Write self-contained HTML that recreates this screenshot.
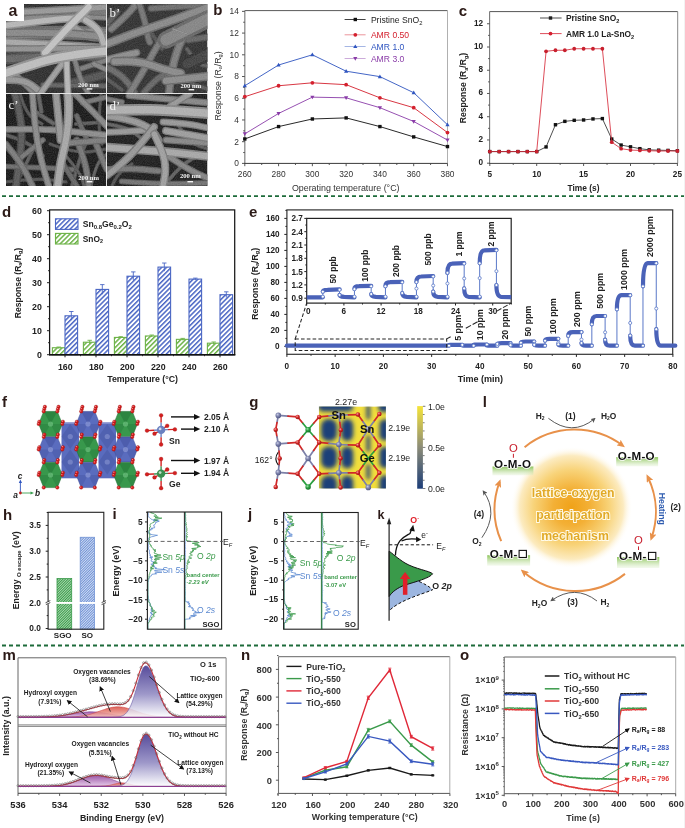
<!DOCTYPE html>
<html><head><meta charset="utf-8"><title>figure</title>
<style>html,body{margin:0;padding:0;background:#fff;width:685px;height:828px;overflow:hidden}svg{display:block;will-change:transform}text{font-family:"Liberation Sans", sans-serif}</style>
</head><body>
<svg width="685" height="828" viewBox="0 0 685 828" font-family='"Liberation Sans", sans-serif'>
<rect x="0.00" y="0.00" width="685.00" height="828.00" fill="#ffffff" stroke="none" stroke-width="1" />
<line x1="2.00" y1="196.20" x2="685.00" y2="196.20" stroke="#1d6b3a" stroke-width="1.8" stroke-dasharray="4 3"/>
<line x1="2.00" y1="645.50" x2="685.00" y2="645.50" stroke="#1d6b3a" stroke-width="1.8" stroke-dasharray="4 3"/>
<rect x="684.00" y="0.00" width="1.00" height="828.00" fill="#f2f2f2" stroke="none" stroke-width="1" />
<defs><filter id="semblur" x="-5%" y="-5%" width="110%" height="110%"><feGaussianBlur stdDeviation="0.65"/></filter><filter id="noise" x="0" y="0" width="100%" height="100%"><feTurbulence type="fractalNoise" baseFrequency="0.9" numOctaves="2" seed="3"/><feColorMatrix type="matrix" values="0 0 0 0 1  0 0 0 0 1  0 0 0 0 1  0 0 0 -1.2 1.1"/></filter></defs>
<clipPath id="clip_a"><rect x="6" y="4" width="100.5" height="89.4"/></clipPath>
<g clip-path="url(#clip_a)">
<rect x="6.00" y="4.00" width="100.50" height="89.40" fill="#262626" stroke="none" stroke-width="1" />
<g filter="url(#semblur)" stroke-linecap="round" stroke-linejoin="round" fill="none">
<path d="M6.0,59.0 Q46.0,56.0 76.5,56.0 L107.0,56.0" stroke="#484848" stroke-width="10.35" fill="none" />
<path d="M6.0,59.0 Q46.0,56.0 76.5,56.0 L107.0,56.0" stroke="#5f5f5f" stroke-width="6.75" fill="none" />
<path d="M6.0,34.0 Q56.0,32.0 81.5,33.0 L107.0,34.0" stroke="#616161" stroke-width="13.799999999999999" fill="none" />
<path d="M6.0,34.0 Q56.0,32.0 81.5,33.0 L107.0,34.0" stroke="#818181" stroke-width="9.0" fill="none" />
<path d="M6.0,12.0 L107.0,12.0" stroke="#545454" stroke-width="9.2" fill="none" />
<path d="M6.0,12.0 L107.0,12.0" stroke="#707070" stroke-width="6.0" fill="none" />
<path d="M68.0,84.0 L107.0,74.0" stroke="#3b3b3b" stroke-width="9.2" fill="none" />
<path d="M68.0,84.0 L107.0,74.0" stroke="#4e4e4e" stroke-width="6.0" fill="none" />
<path d="M76.0,29.0 Q91.0,39.0 99.0,36.5 L107.0,34.0" stroke="#6e6e6e" stroke-width="9.2" fill="none" />
<path d="M76.0,29.0 Q91.0,39.0 99.0,36.5 L107.0,34.0" stroke="#929292" stroke-width="6.0" fill="none" />
<path d="M25.0,12.0 Q65.0,10.0 86.0,8.5 L107.0,7.0" stroke="#6e6e6e" stroke-width="8.049999999999999" fill="none" />
<path d="M25.0,12.0 Q65.0,10.0 86.0,8.5 L107.0,7.0" stroke="#929292" stroke-width="5.25" fill="none" />
<path d="M26.0,18.0 Q66.0,16.0 86.5,17.0 L107.0,18.0" stroke="#616161" stroke-width="5.75" fill="none" />
<path d="M26.0,18.0 Q66.0,16.0 86.5,17.0 L107.0,18.0" stroke="#818181" stroke-width="3.75" fill="none" />
<path d="M6.0,33.0 Q50.0,32.0 78.5,34.5 L107.0,37.0" stroke="#636363" stroke-width="9.2" fill="none" />
<path d="M6.0,33.0 Q50.0,32.0 78.5,34.5 L107.0,37.0" stroke="#838383" stroke-width="6.0" fill="none" />
<path d="M6.0,25.4 Q35.5,21.7 51.8,19.9 Q68.0,18.0 77.5,18.2 L87.0,18.5" stroke="#868686" stroke-width="8.049999999999999" fill="none" />
<path d="M6.0,25.4 Q35.5,21.7 51.8,19.9 Q68.0,18.0 77.5,18.2 L87.0,18.5" stroke="#b2b2b2" stroke-width="5.25" fill="none" />
<path d="M6.0,42.0 Q50.0,44.0 78.5,46.0 L107.0,48.0" stroke="#7a7a7a" stroke-width="8.049999999999999" fill="none" />
<path d="M6.0,42.0 Q50.0,44.0 78.5,46.0 L107.0,48.0" stroke="#a2a2a2" stroke-width="5.25" fill="none" />
<path d="M6.0,49.0 L107.0,48.0" stroke="#6a6a6a" stroke-width="6.8999999999999995" fill="none" />
<path d="M6.0,49.0 L107.0,48.0" stroke="#8c8c8c" stroke-width="4.5" fill="none" />
<path d="M85.6,20.0 Q99.0,28.0 101.5,36.5 L104.0,45.0" stroke="#838383" stroke-width="8.049999999999999" fill="none" />
<path d="M85.6,20.0 Q99.0,28.0 101.5,36.5 L104.0,45.0" stroke="#adadad" stroke-width="5.25" fill="none" />
<path d="M77.0,70.0 L107.0,60.0" stroke="#595959" stroke-width="5.75" fill="none" />
<path d="M77.0,70.0 L107.0,60.0" stroke="#767676" stroke-width="3.75" fill="none" />
<path d="M75.0,61.0 Q80.0,79.0 84.3,86.5 L88.6,94.0" stroke="#5b5b5b" stroke-width="5.75" fill="none" />
<path d="M75.0,61.0 Q80.0,79.0 84.3,86.5 L88.6,94.0" stroke="#787878" stroke-width="3.75" fill="none" />
<path d="M94.0,64.0 L107.0,70.0" stroke="#616161" stroke-width="5.75" fill="none" />
<path d="M94.0,64.0 L107.0,70.0" stroke="#818181" stroke-width="3.75" fill="none" />
<path d="M43.0,85.0 L107.0,86.0" stroke="#444444" stroke-width="5.75" fill="none" />
<path d="M43.0,85.0 L107.0,86.0" stroke="#5a5a5a" stroke-width="3.75" fill="none" />
<path d="M15.0,74.5 L35.5,94.0" stroke="#616161" stroke-width="6.8999999999999995" fill="none" />
<path d="M15.0,74.5 L35.5,94.0" stroke="#818181" stroke-width="4.5" fill="none" />
<path d="M6.0,80.0 Q23.7,79.0 31.9,85.5 L40.0,92.0" stroke="#6e6e6e" stroke-width="8.049999999999999" fill="none" />
<path d="M6.0,80.0 Q23.7,79.0 31.9,85.5 L40.0,92.0" stroke="#929292" stroke-width="5.25" fill="none" />
<path d="M40.0,94.0 L62.0,64.0" stroke="#747474" stroke-width="6.8999999999999995" fill="none" />
<path d="M40.0,94.0 L62.0,64.0" stroke="#9a9a9a" stroke-width="4.5" fill="none" />
<path d="M66.5,61.0 L68.0,94.0" stroke="#868686" stroke-width="6.8999999999999995" fill="none" />
<path d="M66.5,61.0 L68.0,94.0" stroke="#b2b2b2" stroke-width="4.5" fill="none" />
<path d="M45.0,52.7 Q65.0,30.5 76.8,18.8 L88.6,7.0" stroke="#909090" stroke-width="9.2" fill="none" />
<path d="M45.0,52.7 Q65.0,30.5 76.8,18.8 L88.6,7.0" stroke="#bebebe" stroke-width="6.0" fill="none" />
<path d="M6.0,73.0 Q28.0,65.6 39.0,62.3 Q50.0,59.0 65.0,56.4 Q80.0,53.8 93.5,52.3 L107.0,50.9" stroke="#8c8c8c" stroke-width="11.5" fill="none" />
<path d="M6.0,73.0 Q28.0,65.6 39.0,62.3 Q50.0,59.0 65.0,56.4 Q80.0,53.8 93.5,52.3 L107.0,50.9" stroke="#bababa" stroke-width="7.5" fill="none" />
</g>
<rect x="6" y="4" width="100.5" height="89.4" filter="url(#noise)" opacity="0.16"/>
</g>
<clipPath id="clip_b"><rect x="107" y="4" width="100.5" height="89.4"/></clipPath>
<g clip-path="url(#clip_b)">
<rect x="107.00" y="4.00" width="100.50" height="89.40" fill="#2a2a2a" stroke="none" stroke-width="1" />
<g filter="url(#semblur)" stroke-linecap="round" stroke-linejoin="round" fill="none">
<path d="M187.0,49.0 Q197.0,64.0 202.5,65.0 L208.0,66.0" stroke="#404040" stroke-width="4.6" fill="none" />
<path d="M187.0,49.0 Q197.0,64.0 202.5,65.0 L208.0,66.0" stroke="#545454" stroke-width="3.0" fill="none" />
<path d="M107.0,79.0 L122.0,90.0" stroke="#3b3b3b" stroke-width="4.6" fill="none" />
<path d="M107.0,79.0 L122.0,90.0" stroke="#4e4e4e" stroke-width="3.0" fill="none" />
<path d="M152.0,34.0 L162.0,49.0" stroke="#3b3b3b" stroke-width="4.6" fill="none" />
<path d="M152.0,34.0 L162.0,49.0" stroke="#4e4e4e" stroke-width="3.0" fill="none" />
<path d="M192.0,84.0 L208.0,89.0" stroke="#404040" stroke-width="4.6" fill="none" />
<path d="M192.0,84.0 L208.0,89.0" stroke="#545454" stroke-width="3.0" fill="none" />
<path d="M107.0,24.0 L117.0,12.0" stroke="#404040" stroke-width="6.8999999999999995" fill="none" />
<path d="M107.0,24.0 L117.0,12.0" stroke="#545454" stroke-width="4.5" fill="none" />
<path d="M187.0,64.0 L208.0,54.0" stroke="#2c2c2c" stroke-width="13.799999999999999" fill="none" />
<path d="M187.0,64.0 L208.0,54.0" stroke="#3b3b3b" stroke-width="9.0" fill="none" />
<path d="M188.0,40.0 L208.0,37.0" stroke="#484848" stroke-width="6.8999999999999995" fill="none" />
<path d="M188.0,40.0 L208.0,37.0" stroke="#5f5f5f" stroke-width="4.5" fill="none" />
<path d="M151.0,8.4 L208.0,4.7" stroke="#4e4e4e" stroke-width="6.8999999999999995" fill="none" />
<path d="M151.0,8.4 L208.0,4.7" stroke="#676767" stroke-width="4.5" fill="none" />
<path d="M111.4,29.0 Q126.2,15.8 131.3,9.9 L136.5,4.0" stroke="#585858" stroke-width="7.589999999999999" fill="none" />
<path d="M111.4,29.0 Q126.2,15.8 131.3,9.9 L136.5,4.0" stroke="#747474" stroke-width="4.949999999999999" fill="none" />
<path d="M139.4,4.0 Q145.3,21.7 146.4,29.0 Q147.6,36.4 148.7,39.3 L149.8,42.3" stroke="#535353" stroke-width="6.8999999999999995" fill="none" />
<path d="M139.4,4.0 Q145.3,21.7 146.4,29.0 Q147.6,36.4 148.7,39.3 L149.8,42.3" stroke="#6e6e6e" stroke-width="4.5" fill="none" />
<path d="M107.0,67.4 Q118.8,73.3 123.9,78.4 Q129.0,83.6 132.0,88.8 L135.0,94.0" stroke="#4b4b4b" stroke-width="7.589999999999999" fill="none" />
<path d="M107.0,67.4 Q118.8,73.3 123.9,78.4 Q129.0,83.6 132.0,88.8 L135.0,94.0" stroke="#636363" stroke-width="4.949999999999999" fill="none" />
<path d="M143.9,92.5 Q154.2,80.7 160.1,77.0 L166.0,73.3" stroke="#484848" stroke-width="6.8999999999999995" fill="none" />
<path d="M143.9,92.5 Q154.2,80.7 160.1,77.0 L166.0,73.3" stroke="#5f5f5f" stroke-width="4.5" fill="none" />
<path d="M129.0,94.0 Q143.9,70.4 149.8,59.3 Q155.7,48.2 159.3,43.1 L163.0,38.0" stroke="#585858" stroke-width="7.589999999999999" fill="none" />
<path d="M129.0,94.0 Q143.9,70.4 149.8,59.3 Q155.7,48.2 159.3,43.1 L163.0,38.0" stroke="#747474" stroke-width="4.949999999999999" fill="none" />
<path d="M169.0,94.0 Q170.4,74.8 174.1,61.5 Q177.8,48.2 180.8,42.3 L183.7,36.4" stroke="#5b5b5b" stroke-width="8.51" fill="none" />
<path d="M169.0,94.0 Q170.4,74.8 174.1,61.5 Q177.8,48.2 180.8,42.3 L183.7,36.4" stroke="#787878" stroke-width="5.550000000000001" fill="none" />
<path d="M107.0,43.8 Q129.0,35.0 140.0,31.3 Q151.0,27.6 162.0,23.9 Q173.0,20.2 190.5,13.6 L208.0,7.0" stroke="#636363" stroke-width="9.2" fill="none" />
<path d="M107.0,43.8 Q129.0,35.0 140.0,31.3 Q151.0,27.6 162.0,23.9 Q173.0,20.2 190.5,13.6 L208.0,7.0" stroke="#838383" stroke-width="6.0" fill="none" />
<path d="M107.0,60.0 Q121.7,55.6 129.1,54.2 L136.5,52.7" stroke="#666666" stroke-width="7.589999999999999" fill="none" />
<path d="M107.0,60.0 Q121.7,55.6 129.1,54.2 L136.5,52.7" stroke="#878787" stroke-width="4.949999999999999" fill="none" />
<path d="M114.4,61.5 Q136.5,60.0 151.2,65.2 Q166.0,70.4 173.3,71.8 L180.7,73.3" stroke="#646464" stroke-width="9.2" fill="none" />
<path d="M114.4,61.5 Q136.5,60.0 151.2,65.2 Q166.0,70.4 173.3,71.8 L180.7,73.3" stroke="#858585" stroke-width="6.0" fill="none" />
<path d="M166.0,80.7 L208.0,76.3" stroke="#646464" stroke-width="9.2" fill="none" />
<path d="M166.0,80.7 L208.0,76.3" stroke="#858585" stroke-width="6.0" fill="none" />
<path d="M166.0,40.0 L208.0,19.0" stroke="#606060" stroke-width="17.25" fill="none" />
<path d="M166.0,40.0 L208.0,19.0" stroke="#7f7f7f" stroke-width="11.25" fill="none" />
<path d="M173.0,29.0 L187.0,34.0" stroke="#6e6e6e" stroke-width="1.8399999999999999" fill="none" />
<path d="M173.0,29.0 L187.0,34.0" stroke="#929292" stroke-width="1.2000000000000002" fill="none" />
</g>
<rect x="107" y="4" width="100.5" height="89.4" filter="url(#noise)" opacity="0.16"/>
</g>
<clipPath id="clip_c"><rect x="6" y="94" width="100.5" height="92"/></clipPath>
<g clip-path="url(#clip_c)">
<rect x="6.00" y="94.00" width="100.50" height="92.00" fill="#111111" stroke="none" stroke-width="1" />
<g filter="url(#semblur)" stroke-linecap="round" stroke-linejoin="round" fill="none">
<path d="M6.0,135.0 Q26.0,141.0 34.5,148.5 L43.0,156.0" stroke="#3e3e3e" stroke-width="4.0249999999999995" fill="none" />
<path d="M6.0,135.0 Q26.0,141.0 34.5,148.5 L43.0,156.0" stroke="#525252" stroke-width="2.625" fill="none" />
<path d="M16.0,184.0 Q31.0,154.0 34.5,146.5 L38.0,139.0" stroke="#414141" stroke-width="4.0249999999999995" fill="none" />
<path d="M16.0,184.0 Q31.0,154.0 34.5,146.5 L38.0,139.0" stroke="#565656" stroke-width="2.625" fill="none" />
<path d="M50.0,144.0 Q76.0,154.0 91.5,151.5 L107.0,149.0" stroke="#3b3b3b" stroke-width="3.4499999999999997" fill="none" />
<path d="M50.0,144.0 Q76.0,154.0 91.5,151.5 L107.0,149.0" stroke="#4e4e4e" stroke-width="2.25" fill="none" />
<path d="M72.0,186.0 Q78.0,164.0 82.0,153.0 L86.0,142.0" stroke="#414141" stroke-width="4.0249999999999995" fill="none" />
<path d="M72.0,186.0 Q78.0,164.0 82.0,153.0 L86.0,142.0" stroke="#565656" stroke-width="2.625" fill="none" />
<path d="M91.0,186.0 Q96.0,164.0 101.5,159.0 L107.0,154.0" stroke="#444444" stroke-width="3.4499999999999997" fill="none" />
<path d="M91.0,186.0 Q96.0,164.0 101.5,159.0 L107.0,154.0" stroke="#5a5a5a" stroke-width="2.25" fill="none" />
<path d="M6.0,182.0 Q36.0,178.0 51.0,180.0 L66.0,182.0" stroke="#393939" stroke-width="3.4499999999999997" fill="none" />
<path d="M6.0,182.0 Q36.0,178.0 51.0,180.0 L66.0,182.0" stroke="#4c4c4c" stroke-width="2.25" fill="none" />
<path d="M36.0,114.0 L51.0,121.0" stroke="#3b3b3b" stroke-width="3.4499999999999997" fill="none" />
<path d="M36.0,114.0 L51.0,121.0" stroke="#4e4e4e" stroke-width="2.25" fill="none" />
<path d="M76.0,124.0 L107.0,122.0" stroke="#404040" stroke-width="4.0249999999999995" fill="none" />
<path d="M76.0,124.0 L107.0,122.0" stroke="#545454" stroke-width="2.625" fill="none" />
<path d="M101.0,94.0 Q98.0,124.0 100.0,134.0 L102.0,144.0" stroke="#3b3b3b" stroke-width="3.4499999999999997" fill="none" />
<path d="M101.0,94.0 Q98.0,124.0 100.0,134.0 L102.0,144.0" stroke="#4e4e4e" stroke-width="2.25" fill="none" />
<path d="M20.0,94.0 Q26.0,114.0 34.0,119.0 L42.0,124.0" stroke="#3b3b3b" stroke-width="3.4499999999999997" fill="none" />
<path d="M20.0,94.0 Q26.0,114.0 34.0,119.0 L42.0,124.0" stroke="#4e4e4e" stroke-width="2.25" fill="none" />
<path d="M66.0,156.0 Q81.0,174.0 82.5,180.0 L84.0,186.0" stroke="#3e3e3e" stroke-width="3.4499999999999997" fill="none" />
<path d="M66.0,156.0 Q81.0,174.0 82.5,180.0 L84.0,186.0" stroke="#525252" stroke-width="2.25" fill="none" />
<path d="M15.0,94.0 Q20.7,116.0 21.4,128.0 Q22.2,140.0 19.1,163.0 L16.0,186.0" stroke="#3e3e3e" stroke-width="8.049999999999999" fill="none" />
<path d="M15.0,94.0 Q20.7,116.0 21.4,128.0 Q22.2,140.0 19.1,163.0 L16.0,186.0" stroke="#525252" stroke-width="5.25" fill="none" />
<path d="M35.5,111.7 L53.2,123.5" stroke="#444444" stroke-width="4.6" fill="none" />
<path d="M35.5,111.7 L53.2,123.5" stroke="#5a5a5a" stroke-width="3.0" fill="none" />
<path d="M38.4,94.0 L41.4,111.7" stroke="#444444" stroke-width="4.6" fill="none" />
<path d="M38.4,94.0 L41.4,111.7" stroke="#5a5a5a" stroke-width="3.0" fill="none" />
<path d="M76.8,116.0 L87.0,140.0" stroke="#484848" stroke-width="5.75" fill="none" />
<path d="M76.8,116.0 L87.0,140.0" stroke="#5f5f5f" stroke-width="3.75" fill="none" />
<path d="M82.7,102.8 L107.0,97.0" stroke="#545454" stroke-width="5.75" fill="none" />
<path d="M82.7,102.8 L107.0,97.0" stroke="#707070" stroke-width="3.75" fill="none" />
<path d="M75.3,94.0 Q94.5,113.2 100.8,119.8 L107.0,126.4" stroke="#616161" stroke-width="6.8999999999999995" fill="none" />
<path d="M75.3,94.0 Q94.5,113.2 100.8,119.8 L107.0,126.4" stroke="#818181" stroke-width="4.5" fill="none" />
<path d="M6.0,166.5 Q50.0,168.0 61.2,168.8 L72.4,169.5" stroke="#4c4c4c" stroke-width="5.75" fill="none" />
<path d="M6.0,166.5 Q50.0,168.0 61.2,168.8 L72.4,169.5" stroke="#656565" stroke-width="3.75" fill="none" />
<path d="M20.7,157.7 L42.9,140.0" stroke="#545454" stroke-width="5.75" fill="none" />
<path d="M20.7,157.7 L42.9,140.0" stroke="#707070" stroke-width="3.75" fill="none" />
<path d="M6.0,144.4 Q20.7,162.0 26.6,174.0 L32.5,186.0" stroke="#585858" stroke-width="6.8999999999999995" fill="none" />
<path d="M6.0,144.4 Q20.7,162.0 26.6,174.0 L32.5,186.0" stroke="#757575" stroke-width="4.5" fill="none" />
<path d="M76.8,140.0 Q85.6,162.0 87.1,174.0 L88.6,186.0" stroke="#545454" stroke-width="6.8999999999999995" fill="none" />
<path d="M76.8,140.0 Q85.6,162.0 87.1,174.0 L88.6,186.0" stroke="#707070" stroke-width="4.5" fill="none" />
<path d="M94.5,140.0 Q103.3,162.0 105.2,165.8 L107.0,169.5" stroke="#545454" stroke-width="6.8999999999999995" fill="none" />
<path d="M94.5,140.0 Q103.3,162.0 105.2,165.8 L107.0,169.5" stroke="#707070" stroke-width="4.5" fill="none" />
<path d="M69.4,143.0 L107.0,140.0" stroke="#595959" stroke-width="6.8999999999999995" fill="none" />
<path d="M69.4,143.0 L107.0,140.0" stroke="#767676" stroke-width="4.5" fill="none" />
<path d="M62.0,162.0 L76.8,186.0" stroke="#484848" stroke-width="5.75" fill="none" />
<path d="M62.0,162.0 L76.8,186.0" stroke="#5f5f5f" stroke-width="3.75" fill="none" />
<path d="M6.0,129.4 Q35.5,128.7 50.2,129.8 Q65.0,130.9 86.0,133.1 L107.0,135.3" stroke="#666666" stroke-width="6.8999999999999995" fill="none" />
<path d="M6.0,129.4 Q35.5,128.7 50.2,129.8 Q65.0,130.9 86.0,133.1 L107.0,135.3" stroke="#878787" stroke-width="4.5" fill="none" />
<path d="M32.5,94.0 Q34.0,116.0 35.5,128.0 Q37.0,140.0 39.2,151.0 Q41.4,162.0 45.1,174.0 L48.8,186.0" stroke="#646464" stroke-width="6.8999999999999995" fill="none" />
<path d="M32.5,94.0 Q34.0,116.0 35.5,128.0 Q37.0,140.0 39.2,151.0 Q41.4,162.0 45.1,174.0 L48.8,186.0" stroke="#858585" stroke-width="4.5" fill="none" />
<path d="M56.0,94.0 Q59.0,123.5 59.8,131.8 L60.6,140.0" stroke="#6e6e6e" stroke-width="8.049999999999999" fill="none" />
<path d="M56.0,94.0 Q59.0,123.5 59.8,131.8 L60.6,140.0" stroke="#929292" stroke-width="5.25" fill="none" />
<path d="M68.0,94.0 Q69.4,108.7 68.0,124.3 Q66.5,140.0 63.5,151.0 Q60.6,162.0 59.1,174.0 L57.6,186.0" stroke="#7a7a7a" stroke-width="9.2" fill="none" />
<path d="M68.0,94.0 Q69.4,108.7 68.0,124.3 Q66.5,140.0 63.5,151.0 Q60.6,162.0 59.1,174.0 L57.6,186.0" stroke="#a2a2a2" stroke-width="6.0" fill="none" />
</g>
<rect x="6" y="94" width="100.5" height="92" filter="url(#noise)" opacity="0.16"/>
</g>
<clipPath id="clip_d"><rect x="107" y="94" width="100.5" height="92"/></clipPath>
<g clip-path="url(#clip_d)">
<rect x="107.00" y="94.00" width="100.50" height="92.00" fill="#161616" stroke="none" stroke-width="1" />
<g filter="url(#semblur)" stroke-linecap="round" stroke-linejoin="round" fill="none">
<path d="M107.0,124.0 Q127.0,127.0 134.5,133.0 L142.0,139.0" stroke="#444444" stroke-width="4.0249999999999995" fill="none" />
<path d="M107.0,124.0 Q127.0,127.0 134.5,133.0 L142.0,139.0" stroke="#5a5a5a" stroke-width="2.625" fill="none" />
<path d="M167.0,182.0 Q182.0,164.0 192.0,159.0 L202.0,154.0" stroke="#444444" stroke-width="4.0249999999999995" fill="none" />
<path d="M167.0,182.0 Q182.0,164.0 192.0,159.0 L202.0,154.0" stroke="#5a5a5a" stroke-width="2.625" fill="none" />
<path d="M177.0,124.0 Q192.0,144.0 200.0,146.5 L208.0,149.0" stroke="#404040" stroke-width="3.4499999999999997" fill="none" />
<path d="M177.0,124.0 Q192.0,144.0 200.0,146.5 L208.0,149.0" stroke="#545454" stroke-width="2.25" fill="none" />
<path d="M112.0,186.0 Q117.0,174.0 124.5,169.0 L132.0,164.0" stroke="#3b3b3b" stroke-width="3.4499999999999997" fill="none" />
<path d="M112.0,186.0 Q117.0,174.0 124.5,169.0 L132.0,164.0" stroke="#4e4e4e" stroke-width="2.25" fill="none" />
<path d="M129.0,95.5 L208.0,102.8" stroke="#616161" stroke-width="6.8999999999999995" fill="none" />
<path d="M129.0,95.5 L208.0,102.8" stroke="#818181" stroke-width="4.5" fill="none" />
<path d="M107.0,99.0 L122.0,102.0" stroke="#545454" stroke-width="5.75" fill="none" />
<path d="M107.0,99.0 L122.0,102.0" stroke="#707070" stroke-width="3.75" fill="none" />
<path d="M170.4,105.8 L189.6,94.0" stroke="#6e6e6e" stroke-width="6.8999999999999995" fill="none" />
<path d="M170.4,105.8 L189.6,94.0" stroke="#929292" stroke-width="4.5" fill="none" />
<path d="M107.0,169.5 Q129.0,168.0 143.8,169.5 L158.6,171.0" stroke="#545454" stroke-width="6.8999999999999995" fill="none" />
<path d="M107.0,169.5 Q129.0,168.0 143.8,169.5 L158.6,171.0" stroke="#707070" stroke-width="4.5" fill="none" />
<path d="M166.0,154.7 Q188.0,169.5 198.0,173.9 L208.0,178.3" stroke="#5f5f5f" stroke-width="6.8999999999999995" fill="none" />
<path d="M166.0,154.7 Q188.0,169.5 198.0,173.9 L208.0,178.3" stroke="#7e7e7e" stroke-width="4.5" fill="none" />
<path d="M121.7,181.3 Q158.6,184.2 183.3,183.5 L208.0,182.8" stroke="#515151" stroke-width="5.75" fill="none" />
<path d="M121.7,181.3 Q158.6,184.2 183.3,183.5 L208.0,182.8" stroke="#6c6c6c" stroke-width="3.75" fill="none" />
<path d="M166.0,140.0 L208.0,143.0" stroke="#616161" stroke-width="6.8999999999999995" fill="none" />
<path d="M166.0,140.0 L208.0,143.0" stroke="#818181" stroke-width="4.5" fill="none" />
<path d="M107.0,132.3 Q136.5,130.9 143.8,130.2 L151.0,129.4" stroke="#6e6e6e" stroke-width="6.8999999999999995" fill="none" />
<path d="M107.0,132.3 Q136.5,130.9 143.8,130.2 L151.0,129.4" stroke="#929292" stroke-width="4.5" fill="none" />
<path d="M163.0,122.0 Q188.0,123.5 198.0,125.8 L208.0,128.0" stroke="#6e6e6e" stroke-width="6.8999999999999995" fill="none" />
<path d="M163.0,122.0 Q188.0,123.5 198.0,125.8 L208.0,128.0" stroke="#929292" stroke-width="4.5" fill="none" />
<path d="M166.0,130.9 L208.0,138.2" stroke="#737373" stroke-width="8.049999999999999" fill="none" />
<path d="M166.0,130.9 L208.0,138.2" stroke="#989898" stroke-width="5.25" fill="none" />
<path d="M107.0,116.0 Q129.0,119.0 140.0,123.5 Q151.0,128.0 154.8,134.0 L158.6,140.0" stroke="#6e6e6e" stroke-width="8.049999999999999" fill="none" />
<path d="M107.0,116.0 Q129.0,119.0 140.0,123.5 Q151.0,128.0 154.8,134.0 L158.6,140.0" stroke="#929292" stroke-width="5.25" fill="none" />
<path d="M107.0,147.4 Q151.0,150.3 179.5,153.2 L208.0,156.2" stroke="#7a7a7a" stroke-width="9.2" fill="none" />
<path d="M107.0,147.4 Q151.0,150.3 179.5,153.2 L208.0,156.2" stroke="#a2a2a2" stroke-width="6.0" fill="none" />
<path d="M107.0,175.4 Q124.7,162.0 134.3,151.0 Q143.9,140.0 148.9,133.5 L154.0,127.0" stroke="#6e6e6e" stroke-width="8.049999999999999" fill="none" />
<path d="M107.0,175.4 Q124.7,162.0 134.3,151.0 Q143.9,140.0 148.9,133.5 L154.0,127.0" stroke="#929292" stroke-width="5.25" fill="none" />
<path d="M154.2,134.0 Q163.0,151.8 164.5,160.7 Q166.0,169.5 164.5,177.8 L163.0,186.0" stroke="#747474" stroke-width="8.049999999999999" fill="none" />
<path d="M154.2,134.0 Q163.0,151.8 164.5,160.7 Q166.0,169.5 164.5,177.8 L163.0,186.0" stroke="#9a9a9a" stroke-width="5.25" fill="none" />
<path d="M107.0,110.2 Q136.5,109.5 151.2,109.8 Q166.0,110.2 187.0,111.7 L208.0,113.2" stroke="#818181" stroke-width="11.5" fill="none" />
<path d="M107.0,110.2 Q136.5,109.5 151.2,109.8 Q166.0,110.2 187.0,111.7 L208.0,113.2" stroke="#ababab" stroke-width="7.5" fill="none" />
</g>
<rect x="107" y="94" width="100.5" height="92" filter="url(#noise)" opacity="0.16"/>
</g>
<rect x="106.00" y="4.00" width="1.00" height="182.00" fill="#e4e4e4" stroke="none" stroke-width="1" />
<rect x="6.00" y="93.00" width="201.00" height="1.00" fill="#e4e4e4" stroke="none" stroke-width="1" />
<rect x="5.00" y="3.00" width="19.00" height="18.00" fill="#fff" stroke="none" stroke-width="1" />
<text x="8.60" y="16.00" font-size="16" font-weight="bold" fill="#2b1a17" >a</text>
<text x="109.50" y="16.50" font-size="13" fill="#f2f2f2" style="font-family:Liberation Serif">b’</text>
<text x="8.50" y="108.80" font-size="13" fill="#f2f2f2" style="font-family:Liberation Serif">c’</text>
<text x="109.50" y="109.50" font-size="13" fill="#f2f2f2" style="font-family:Liberation Serif">d’</text>
<text x="78.00" y="87.00" font-size="6.6" font-weight="bold" fill="#f4f4f4" style="font-family:Liberation Serif">200 nm</text>
<rect x="86.80" y="88.20" width="5.60" height="1.40" fill="#f4f4f4" stroke="none" stroke-width="1" />
<text x="180.50" y="88.00" font-size="6.6" font-weight="bold" fill="#f4f4f4" style="font-family:Liberation Serif">200 nm</text>
<rect x="188.60" y="89.00" width="5.60" height="1.40" fill="#f4f4f4" stroke="none" stroke-width="1" />
<text x="78.30" y="180.00" font-size="6.6" font-weight="bold" fill="#f4f4f4" style="font-family:Liberation Serif">200 nm</text>
<rect x="86.80" y="181.00" width="5.60" height="1.40" fill="#f4f4f4" stroke="none" stroke-width="1" />
<text x="180.00" y="178.00" font-size="6.6" font-weight="bold" fill="#f4f4f4" style="font-family:Liberation Serif">200 nm</text>
<rect x="187.40" y="181.00" width="5.60" height="1.40" fill="#f4f4f4" stroke="none" stroke-width="1" />
<line x1="244.80" y1="10.60" x2="447.50" y2="10.60" stroke="#5a5a5a" stroke-width="1" />
<line x1="447.50" y1="10.60" x2="447.50" y2="163.40" stroke="#b0b0b0" stroke-width="1" />
<line x1="244.80" y1="10.60" x2="244.80" y2="163.40" stroke="#8a8a8a" stroke-width="1.3" />
<line x1="244.20" y1="163.40" x2="447.50" y2="163.40" stroke="#3a3a3a" stroke-width="1" />
<line x1="242.00" y1="163.40" x2="244.80" y2="163.40" stroke="#444" stroke-width="0.9" />
<line x1="242.00" y1="141.68" x2="244.80" y2="141.68" stroke="#444" stroke-width="0.9" />
<line x1="242.00" y1="119.96" x2="244.80" y2="119.96" stroke="#444" stroke-width="0.9" />
<line x1="242.00" y1="98.24" x2="244.80" y2="98.24" stroke="#444" stroke-width="0.9" />
<line x1="242.00" y1="76.52" x2="244.80" y2="76.52" stroke="#444" stroke-width="0.9" />
<line x1="242.00" y1="54.80" x2="244.80" y2="54.80" stroke="#444" stroke-width="0.9" />
<line x1="242.00" y1="33.08" x2="244.80" y2="33.08" stroke="#444" stroke-width="0.9" />
<line x1="242.00" y1="11.36" x2="244.80" y2="11.36" stroke="#444" stroke-width="0.9" />
<line x1="243.20" y1="152.54" x2="244.80" y2="152.54" stroke="#444" stroke-width="0.9" />
<line x1="243.20" y1="130.82" x2="244.80" y2="130.82" stroke="#444" stroke-width="0.9" />
<line x1="243.20" y1="109.10" x2="244.80" y2="109.10" stroke="#444" stroke-width="0.9" />
<line x1="243.20" y1="87.38" x2="244.80" y2="87.38" stroke="#444" stroke-width="0.9" />
<line x1="243.20" y1="65.66" x2="244.80" y2="65.66" stroke="#444" stroke-width="0.9" />
<line x1="243.20" y1="43.94" x2="244.80" y2="43.94" stroke="#444" stroke-width="0.9" />
<line x1="243.20" y1="22.22" x2="244.80" y2="22.22" stroke="#444" stroke-width="0.9" />
<line x1="244.80" y1="163.40" x2="244.80" y2="166.20" stroke="#444" stroke-width="0.9" />
<line x1="278.58" y1="163.40" x2="278.58" y2="166.20" stroke="#444" stroke-width="0.9" />
<line x1="312.36" y1="163.40" x2="312.36" y2="166.20" stroke="#444" stroke-width="0.9" />
<line x1="346.14" y1="163.40" x2="346.14" y2="166.20" stroke="#444" stroke-width="0.9" />
<line x1="379.92" y1="163.40" x2="379.92" y2="166.20" stroke="#444" stroke-width="0.9" />
<line x1="413.70" y1="163.40" x2="413.70" y2="166.20" stroke="#444" stroke-width="0.9" />
<line x1="447.48" y1="163.40" x2="447.48" y2="166.20" stroke="#444" stroke-width="0.9" />
<line x1="261.69" y1="163.40" x2="261.69" y2="165.00" stroke="#444" stroke-width="0.9" />
<line x1="295.47" y1="163.40" x2="295.47" y2="165.00" stroke="#444" stroke-width="0.9" />
<line x1="329.25" y1="163.40" x2="329.25" y2="165.00" stroke="#444" stroke-width="0.9" />
<line x1="363.03" y1="163.40" x2="363.03" y2="165.00" stroke="#444" stroke-width="0.9" />
<line x1="396.81" y1="163.40" x2="396.81" y2="165.00" stroke="#444" stroke-width="0.9" />
<line x1="430.59" y1="163.40" x2="430.59" y2="165.00" stroke="#444" stroke-width="0.9" />
<text x="238.80" y="166.30" font-size="8.4" text-anchor="end" fill="#333" >0</text>
<text x="238.80" y="144.58" font-size="8.4" text-anchor="end" fill="#333" >2</text>
<text x="238.80" y="122.86" font-size="8.4" text-anchor="end" fill="#333" >4</text>
<text x="238.80" y="101.14" font-size="8.4" text-anchor="end" fill="#333" >6</text>
<text x="238.80" y="79.42" font-size="8.4" text-anchor="end" fill="#333" >8</text>
<text x="238.80" y="57.70" font-size="8.4" text-anchor="end" fill="#333" >10</text>
<text x="238.80" y="35.98" font-size="8.4" text-anchor="end" fill="#333" >12</text>
<text x="238.80" y="14.26" font-size="8.4" text-anchor="end" fill="#333" >14</text>
<text x="244.80" y="177.30" font-size="8.4" text-anchor="middle" fill="#333" >260</text>
<text x="278.58" y="177.30" font-size="8.4" text-anchor="middle" fill="#333" >280</text>
<text x="312.36" y="177.30" font-size="8.4" text-anchor="middle" fill="#333" >300</text>
<text x="346.14" y="177.30" font-size="8.4" text-anchor="middle" fill="#333" >320</text>
<text x="379.92" y="177.30" font-size="8.4" text-anchor="middle" fill="#333" >340</text>
<text x="413.70" y="177.30" font-size="8.4" text-anchor="middle" fill="#333" >360</text>
<text x="447.48" y="177.30" font-size="8.4" text-anchor="middle" fill="#333" >380</text>
<text x="345.70" y="190.80" font-size="8.9" text-anchor="middle" fill="#333" >Operating temperature (°C)</text>
<text transform="translate(220.90,86.00) rotate(-90)" font-size="8.8" text-anchor="middle" fill="#333" >Response (R<tspan font-size="5.5" dy="1.5">a</tspan><tspan dy="-1.5">/R</tspan><tspan font-size="5.5" dy="1.5">g</tspan><tspan dy="-1.5">)</tspan></text>
<text x="213.30" y="15.30" font-size="15" font-weight="bold" fill="#2b1a17" >b</text>
<polyline points="244.80,138.97 278.58,126.58 312.36,118.98 346.14,117.90 379.92,126.58 413.70,136.90 447.48,146.57" stroke="#111111" stroke-width="0.9" fill="none" />
<rect x="243.10" y="137.27" width="3.40" height="3.40" fill="#111111" stroke="none" stroke-width="1" />
<rect x="276.88" y="124.88" width="3.40" height="3.40" fill="#111111" stroke="none" stroke-width="1" />
<rect x="310.66" y="117.28" width="3.40" height="3.40" fill="#111111" stroke="none" stroke-width="1" />
<rect x="344.44" y="116.20" width="3.40" height="3.40" fill="#111111" stroke="none" stroke-width="1" />
<rect x="378.22" y="124.88" width="3.40" height="3.40" fill="#111111" stroke="none" stroke-width="1" />
<rect x="412.00" y="135.20" width="3.40" height="3.40" fill="#111111" stroke="none" stroke-width="1" />
<rect x="445.78" y="144.87" width="3.40" height="3.40" fill="#111111" stroke="none" stroke-width="1" />
<polyline points="244.80,96.72 278.58,85.75 312.36,82.82 346.14,84.67 379.92,97.81 413.70,107.69 447.48,132.56" stroke="#d4202e" stroke-width="0.9" fill="none" />
<circle cx="244.80" cy="96.72" r="1.90" fill="#d4202e" stroke="none" stroke-width="1" />
<circle cx="278.58" cy="85.75" r="1.90" fill="#d4202e" stroke="none" stroke-width="1" />
<circle cx="312.36" cy="82.82" r="1.90" fill="#d4202e" stroke="none" stroke-width="1" />
<circle cx="346.14" cy="84.67" r="1.90" fill="#d4202e" stroke="none" stroke-width="1" />
<circle cx="379.92" cy="97.81" r="1.90" fill="#d4202e" stroke="none" stroke-width="1" />
<circle cx="413.70" cy="107.69" r="1.90" fill="#d4202e" stroke="none" stroke-width="1" />
<circle cx="447.48" cy="132.56" r="1.90" fill="#d4202e" stroke="none" stroke-width="1" />
<polyline points="244.80,85.75 278.58,65.01 312.36,54.80 346.14,71.20 379.92,76.63 413.70,92.70 447.48,124.74" stroke="#2f55c0" stroke-width="0.9" fill="none" />
<polygon points="244.80,83.55 246.90,87.25 242.70,87.25" fill="#2f55c0" stroke="none" stroke-width="1" />
<polygon points="278.58,62.81 280.68,66.51 276.48,66.51" fill="#2f55c0" stroke="none" stroke-width="1" />
<polygon points="312.36,52.60 314.46,56.30 310.26,56.30" fill="#2f55c0" stroke="none" stroke-width="1" />
<polygon points="346.14,69.00 348.24,72.70 344.04,72.70" fill="#2f55c0" stroke="none" stroke-width="1" />
<polygon points="379.92,74.43 382.02,78.13 377.82,78.13" fill="#2f55c0" stroke="none" stroke-width="1" />
<polygon points="413.70,90.50 415.80,94.20 411.60,94.20" fill="#2f55c0" stroke="none" stroke-width="1" />
<polygon points="447.48,122.54 449.58,126.24 445.38,126.24" fill="#2f55c0" stroke="none" stroke-width="1" />
<polyline points="244.80,133.86 278.58,113.44 312.36,97.15 346.14,97.81 379.92,107.69 413.70,121.48 447.48,140.05" stroke="#8a3ca8" stroke-width="0.9" fill="none" />
<polygon points="244.80,136.06 246.90,132.36 242.70,132.36" fill="#8a3ca8" stroke="none" stroke-width="1" />
<polygon points="278.58,115.64 280.68,111.94 276.48,111.94" fill="#8a3ca8" stroke="none" stroke-width="1" />
<polygon points="312.36,99.35 314.46,95.65 310.26,95.65" fill="#8a3ca8" stroke="none" stroke-width="1" />
<polygon points="346.14,100.01 348.24,96.31 344.04,96.31" fill="#8a3ca8" stroke="none" stroke-width="1" />
<polygon points="379.92,109.89 382.02,106.19 377.82,106.19" fill="#8a3ca8" stroke="none" stroke-width="1" />
<polygon points="413.70,123.68 415.80,119.98 411.60,119.98" fill="#8a3ca8" stroke="none" stroke-width="1" />
<polygon points="447.48,142.25 449.58,138.55 445.38,138.55" fill="#8a3ca8" stroke="none" stroke-width="1" />
<line x1="344.60" y1="19.50" x2="365.60" y2="19.50" stroke="#111111" stroke-width="0.8" />
<rect x="353.60" y="17.80" width="3.40" height="3.40" fill="#111111" stroke="none" stroke-width="1" />
<text x="370.90" y="22.60" font-size="8.6" fill="#222" >Pristine SnO<tspan font-size="5.8" dy="2">2</tspan></text>
<line x1="344.60" y1="34.80" x2="365.60" y2="34.80" stroke="#d4202e" stroke-width="0.8" opacity="0.6"/>
<circle cx="355.30" cy="34.80" r="1.90" fill="#d4202e" stroke="none" stroke-width="1" />
<text x="370.90" y="37.90" font-size="8.6" fill="#d4202e" >AMR 0.50</text>
<line x1="344.60" y1="46.60" x2="365.60" y2="46.60" stroke="#2f55c0" stroke-width="0.8" opacity="0.6"/>
<polygon points="355.30,44.40 357.40,48.10 353.20,48.10" fill="#2f55c0" stroke="none" stroke-width="1" />
<text x="370.90" y="49.70" font-size="8.6" fill="#2f55c0" >AMR 1.0</text>
<line x1="344.60" y1="58.60" x2="365.60" y2="58.60" stroke="#8a3ca8" stroke-width="0.8" opacity="0.6"/>
<polygon points="355.30,60.80 357.40,57.10 353.20,57.10" fill="#8a3ca8" stroke="none" stroke-width="1" />
<text x="370.90" y="61.70" font-size="8.6" fill="#8a3ca8" >AMR 3.0</text>
<line x1="489.60" y1="11.60" x2="677.70" y2="11.60" stroke="#555" stroke-width="1" />
<line x1="677.70" y1="11.60" x2="677.70" y2="163.40" stroke="#888" stroke-width="1" />
<line x1="489.60" y1="11.60" x2="489.60" y2="163.40" stroke="#777" stroke-width="1.1" />
<line x1="489.00" y1="163.40" x2="677.70" y2="163.40" stroke="#444" stroke-width="1" />
<line x1="487.00" y1="163.20" x2="489.60" y2="163.20" stroke="#444" stroke-width="0.9" />
<line x1="487.00" y1="139.96" x2="489.60" y2="139.96" stroke="#444" stroke-width="0.9" />
<line x1="487.00" y1="116.72" x2="489.60" y2="116.72" stroke="#444" stroke-width="0.9" />
<line x1="487.00" y1="93.48" x2="489.60" y2="93.48" stroke="#444" stroke-width="0.9" />
<line x1="487.00" y1="70.24" x2="489.60" y2="70.24" stroke="#444" stroke-width="0.9" />
<line x1="487.00" y1="47.00" x2="489.60" y2="47.00" stroke="#444" stroke-width="0.9" />
<line x1="487.00" y1="23.76" x2="489.60" y2="23.76" stroke="#444" stroke-width="0.9" />
<line x1="488.10" y1="151.58" x2="489.60" y2="151.58" stroke="#444" stroke-width="0.9" />
<line x1="488.10" y1="128.34" x2="489.60" y2="128.34" stroke="#444" stroke-width="0.9" />
<line x1="488.10" y1="105.10" x2="489.60" y2="105.10" stroke="#444" stroke-width="0.9" />
<line x1="488.10" y1="81.86" x2="489.60" y2="81.86" stroke="#444" stroke-width="0.9" />
<line x1="488.10" y1="58.62" x2="489.60" y2="58.62" stroke="#444" stroke-width="0.9" />
<line x1="488.10" y1="35.38" x2="489.60" y2="35.38" stroke="#444" stroke-width="0.9" />
<line x1="489.80" y1="163.40" x2="489.80" y2="166.00" stroke="#444" stroke-width="0.9" />
<line x1="536.70" y1="163.40" x2="536.70" y2="166.00" stroke="#444" stroke-width="0.9" />
<line x1="583.60" y1="163.40" x2="583.60" y2="166.00" stroke="#444" stroke-width="0.9" />
<line x1="630.50" y1="163.40" x2="630.50" y2="166.00" stroke="#444" stroke-width="0.9" />
<line x1="677.40" y1="163.40" x2="677.40" y2="166.00" stroke="#444" stroke-width="0.9" />
<line x1="513.25" y1="163.40" x2="513.25" y2="164.90" stroke="#444" stroke-width="0.9" />
<line x1="560.15" y1="163.40" x2="560.15" y2="164.90" stroke="#444" stroke-width="0.9" />
<line x1="607.05" y1="163.40" x2="607.05" y2="164.90" stroke="#444" stroke-width="0.9" />
<line x1="653.95" y1="163.40" x2="653.95" y2="164.90" stroke="#444" stroke-width="0.9" />
<text x="483.00" y="165.20" font-size="8.2" font-weight="bold" text-anchor="end" fill="#222" >0</text>
<text x="483.00" y="141.96" font-size="8.2" font-weight="bold" text-anchor="end" fill="#222" >2</text>
<text x="483.00" y="118.72" font-size="8.2" font-weight="bold" text-anchor="end" fill="#222" >4</text>
<text x="483.00" y="95.48" font-size="8.2" font-weight="bold" text-anchor="end" fill="#222" >6</text>
<text x="483.00" y="72.24" font-size="8.2" font-weight="bold" text-anchor="end" fill="#222" >8</text>
<text x="483.00" y="49.00" font-size="8.2" font-weight="bold" text-anchor="end" fill="#222" >10</text>
<text x="483.00" y="25.76" font-size="8.2" font-weight="bold" text-anchor="end" fill="#222" >12</text>
<text x="489.80" y="177.00" font-size="8.2" font-weight="bold" text-anchor="middle" fill="#222" >5</text>
<text x="536.70" y="177.00" font-size="8.2" font-weight="bold" text-anchor="middle" fill="#222" >10</text>
<text x="583.60" y="177.00" font-size="8.2" font-weight="bold" text-anchor="middle" fill="#222" >15</text>
<text x="630.50" y="177.00" font-size="8.2" font-weight="bold" text-anchor="middle" fill="#222" >20</text>
<text x="677.40" y="177.00" font-size="8.2" font-weight="bold" text-anchor="middle" fill="#222" >25</text>
<text x="583.50" y="190.60" font-size="8.4" font-weight="bold" text-anchor="middle" fill="#222" >Time (s)</text>
<text transform="translate(466.30,88.00) rotate(-90)" font-size="8.6" font-weight="bold" text-anchor="middle" fill="#222" >Response (R<tspan font-size="5.5" dy="1.5">a</tspan><tspan dy="-1.5">/R</tspan><tspan font-size="5.5" dy="1.5">g</tspan><tspan dy="-1.5">)</tspan></text>
<text x="458.80" y="15.60" font-size="15" font-weight="bold" fill="#2b1a17" >c</text>
<polyline points="489.80,151.58 499.18,151.58 508.56,151.58 517.94,151.58 527.32,151.58 536.70,151.58 546.08,146.93 555.46,124.74 564.84,121.37 574.22,120.32 583.60,119.97 592.98,118.93 602.36,118.58 611.74,139.03 621.12,145.07 630.50,146.82 639.88,148.67 649.26,149.84 658.64,150.19 668.02,150.42 677.40,150.77" stroke="#222" stroke-width="0.8" fill="none" />
<rect x="488.10" y="149.88" width="3.40" height="3.40" fill="#111" stroke="none" stroke-width="1" />
<rect x="497.48" y="149.88" width="3.40" height="3.40" fill="#111" stroke="none" stroke-width="1" />
<rect x="506.86" y="149.88" width="3.40" height="3.40" fill="#111" stroke="none" stroke-width="1" />
<rect x="516.24" y="149.88" width="3.40" height="3.40" fill="#111" stroke="none" stroke-width="1" />
<rect x="525.62" y="149.88" width="3.40" height="3.40" fill="#111" stroke="none" stroke-width="1" />
<rect x="535.00" y="149.88" width="3.40" height="3.40" fill="#111" stroke="none" stroke-width="1" />
<rect x="544.38" y="145.23" width="3.40" height="3.40" fill="#111" stroke="none" stroke-width="1" />
<rect x="553.76" y="123.04" width="3.40" height="3.40" fill="#111" stroke="none" stroke-width="1" />
<rect x="563.14" y="119.67" width="3.40" height="3.40" fill="#111" stroke="none" stroke-width="1" />
<rect x="572.52" y="118.62" width="3.40" height="3.40" fill="#111" stroke="none" stroke-width="1" />
<rect x="581.90" y="118.27" width="3.40" height="3.40" fill="#111" stroke="none" stroke-width="1" />
<rect x="591.28" y="117.23" width="3.40" height="3.40" fill="#111" stroke="none" stroke-width="1" />
<rect x="600.66" y="116.88" width="3.40" height="3.40" fill="#111" stroke="none" stroke-width="1" />
<rect x="610.04" y="137.33" width="3.40" height="3.40" fill="#111" stroke="none" stroke-width="1" />
<rect x="619.42" y="143.37" width="3.40" height="3.40" fill="#111" stroke="none" stroke-width="1" />
<rect x="628.80" y="145.12" width="3.40" height="3.40" fill="#111" stroke="none" stroke-width="1" />
<rect x="638.18" y="146.97" width="3.40" height="3.40" fill="#111" stroke="none" stroke-width="1" />
<rect x="647.56" y="148.14" width="3.40" height="3.40" fill="#111" stroke="none" stroke-width="1" />
<rect x="656.94" y="148.49" width="3.40" height="3.40" fill="#111" stroke="none" stroke-width="1" />
<rect x="666.32" y="148.72" width="3.40" height="3.40" fill="#111" stroke="none" stroke-width="1" />
<rect x="675.70" y="149.07" width="3.40" height="3.40" fill="#111" stroke="none" stroke-width="1" />
<polyline points="489.80,151.58 499.18,151.58 508.56,151.58 517.94,151.58 527.32,151.58 536.70,151.58 546.08,51.30 555.46,50.25 564.84,50.25 574.22,48.74 583.60,48.74 592.98,48.74 602.36,48.74 611.74,142.17 621.12,148.67 630.50,150.07 639.88,150.42 649.26,150.77 658.64,151.00 668.02,151.00 677.40,151.00" stroke="#d42030" stroke-width="0.8" fill="none" />
<circle cx="489.80" cy="151.58" r="1.90" fill="#c8202e" stroke="none" stroke-width="1" />
<circle cx="499.18" cy="151.58" r="1.90" fill="#c8202e" stroke="none" stroke-width="1" />
<circle cx="508.56" cy="151.58" r="1.90" fill="#c8202e" stroke="none" stroke-width="1" />
<circle cx="517.94" cy="151.58" r="1.90" fill="#c8202e" stroke="none" stroke-width="1" />
<circle cx="527.32" cy="151.58" r="1.90" fill="#c8202e" stroke="none" stroke-width="1" />
<circle cx="536.70" cy="151.58" r="1.90" fill="#c8202e" stroke="none" stroke-width="1" />
<circle cx="546.08" cy="51.30" r="1.90" fill="#c8202e" stroke="none" stroke-width="1" />
<circle cx="555.46" cy="50.25" r="1.90" fill="#c8202e" stroke="none" stroke-width="1" />
<circle cx="564.84" cy="50.25" r="1.90" fill="#c8202e" stroke="none" stroke-width="1" />
<circle cx="574.22" cy="48.74" r="1.90" fill="#c8202e" stroke="none" stroke-width="1" />
<circle cx="583.60" cy="48.74" r="1.90" fill="#c8202e" stroke="none" stroke-width="1" />
<circle cx="592.98" cy="48.74" r="1.90" fill="#c8202e" stroke="none" stroke-width="1" />
<circle cx="602.36" cy="48.74" r="1.90" fill="#c8202e" stroke="none" stroke-width="1" />
<circle cx="611.74" cy="142.17" r="1.90" fill="#c8202e" stroke="none" stroke-width="1" />
<circle cx="621.12" cy="148.67" r="1.90" fill="#c8202e" stroke="none" stroke-width="1" />
<circle cx="630.50" cy="150.07" r="1.90" fill="#c8202e" stroke="none" stroke-width="1" />
<circle cx="639.88" cy="150.42" r="1.90" fill="#c8202e" stroke="none" stroke-width="1" />
<circle cx="649.26" cy="150.77" r="1.90" fill="#c8202e" stroke="none" stroke-width="1" />
<circle cx="658.64" cy="151.00" r="1.90" fill="#c8202e" stroke="none" stroke-width="1" />
<circle cx="668.02" cy="151.00" r="1.90" fill="#c8202e" stroke="none" stroke-width="1" />
<circle cx="677.40" cy="151.00" r="1.90" fill="#c8202e" stroke="none" stroke-width="1" />
<line x1="540.00" y1="18.00" x2="561.60" y2="18.00" stroke="#222" stroke-width="0.8" />
<rect x="548.80" y="16.30" width="3.40" height="3.40" fill="#222" stroke="none" stroke-width="1" />
<text x="565.90" y="21.00" font-size="8.4" font-weight="bold" fill="#222" >Pristine SnO<tspan font-size="5.6" dy="2">2</tspan></text>
<line x1="540.00" y1="33.60" x2="561.60" y2="33.60" stroke="#d42030" stroke-width="0.8" />
<circle cx="550.50" cy="33.60" r="1.90" fill="#d42030" stroke="none" stroke-width="1" />
<text x="565.90" y="36.60" font-size="8.4" font-weight="bold" fill="#222" >AMR 1.0 La-SnO<tspan font-size="5.6" dy="2">2</tspan></text>
<defs><pattern id="hatchB" patternUnits="userSpaceOnUse" width="3.4" height="3.4" patternTransform="rotate(45)"><rect width="3.4" height="3.4" fill="#fff"/><rect width="1.5" height="3.4" fill="#4a66c4"/></pattern><pattern id="hatchG" patternUnits="userSpaceOnUse" width="3.4" height="3.4" patternTransform="rotate(45)"><rect width="3.4" height="3.4" fill="#fff"/><rect width="1.5" height="3.4" fill="#6cb246"/></pattern></defs>
<rect x="52.40" y="347.74" width="12.60" height="6.96" fill="url(#hatchG)" stroke="#6cb246" stroke-width="1.1" />
<rect x="65.00" y="315.82" width="12.60" height="38.88" fill="url(#hatchB)" stroke="#4a66c4" stroke-width="1.1" />
<line x1="58.70" y1="347.02" x2="58.70" y2="348.46" stroke="#6cb246" stroke-width="0.9" />
<line x1="56.50" y1="347.02" x2="60.90" y2="347.02" stroke="#6cb246" stroke-width="0.9" />
<line x1="71.30" y1="311.50" x2="71.30" y2="320.14" stroke="#4a66c4" stroke-width="0.9" />
<line x1="69.10" y1="311.50" x2="73.50" y2="311.50" stroke="#4a66c4" stroke-width="0.9" />
<rect x="83.40" y="342.22" width="12.60" height="12.48" fill="url(#hatchG)" stroke="#6cb246" stroke-width="1.1" />
<rect x="96.00" y="289.42" width="12.60" height="65.28" fill="url(#hatchB)" stroke="#4a66c4" stroke-width="1.1" />
<line x1="89.70" y1="340.30" x2="89.70" y2="344.14" stroke="#6cb246" stroke-width="0.9" />
<line x1="87.50" y1="340.30" x2="91.90" y2="340.30" stroke="#6cb246" stroke-width="0.9" />
<line x1="102.30" y1="284.62" x2="102.30" y2="294.22" stroke="#4a66c4" stroke-width="0.9" />
<line x1="100.10" y1="284.62" x2="104.50" y2="284.62" stroke="#4a66c4" stroke-width="0.9" />
<rect x="114.40" y="337.42" width="12.60" height="17.28" fill="url(#hatchG)" stroke="#6cb246" stroke-width="1.1" />
<rect x="127.00" y="276.22" width="12.60" height="78.48" fill="url(#hatchB)" stroke="#4a66c4" stroke-width="1.1" />
<line x1="120.70" y1="336.70" x2="120.70" y2="338.14" stroke="#6cb246" stroke-width="0.9" />
<line x1="118.50" y1="336.70" x2="122.90" y2="336.70" stroke="#6cb246" stroke-width="0.9" />
<line x1="133.30" y1="271.90" x2="133.30" y2="280.54" stroke="#4a66c4" stroke-width="0.9" />
<line x1="131.10" y1="271.90" x2="135.50" y2="271.90" stroke="#4a66c4" stroke-width="0.9" />
<rect x="145.40" y="335.98" width="12.60" height="18.72" fill="url(#hatchG)" stroke="#6cb246" stroke-width="1.1" />
<rect x="158.00" y="267.10" width="12.60" height="87.60" fill="url(#hatchB)" stroke="#4a66c4" stroke-width="1.1" />
<line x1="151.70" y1="335.02" x2="151.70" y2="336.94" stroke="#6cb246" stroke-width="0.9" />
<line x1="149.50" y1="335.02" x2="153.90" y2="335.02" stroke="#6cb246" stroke-width="0.9" />
<line x1="164.30" y1="263.02" x2="164.30" y2="271.18" stroke="#4a66c4" stroke-width="0.9" />
<line x1="162.10" y1="263.02" x2="166.50" y2="263.02" stroke="#4a66c4" stroke-width="0.9" />
<rect x="176.40" y="339.34" width="12.60" height="15.36" fill="url(#hatchG)" stroke="#6cb246" stroke-width="1.1" />
<rect x="189.00" y="279.10" width="12.60" height="75.60" fill="url(#hatchB)" stroke="#4a66c4" stroke-width="1.1" />
<line x1="182.70" y1="338.38" x2="182.70" y2="340.30" stroke="#6cb246" stroke-width="0.9" />
<line x1="180.50" y1="338.38" x2="184.90" y2="338.38" stroke="#6cb246" stroke-width="0.9" />
<line x1="195.30" y1="278.14" x2="195.30" y2="280.06" stroke="#4a66c4" stroke-width="0.9" />
<line x1="193.10" y1="278.14" x2="197.50" y2="278.14" stroke="#4a66c4" stroke-width="0.9" />
<rect x="207.40" y="343.18" width="12.60" height="11.52" fill="url(#hatchG)" stroke="#6cb246" stroke-width="1.1" />
<rect x="220.00" y="294.70" width="12.60" height="60.00" fill="url(#hatchB)" stroke="#4a66c4" stroke-width="1.1" />
<line x1="213.70" y1="341.98" x2="213.70" y2="344.38" stroke="#6cb246" stroke-width="0.9" />
<line x1="211.50" y1="341.98" x2="215.90" y2="341.98" stroke="#6cb246" stroke-width="0.9" />
<line x1="226.30" y1="291.82" x2="226.30" y2="297.58" stroke="#4a66c4" stroke-width="0.9" />
<line x1="224.10" y1="291.82" x2="228.50" y2="291.82" stroke="#4a66c4" stroke-width="0.9" />
<rect x="49.60" y="209.90" width="185.10" height="144.80" fill="none" stroke="#161616" stroke-width="1.25" />
<line x1="49.00" y1="354.70" x2="235.30" y2="354.70" stroke="#111" stroke-width="1.5" />
<line x1="47.00" y1="354.70" x2="49.60" y2="354.70" stroke="#222" stroke-width="1" />
<line x1="47.00" y1="330.70" x2="49.60" y2="330.70" stroke="#222" stroke-width="1" />
<line x1="47.00" y1="306.70" x2="49.60" y2="306.70" stroke="#222" stroke-width="1" />
<line x1="47.00" y1="282.70" x2="49.60" y2="282.70" stroke="#222" stroke-width="1" />
<line x1="47.00" y1="258.70" x2="49.60" y2="258.70" stroke="#222" stroke-width="1" />
<line x1="47.00" y1="234.70" x2="49.60" y2="234.70" stroke="#222" stroke-width="1" />
<line x1="47.00" y1="210.70" x2="49.60" y2="210.70" stroke="#222" stroke-width="1" />
<line x1="48.10" y1="342.70" x2="49.60" y2="342.70" stroke="#222" stroke-width="1" />
<line x1="48.10" y1="318.70" x2="49.60" y2="318.70" stroke="#222" stroke-width="1" />
<line x1="48.10" y1="294.70" x2="49.60" y2="294.70" stroke="#222" stroke-width="1" />
<line x1="48.10" y1="270.70" x2="49.60" y2="270.70" stroke="#222" stroke-width="1" />
<line x1="48.10" y1="246.70" x2="49.60" y2="246.70" stroke="#222" stroke-width="1" />
<line x1="48.10" y1="222.70" x2="49.60" y2="222.70" stroke="#222" stroke-width="1" />
<line x1="65.00" y1="354.70" x2="65.00" y2="357.30" stroke="#222" stroke-width="1" />
<line x1="96.00" y1="354.70" x2="96.00" y2="357.30" stroke="#222" stroke-width="1" />
<line x1="127.00" y1="354.70" x2="127.00" y2="357.30" stroke="#222" stroke-width="1" />
<line x1="158.00" y1="354.70" x2="158.00" y2="357.30" stroke="#222" stroke-width="1" />
<line x1="189.00" y1="354.70" x2="189.00" y2="357.30" stroke="#222" stroke-width="1" />
<line x1="220.00" y1="354.70" x2="220.00" y2="357.30" stroke="#222" stroke-width="1" />
<line x1="80.50" y1="354.70" x2="80.50" y2="356.20" stroke="#222" stroke-width="1" />
<line x1="111.50" y1="354.70" x2="111.50" y2="356.20" stroke="#222" stroke-width="1" />
<line x1="142.50" y1="354.70" x2="142.50" y2="356.20" stroke="#222" stroke-width="1" />
<line x1="173.50" y1="354.70" x2="173.50" y2="356.20" stroke="#222" stroke-width="1" />
<line x1="204.50" y1="354.70" x2="204.50" y2="356.20" stroke="#222" stroke-width="1" />
<text x="41.80" y="357.80" font-size="8.8" font-weight="bold" text-anchor="end" fill="#222" >0</text>
<text x="41.80" y="333.80" font-size="8.8" font-weight="bold" text-anchor="end" fill="#222" >10</text>
<text x="41.80" y="309.80" font-size="8.8" font-weight="bold" text-anchor="end" fill="#222" >20</text>
<text x="41.80" y="285.80" font-size="8.8" font-weight="bold" text-anchor="end" fill="#222" >30</text>
<text x="41.80" y="261.80" font-size="8.8" font-weight="bold" text-anchor="end" fill="#222" >40</text>
<text x="41.80" y="237.80" font-size="8.8" font-weight="bold" text-anchor="end" fill="#222" >50</text>
<text x="41.80" y="213.80" font-size="8.8" font-weight="bold" text-anchor="end" fill="#222" >60</text>
<text x="65.30" y="369.80" font-size="8.8" font-weight="bold" text-anchor="middle" fill="#222" >160</text>
<text x="96.30" y="369.80" font-size="8.8" font-weight="bold" text-anchor="middle" fill="#222" >180</text>
<text x="127.30" y="369.80" font-size="8.8" font-weight="bold" text-anchor="middle" fill="#222" >200</text>
<text x="158.30" y="369.80" font-size="8.8" font-weight="bold" text-anchor="middle" fill="#222" >220</text>
<text x="189.30" y="369.80" font-size="8.8" font-weight="bold" text-anchor="middle" fill="#222" >240</text>
<text x="220.30" y="369.80" font-size="8.8" font-weight="bold" text-anchor="middle" fill="#222" >260</text>
<text x="142.60" y="381.80" font-size="8.8" font-weight="bold" text-anchor="middle" fill="#222" >Temperature (°C)</text>
<text transform="translate(20.80,283.00) rotate(-90)" font-size="8.6" font-weight="bold" text-anchor="middle" fill="#222" >Response (R<tspan font-size="5.4" dy="1.6">a</tspan><tspan dy="-1.6">/R</tspan><tspan font-size="5.4" dy="1.6">g</tspan><tspan dy="-1.6">)</tspan></text>
<text x="2.00" y="217.30" font-size="15" font-weight="bold" fill="#2b1a17" >d</text>
<rect x="55.50" y="218.80" width="22.50" height="10.60" fill="url(#hatchB)" stroke="#4a66c4" stroke-width="1.1" />
<rect x="55.50" y="233.40" width="22.50" height="10.60" fill="url(#hatchG)" stroke="#6cb246" stroke-width="1.1" />
<text x="82.70" y="227.00" font-size="8.6" font-weight="bold" fill="#222" >Sn<tspan font-size="6.0" dy="1.9">0.8</tspan><tspan dy="-1.9">Ge</tspan><tspan font-size="6.0" dy="1.9">0.2</tspan><tspan dy="-1.9">O</tspan><tspan font-size="6.0" dy="1.9">2</tspan></text>
<text x="82.70" y="241.60" font-size="8.4" font-weight="bold" fill="#222" >SnO<tspan font-size="5.4" dy="1.8">2</tspan></text>
<rect x="286.90" y="209.90" width="385.80" height="144.40" fill="none" stroke="#333" stroke-width="1.2" />
<line x1="284.30" y1="346.40" x2="286.90" y2="346.40" stroke="#222" stroke-width="1" />
<line x1="284.30" y1="330.40" x2="286.90" y2="330.40" stroke="#222" stroke-width="1" />
<line x1="284.30" y1="314.40" x2="286.90" y2="314.40" stroke="#222" stroke-width="1" />
<line x1="284.30" y1="298.40" x2="286.90" y2="298.40" stroke="#222" stroke-width="1" />
<line x1="284.30" y1="282.40" x2="286.90" y2="282.40" stroke="#222" stroke-width="1" />
<line x1="284.30" y1="266.40" x2="286.90" y2="266.40" stroke="#222" stroke-width="1" />
<line x1="284.30" y1="250.40" x2="286.90" y2="250.40" stroke="#222" stroke-width="1" />
<line x1="284.30" y1="234.40" x2="286.90" y2="234.40" stroke="#222" stroke-width="1" />
<line x1="284.30" y1="218.40" x2="286.90" y2="218.40" stroke="#222" stroke-width="1" />
<line x1="285.40" y1="338.40" x2="286.90" y2="338.40" stroke="#222" stroke-width="1" />
<line x1="285.40" y1="322.40" x2="286.90" y2="322.40" stroke="#222" stroke-width="1" />
<line x1="285.40" y1="306.40" x2="286.90" y2="306.40" stroke="#222" stroke-width="1" />
<line x1="285.40" y1="290.40" x2="286.90" y2="290.40" stroke="#222" stroke-width="1" />
<line x1="285.40" y1="274.40" x2="286.90" y2="274.40" stroke="#222" stroke-width="1" />
<line x1="285.40" y1="258.40" x2="286.90" y2="258.40" stroke="#222" stroke-width="1" />
<line x1="285.40" y1="242.40" x2="286.90" y2="242.40" stroke="#222" stroke-width="1" />
<line x1="285.40" y1="226.40" x2="286.90" y2="226.40" stroke="#222" stroke-width="1" />
<line x1="285.40" y1="210.40" x2="286.90" y2="210.40" stroke="#222" stroke-width="1" />
<line x1="286.90" y1="354.30" x2="286.90" y2="356.90" stroke="#222" stroke-width="1" />
<line x1="335.15" y1="354.30" x2="335.15" y2="356.90" stroke="#222" stroke-width="1" />
<line x1="383.40" y1="354.30" x2="383.40" y2="356.90" stroke="#222" stroke-width="1" />
<line x1="431.65" y1="354.30" x2="431.65" y2="356.90" stroke="#222" stroke-width="1" />
<line x1="479.90" y1="354.30" x2="479.90" y2="356.90" stroke="#222" stroke-width="1" />
<line x1="528.15" y1="354.30" x2="528.15" y2="356.90" stroke="#222" stroke-width="1" />
<line x1="576.40" y1="354.30" x2="576.40" y2="356.90" stroke="#222" stroke-width="1" />
<line x1="624.65" y1="354.30" x2="624.65" y2="356.90" stroke="#222" stroke-width="1" />
<line x1="672.90" y1="354.30" x2="672.90" y2="356.90" stroke="#222" stroke-width="1" />
<line x1="311.02" y1="354.30" x2="311.02" y2="355.80" stroke="#222" stroke-width="1" />
<line x1="359.27" y1="354.30" x2="359.27" y2="355.80" stroke="#222" stroke-width="1" />
<line x1="407.52" y1="354.30" x2="407.52" y2="355.80" stroke="#222" stroke-width="1" />
<line x1="455.77" y1="354.30" x2="455.77" y2="355.80" stroke="#222" stroke-width="1" />
<line x1="504.02" y1="354.30" x2="504.02" y2="355.80" stroke="#222" stroke-width="1" />
<line x1="552.27" y1="354.30" x2="552.27" y2="355.80" stroke="#222" stroke-width="1" />
<line x1="600.52" y1="354.30" x2="600.52" y2="355.80" stroke="#222" stroke-width="1" />
<line x1="648.77" y1="354.30" x2="648.77" y2="355.80" stroke="#222" stroke-width="1" />
<text x="279.60" y="349.30" font-size="8.2" font-weight="bold" text-anchor="end" fill="#222" >0</text>
<text x="279.60" y="333.30" font-size="8.2" font-weight="bold" text-anchor="end" fill="#222" >20</text>
<text x="279.60" y="317.30" font-size="8.2" font-weight="bold" text-anchor="end" fill="#222" >40</text>
<text x="279.60" y="301.30" font-size="8.2" font-weight="bold" text-anchor="end" fill="#222" >60</text>
<text x="279.60" y="285.30" font-size="8.2" font-weight="bold" text-anchor="end" fill="#222" >80</text>
<text x="279.60" y="269.30" font-size="8.2" font-weight="bold" text-anchor="end" fill="#222" >100</text>
<text x="279.60" y="253.30" font-size="8.2" font-weight="bold" text-anchor="end" fill="#222" >120</text>
<text x="279.60" y="237.30" font-size="8.2" font-weight="bold" text-anchor="end" fill="#222" >140</text>
<text x="279.60" y="221.30" font-size="8.2" font-weight="bold" text-anchor="end" fill="#222" >160</text>
<text x="286.90" y="368.60" font-size="8.2" font-weight="bold" text-anchor="middle" fill="#222" >0</text>
<text x="335.15" y="368.60" font-size="8.2" font-weight="bold" text-anchor="middle" fill="#222" >10</text>
<text x="383.40" y="368.60" font-size="8.2" font-weight="bold" text-anchor="middle" fill="#222" >20</text>
<text x="431.65" y="368.60" font-size="8.2" font-weight="bold" text-anchor="middle" fill="#222" >30</text>
<text x="479.90" y="368.60" font-size="8.2" font-weight="bold" text-anchor="middle" fill="#222" >40</text>
<text x="528.15" y="368.60" font-size="8.2" font-weight="bold" text-anchor="middle" fill="#222" >50</text>
<text x="576.40" y="368.60" font-size="8.2" font-weight="bold" text-anchor="middle" fill="#222" >60</text>
<text x="624.65" y="368.60" font-size="8.2" font-weight="bold" text-anchor="middle" fill="#222" >70</text>
<text x="672.90" y="368.60" font-size="8.2" font-weight="bold" text-anchor="middle" fill="#222" >80</text>
<text x="480.30" y="382.40" font-size="9.0" font-weight="bold" text-anchor="middle" fill="#222" >Time (min)</text>
<text transform="translate(257.60,283.80) rotate(-90)" font-size="8.8" font-weight="bold" text-anchor="middle" fill="#222" >Response (R<tspan font-size="5.5" dy="1.6">a</tspan><tspan dy="-1.6">/R</tspan><tspan font-size="5.5" dy="1.6">g</tspan><tspan dy="-1.6">)</tspan></text>
<text x="248.90" y="216.60" font-size="15" font-weight="bold" fill="#2b1a17" >e</text>
<g fill="none" stroke-linecap="round" stroke-linejoin="round">
<path d="M286.9,345.7 L449.0,345.7" stroke="#4a62b8" stroke-width="4.2" fill="none" />
<line x1="449.02" y1="345.68" x2="449.02" y2="345.10" stroke="#5a78c8" stroke-width="1.0" />
<path d="M449.0,345.1 Q449.0,344.9 453.6,344.9 L462.3,344.9" stroke="#4a62b8" stroke-width="4.2" fill="none" />
<line x1="462.29" y1="344.88" x2="462.29" y2="345.52" stroke="#5a78c8" stroke-width="1.0" />
<path d="M462.3,345.5 Q462.3,345.7 466.9,345.7 L473.6,345.7" stroke="#4a62b8" stroke-width="4.2" fill="none" />
<line x1="473.63" y1="345.68" x2="473.63" y2="344.82" stroke="#5a78c8" stroke-width="1.0" />
<path d="M473.6,344.8 Q473.6,344.5 478.2,344.5 L486.9,344.5" stroke="#4a62b8" stroke-width="4.2" fill="none" />
<line x1="486.90" y1="344.48" x2="486.90" y2="345.44" stroke="#5a78c8" stroke-width="1.0" />
<path d="M486.9,345.4 Q486.9,345.7 491.5,345.7 L497.3,345.7" stroke="#4a62b8" stroke-width="4.2" fill="none" />
<line x1="497.27" y1="345.68" x2="497.27" y2="343.89" stroke="#5a78c8" stroke-width="1.0" />
<path d="M497.3,343.9 Q497.3,343.2 501.9,343.2 L510.5,343.2" stroke="#4a62b8" stroke-width="4.2" fill="none" />
<line x1="510.54" y1="343.20" x2="510.54" y2="345.18" stroke="#5a78c8" stroke-width="1.0" />
<path d="M510.5,345.2 Q510.5,345.7 515.1,345.7 L520.9,345.7" stroke="#4a62b8" stroke-width="4.2" fill="none" />
<line x1="520.91" y1="345.68" x2="520.91" y2="342.68" stroke="#5a78c8" stroke-width="1.0" />
<path d="M520.9,342.7 Q520.9,341.5 525.5,341.5 L534.2,341.5" stroke="#4a62b8" stroke-width="4.2" fill="none" />
<line x1="534.18" y1="341.52" x2="534.18" y2="344.85" stroke="#5a78c8" stroke-width="1.0" />
<path d="M534.2,344.8 Q534.2,345.7 538.8,345.7 L545.0,345.7" stroke="#4a62b8" stroke-width="4.2" fill="none" />
<line x1="545.04" y1="345.68" x2="545.04" y2="340.73" stroke="#5a78c8" stroke-width="1.0" />
<path d="M545.0,340.7 Q545.0,338.8 549.6,338.8 L558.3,338.8" stroke="#4a62b8" stroke-width="4.2" fill="none" />
<line x1="558.31" y1="338.80" x2="558.31" y2="344.30" stroke="#5a78c8" stroke-width="1.0" />
<path d="M558.3,344.3 Q558.3,345.7 562.9,345.7 L568.2,345.7" stroke="#4a62b8" stroke-width="4.2" fill="none" />
<line x1="568.20" y1="345.68" x2="568.20" y2="335.89" stroke="#5a78c8" stroke-width="1.0" />
<path d="M568.2,335.9 Q568.2,332.1 572.8,332.1 L581.5,332.1" stroke="#4a62b8" stroke-width="4.2" fill="none" />
<line x1="581.47" y1="332.08" x2="581.47" y2="342.96" stroke="#5a78c8" stroke-width="1.0" />
<path d="M581.5,343.0 Q581.5,345.7 586.0,345.7 L591.8,345.7" stroke="#4a62b8" stroke-width="4.2" fill="none" />
<line x1="591.84" y1="345.68" x2="591.84" y2="324.31" stroke="#5a78c8" stroke-width="1.0" />
<path d="M591.8,324.3 Q591.8,316.0 596.4,316.0 L605.1,316.0" stroke="#4a62b8" stroke-width="4.2" fill="none" />
<line x1="605.11" y1="316.00" x2="605.11" y2="339.74" stroke="#5a78c8" stroke-width="1.0" />
<path d="M605.1,339.7 Q605.1,345.7 609.7,345.7 L616.9,345.7" stroke="#4a62b8" stroke-width="4.2" fill="none" />
<line x1="616.93" y1="345.68" x2="616.93" y2="309.33" stroke="#5a78c8" stroke-width="1.0" />
<path d="M616.9,309.3 Q616.9,295.2 621.5,295.2 L630.2,295.2" stroke="#4a62b8" stroke-width="4.2" fill="none" />
<line x1="630.20" y1="295.20" x2="630.20" y2="335.58" stroke="#5a78c8" stroke-width="1.0" />
<path d="M630.2,335.6 Q630.2,345.7 634.8,345.7 L643.0,345.7" stroke="#4a62b8" stroke-width="4.2" fill="none" />
<line x1="642.98" y1="345.68" x2="642.98" y2="286.29" stroke="#5a78c8" stroke-width="1.0" />
<path d="M643.0,286.3 Q643.0,263.2 647.6,263.2 L656.3,263.2" stroke="#4a62b8" stroke-width="4.2" fill="none" />
<line x1="656.25" y1="263.20" x2="656.25" y2="329.18" stroke="#5a78c8" stroke-width="1.0" />
<path d="M656.3,329.2 Q656.3,345.7 660.8,345.7 L675.3,345.7" stroke="#4a62b8" stroke-width="4.2" fill="none" />
</g>
<circle cx="462.29" cy="344.88" r="1.55" fill="#fff" stroke="#5a78c8" stroke-width="0.8" />
<circle cx="449.02" cy="345.68" r="1.55" fill="#fff" stroke="#5a78c8" stroke-width="0.8" />
<circle cx="486.90" cy="344.48" r="1.55" fill="#fff" stroke="#5a78c8" stroke-width="0.8" />
<circle cx="473.63" cy="345.68" r="1.55" fill="#fff" stroke="#5a78c8" stroke-width="0.8" />
<circle cx="497.27" cy="345.68" r="1.55" fill="#fff" stroke="#5a78c8" stroke-width="0.8" />
<circle cx="497.27" cy="343.89" r="1.55" fill="#fff" stroke="#5a78c8" stroke-width="0.8" />
<circle cx="510.54" cy="343.20" r="1.55" fill="#fff" stroke="#5a78c8" stroke-width="0.8" />
<circle cx="510.54" cy="344.56" r="1.55" fill="#fff" stroke="#5a78c8" stroke-width="0.8" />
<circle cx="510.54" cy="345.18" r="1.55" fill="#fff" stroke="#5a78c8" stroke-width="0.8" />
<circle cx="520.91" cy="345.68" r="1.55" fill="#fff" stroke="#5a78c8" stroke-width="0.8" />
<circle cx="520.91" cy="342.68" r="1.55" fill="#fff" stroke="#5a78c8" stroke-width="0.8" />
<circle cx="534.18" cy="341.52" r="1.55" fill="#fff" stroke="#5a78c8" stroke-width="0.8" />
<circle cx="534.18" cy="343.81" r="1.55" fill="#fff" stroke="#5a78c8" stroke-width="0.8" />
<circle cx="534.18" cy="344.85" r="1.55" fill="#fff" stroke="#5a78c8" stroke-width="0.8" />
<circle cx="545.04" cy="345.68" r="1.55" fill="#fff" stroke="#5a78c8" stroke-width="0.8" />
<circle cx="545.04" cy="340.73" r="1.55" fill="#fff" stroke="#5a78c8" stroke-width="0.8" />
<circle cx="558.31" cy="338.80" r="1.55" fill="#fff" stroke="#5a78c8" stroke-width="0.8" />
<circle cx="558.31" cy="342.58" r="1.55" fill="#fff" stroke="#5a78c8" stroke-width="0.8" />
<circle cx="558.31" cy="344.30" r="1.55" fill="#fff" stroke="#5a78c8" stroke-width="0.8" />
<circle cx="568.20" cy="345.68" r="1.55" fill="#fff" stroke="#5a78c8" stroke-width="0.8" />
<circle cx="568.20" cy="335.89" r="1.55" fill="#fff" stroke="#5a78c8" stroke-width="0.8" />
<circle cx="581.47" cy="332.08" r="1.55" fill="#fff" stroke="#5a78c8" stroke-width="0.8" />
<circle cx="581.47" cy="339.56" r="1.55" fill="#fff" stroke="#5a78c8" stroke-width="0.8" />
<circle cx="581.47" cy="342.96" r="1.55" fill="#fff" stroke="#5a78c8" stroke-width="0.8" />
<circle cx="591.84" cy="345.68" r="1.55" fill="#fff" stroke="#5a78c8" stroke-width="0.8" />
<circle cx="591.84" cy="324.31" r="1.55" fill="#fff" stroke="#5a78c8" stroke-width="0.8" />
<circle cx="605.11" cy="316.00" r="1.55" fill="#fff" stroke="#5a78c8" stroke-width="0.8" />
<circle cx="605.11" cy="332.32" r="1.55" fill="#fff" stroke="#5a78c8" stroke-width="0.8" />
<circle cx="605.11" cy="339.74" r="1.55" fill="#fff" stroke="#5a78c8" stroke-width="0.8" />
<circle cx="616.93" cy="345.68" r="1.55" fill="#fff" stroke="#5a78c8" stroke-width="0.8" />
<circle cx="616.93" cy="309.33" r="1.55" fill="#fff" stroke="#5a78c8" stroke-width="0.8" />
<circle cx="630.20" cy="295.20" r="1.55" fill="#fff" stroke="#5a78c8" stroke-width="0.8" />
<circle cx="630.20" cy="322.96" r="1.55" fill="#fff" stroke="#5a78c8" stroke-width="0.8" />
<circle cx="630.20" cy="335.58" r="1.55" fill="#fff" stroke="#5a78c8" stroke-width="0.8" />
<circle cx="642.98" cy="345.68" r="1.55" fill="#fff" stroke="#5a78c8" stroke-width="0.8" />
<circle cx="642.98" cy="286.29" r="1.55" fill="#fff" stroke="#5a78c8" stroke-width="0.8" />
<circle cx="656.25" cy="263.20" r="1.55" fill="#fff" stroke="#5a78c8" stroke-width="0.8" />
<circle cx="656.25" cy="308.56" r="1.55" fill="#fff" stroke="#5a78c8" stroke-width="0.8" />
<circle cx="656.25" cy="329.18" r="1.55" fill="#fff" stroke="#5a78c8" stroke-width="0.8" />
<rect x="295.20" y="338.90" width="151.50" height="11.50" fill="none" stroke="#222" stroke-width="1.05" stroke-dasharray="3.6 2.2"/>
<line x1="295.20" y1="338.90" x2="306.70" y2="303.10" stroke="#222" stroke-width="1.05" stroke-dasharray="3.6 2.2"/>
<line x1="446.70" y1="338.90" x2="450.60" y2="336.74" stroke="#222" stroke-width="1.05" />
<line x1="465.80" y1="328.30" x2="471.00" y2="325.41" stroke="#222" stroke-width="1.05" />
<line x1="472.60" y1="324.53" x2="477.60" y2="321.75" stroke="#222" stroke-width="1.05" />
<line x1="496.80" y1="311.09" x2="501.40" y2="308.54" stroke="#222" stroke-width="1.05" />
<line x1="503.00" y1="307.65" x2="507.60" y2="305.10" stroke="#222" stroke-width="1.05" />
<line x1="509.00" y1="304.32" x2="511.20" y2="303.10" stroke="#222" stroke-width="1.05" />
<text transform="translate(461.00,340.80) rotate(-90)" font-size="8.9" font-weight="bold" fill="#222" >5 ppm</text>
<text transform="translate(482.80,340.30) rotate(-90)" font-size="8.9" font-weight="bold" fill="#222" >10 ppm</text>
<text transform="translate(507.60,339.60) rotate(-90)" font-size="8.9" font-weight="bold" fill="#222" >20 ppm</text>
<text transform="translate(531.20,336.60) rotate(-90)" font-size="8.9" font-weight="bold" fill="#222" >50 ppm</text>
<text transform="translate(556.00,334.10) rotate(-90)" font-size="8.9" font-weight="bold" fill="#222" >100 ppm</text>
<text transform="translate(579.60,327.10) rotate(-90)" font-size="8.9" font-weight="bold" fill="#222" >200 ppm</text>
<text transform="translate(603.40,308.80) rotate(-90)" font-size="8.9" font-weight="bold" fill="#222" >500 ppm</text>
<text transform="translate(626.60,289.90) rotate(-90)" font-size="8.9" font-weight="bold" fill="#222" >1000 ppm</text>
<text transform="translate(652.90,257.00) rotate(-90)" font-size="8.9" font-weight="bold" fill="#222" >2000 ppm</text>
<rect x="306.70" y="218.40" width="204.50" height="84.70" fill="#fff" stroke="#222" stroke-width="1.2" />
<line x1="304.30" y1="298.20" x2="306.70" y2="298.20" stroke="#222" stroke-width="1" />
<text x="302.90" y="301.10" font-size="8.2" font-weight="bold" text-anchor="end" fill="#222" >0.9</text>
<line x1="304.30" y1="284.90" x2="306.70" y2="284.90" stroke="#222" stroke-width="1" />
<text x="302.90" y="287.80" font-size="8.2" font-weight="bold" text-anchor="end" fill="#222" >1.2</text>
<line x1="304.30" y1="271.60" x2="306.70" y2="271.60" stroke="#222" stroke-width="1" />
<text x="302.90" y="274.50" font-size="8.2" font-weight="bold" text-anchor="end" fill="#222" >1.5</text>
<line x1="304.30" y1="258.30" x2="306.70" y2="258.30" stroke="#222" stroke-width="1" />
<text x="302.90" y="261.20" font-size="8.2" font-weight="bold" text-anchor="end" fill="#222" >1.8</text>
<line x1="304.30" y1="245.00" x2="306.70" y2="245.00" stroke="#222" stroke-width="1" />
<text x="302.90" y="247.90" font-size="8.2" font-weight="bold" text-anchor="end" fill="#222" >2.1</text>
<line x1="304.30" y1="231.70" x2="306.70" y2="231.70" stroke="#222" stroke-width="1" />
<text x="302.90" y="234.60" font-size="8.2" font-weight="bold" text-anchor="end" fill="#222" >2.4</text>
<line x1="304.30" y1="218.40" x2="306.70" y2="218.40" stroke="#222" stroke-width="1" />
<text x="302.90" y="221.30" font-size="8.2" font-weight="bold" text-anchor="end" fill="#222" >2.7</text>
<line x1="305.30" y1="291.55" x2="306.70" y2="291.55" stroke="#222" stroke-width="1" />
<line x1="305.30" y1="278.25" x2="306.70" y2="278.25" stroke="#222" stroke-width="1" />
<line x1="305.30" y1="264.95" x2="306.70" y2="264.95" stroke="#222" stroke-width="1" />
<line x1="305.30" y1="251.65" x2="306.70" y2="251.65" stroke="#222" stroke-width="1" />
<line x1="305.30" y1="238.35" x2="306.70" y2="238.35" stroke="#222" stroke-width="1" />
<line x1="305.30" y1="225.05" x2="306.70" y2="225.05" stroke="#222" stroke-width="1" />
<line x1="306.70" y1="303.10" x2="306.70" y2="305.50" stroke="#222" stroke-width="1" />
<text x="308.20" y="313.60" font-size="8.2" font-weight="bold" text-anchor="middle" fill="#222" >0</text>
<line x1="343.90" y1="303.10" x2="343.90" y2="305.50" stroke="#222" stroke-width="1" />
<text x="343.90" y="313.60" font-size="8.2" font-weight="bold" text-anchor="middle" fill="#222" >6</text>
<line x1="381.10" y1="303.10" x2="381.10" y2="305.50" stroke="#222" stroke-width="1" />
<text x="381.10" y="313.60" font-size="8.2" font-weight="bold" text-anchor="middle" fill="#222" >12</text>
<line x1="418.30" y1="303.10" x2="418.30" y2="305.50" stroke="#222" stroke-width="1" />
<text x="418.30" y="313.60" font-size="8.2" font-weight="bold" text-anchor="middle" fill="#222" >18</text>
<line x1="455.50" y1="303.10" x2="455.50" y2="305.50" stroke="#222" stroke-width="1" />
<text x="455.50" y="313.60" font-size="8.2" font-weight="bold" text-anchor="middle" fill="#222" >24</text>
<line x1="492.70" y1="303.10" x2="492.70" y2="305.50" stroke="#222" stroke-width="1" />
<text x="492.70" y="313.60" font-size="8.2" font-weight="bold" text-anchor="middle" fill="#222" >30</text>
<line x1="325.30" y1="303.10" x2="325.30" y2="304.50" stroke="#222" stroke-width="1" />
<line x1="362.50" y1="303.10" x2="362.50" y2="304.50" stroke="#222" stroke-width="1" />
<line x1="399.70" y1="303.10" x2="399.70" y2="304.50" stroke="#222" stroke-width="1" />
<line x1="436.90" y1="303.10" x2="436.90" y2="304.50" stroke="#222" stroke-width="1" />
<line x1="474.10" y1="303.10" x2="474.10" y2="304.50" stroke="#222" stroke-width="1" />
<line x1="511.30" y1="303.10" x2="511.30" y2="304.50" stroke="#222" stroke-width="1" />
<clipPath id="inclip"><rect x="306.7" y="218.4" width="204.5" height="84.70000000000002"/></clipPath><g clip-path="url(#inclip)" fill="none" stroke-linecap="round">
<path d="M300.5,297.3 L322.8,297.3" stroke="#4a62b8" stroke-width="4.2" fill="none" />
<line x1="322.82" y1="296.65" x2="322.82" y2="291.70" stroke="#5a78c8" stroke-width="1.0" />
<path d="M322.8,291.7 Q322.8,289.8 327.5,289.8 L339.6,289.3" stroke="#4a62b8" stroke-width="4.2" fill="none" />
<line x1="339.56" y1="289.78" x2="339.56" y2="294.93" stroke="#5a78c8" stroke-width="1.0" />
<path d="M339.6,294.9 Q339.6,296.6 344.2,296.9 L354.4,297.3" stroke="#4a62b8" stroke-width="4.2" fill="none" />
<line x1="354.44" y1="296.65" x2="354.44" y2="289.15" stroke="#5a78c8" stroke-width="1.0" />
<path d="M354.4,289.1 Q354.4,286.2 359.1,286.2 L371.2,285.8" stroke="#4a62b8" stroke-width="4.2" fill="none" />
<line x1="371.18" y1="286.23" x2="371.18" y2="294.04" stroke="#5a78c8" stroke-width="1.0" />
<path d="M371.2,294.0 Q371.2,296.6 375.8,296.9 L385.4,297.3" stroke="#4a62b8" stroke-width="4.2" fill="none" />
<line x1="385.44" y1="296.65" x2="385.44" y2="286.27" stroke="#5a78c8" stroke-width="1.0" />
<path d="M385.4,286.3 Q385.4,282.2 390.1,282.2 L402.2,281.8" stroke="#4a62b8" stroke-width="4.2" fill="none" />
<line x1="402.18" y1="282.24" x2="402.18" y2="293.05" stroke="#5a78c8" stroke-width="1.0" />
<path d="M402.2,293.0 Q402.2,296.6 406.8,296.9 L416.4,297.3" stroke="#4a62b8" stroke-width="4.2" fill="none" />
<line x1="416.44" y1="296.65" x2="416.44" y2="282.12" stroke="#5a78c8" stroke-width="1.0" />
<path d="M416.4,282.1 Q416.4,276.5 421.1,276.5 L433.2,276.0" stroke="#4a62b8" stroke-width="4.2" fill="none" />
<line x1="433.18" y1="276.48" x2="433.18" y2="291.61" stroke="#5a78c8" stroke-width="1.0" />
<path d="M433.2,291.6 Q433.2,296.6 437.8,296.9 L447.4,297.3" stroke="#4a62b8" stroke-width="4.2" fill="none" />
<line x1="447.44" y1="296.65" x2="447.44" y2="272.87" stroke="#5a78c8" stroke-width="1.0" />
<path d="M447.4,272.9 Q447.4,263.6 452.1,263.6 L464.2,263.2" stroke="#4a62b8" stroke-width="4.2" fill="none" />
<line x1="464.18" y1="263.62" x2="464.18" y2="288.39" stroke="#5a78c8" stroke-width="1.0" />
<path d="M464.2,288.4 Q464.2,296.6 468.8,296.9 L479.7,297.3" stroke="#4a62b8" stroke-width="4.2" fill="none" />
<line x1="479.68" y1="296.65" x2="479.68" y2="263.29" stroke="#5a78c8" stroke-width="1.0" />
<path d="M479.7,263.3 Q479.7,250.3 484.3,250.3 L496.4,249.9" stroke="#4a62b8" stroke-width="4.2" fill="none" />
<line x1="496.42" y1="250.32" x2="496.42" y2="285.07" stroke="#5a78c8" stroke-width="1.0" />
<path d="M496.4,285.1 Q496.4,296.6 501.1,296.9 L517.5,297.3" stroke="#4a62b8" stroke-width="4.2" fill="none" />
</g>
<circle cx="322.82" cy="296.65" r="1.55" fill="#fff" stroke="#5a78c8" stroke-width="0.8" />
<circle cx="322.82" cy="291.70" r="1.55" fill="#fff" stroke="#5a78c8" stroke-width="0.8" />
<circle cx="339.56" cy="289.78" r="1.55" fill="#fff" stroke="#5a78c8" stroke-width="0.8" />
<circle cx="339.56" cy="294.93" r="1.55" fill="#fff" stroke="#5a78c8" stroke-width="0.8" />
<circle cx="354.44" cy="296.65" r="1.55" fill="#fff" stroke="#5a78c8" stroke-width="0.8" />
<circle cx="354.44" cy="289.15" r="1.55" fill="#fff" stroke="#5a78c8" stroke-width="0.8" />
<circle cx="371.18" cy="286.23" r="1.55" fill="#fff" stroke="#5a78c8" stroke-width="0.8" />
<circle cx="371.18" cy="294.04" r="1.55" fill="#fff" stroke="#5a78c8" stroke-width="0.8" />
<circle cx="385.44" cy="296.65" r="1.55" fill="#fff" stroke="#5a78c8" stroke-width="0.8" />
<circle cx="385.44" cy="286.27" r="1.55" fill="#fff" stroke="#5a78c8" stroke-width="0.8" />
<circle cx="402.18" cy="282.24" r="1.55" fill="#fff" stroke="#5a78c8" stroke-width="0.8" />
<circle cx="402.18" cy="293.05" r="1.55" fill="#fff" stroke="#5a78c8" stroke-width="0.8" />
<circle cx="416.44" cy="296.65" r="1.55" fill="#fff" stroke="#5a78c8" stroke-width="0.8" />
<circle cx="416.44" cy="282.12" r="1.55" fill="#fff" stroke="#5a78c8" stroke-width="0.8" />
<circle cx="433.18" cy="276.48" r="1.55" fill="#fff" stroke="#5a78c8" stroke-width="0.8" />
<circle cx="433.18" cy="291.61" r="1.55" fill="#fff" stroke="#5a78c8" stroke-width="0.8" />
<circle cx="416.44" cy="288.58" r="1.55" fill="#fff" stroke="#5a78c8" stroke-width="0.8" />
<circle cx="433.18" cy="285.55" r="1.55" fill="#fff" stroke="#5a78c8" stroke-width="0.8" />
<circle cx="447.44" cy="296.65" r="1.55" fill="#fff" stroke="#5a78c8" stroke-width="0.8" />
<circle cx="447.44" cy="272.87" r="1.55" fill="#fff" stroke="#5a78c8" stroke-width="0.8" />
<circle cx="464.18" cy="263.62" r="1.55" fill="#fff" stroke="#5a78c8" stroke-width="0.8" />
<circle cx="464.18" cy="288.39" r="1.55" fill="#fff" stroke="#5a78c8" stroke-width="0.8" />
<circle cx="447.44" cy="283.44" r="1.55" fill="#fff" stroke="#5a78c8" stroke-width="0.8" />
<circle cx="464.18" cy="278.48" r="1.55" fill="#fff" stroke="#5a78c8" stroke-width="0.8" />
<circle cx="479.68" cy="296.65" r="1.55" fill="#fff" stroke="#5a78c8" stroke-width="0.8" />
<circle cx="479.68" cy="263.29" r="1.55" fill="#fff" stroke="#5a78c8" stroke-width="0.8" />
<circle cx="496.42" cy="250.32" r="1.55" fill="#fff" stroke="#5a78c8" stroke-width="0.8" />
<circle cx="496.42" cy="285.07" r="1.55" fill="#fff" stroke="#5a78c8" stroke-width="0.8" />
<circle cx="479.68" cy="278.12" r="1.55" fill="#fff" stroke="#5a78c8" stroke-width="0.8" />
<circle cx="496.42" cy="271.17" r="1.55" fill="#fff" stroke="#5a78c8" stroke-width="0.8" />
<text transform="translate(336.30,283.60) rotate(-90)" font-size="8.5" font-weight="bold" fill="#222" >50 ppb</text>
<text transform="translate(368.20,281.80) rotate(-90)" font-size="8.5" font-weight="bold" fill="#222" >100 ppb</text>
<text transform="translate(398.50,277.10) rotate(-90)" font-size="8.5" font-weight="bold" fill="#222" >200 ppb</text>
<text transform="translate(431.00,265.50) rotate(-90)" font-size="8.5" font-weight="bold" fill="#222" >500 ppb</text>
<text transform="translate(461.80,256.50) rotate(-90)" font-size="8.5" font-weight="bold" fill="#222" >1 ppm</text>
<text transform="translate(494.10,246.50) rotate(-90)" font-size="8.5" font-weight="bold" fill="#222" >2 ppm</text>
<text x="2.00" y="406.60" font-size="15" font-weight="bold" fill="#2b1a17" >f</text>
<rect x="61.50" y="422.80" width="17.50" height="55.50" fill="#5a6cbe" stroke="none" stroke-width="1" />
<polygon points="70.25,424.00 79.00,436.50 70.25,449.00 61.50,436.50" fill="#3e4c98" stroke="none" stroke-width="1" opacity="0.35"/>
<circle cx="70.25" cy="436.50" r="2.60" fill="#8e9ad6" stroke="none" stroke-width="1" opacity="0.55"/>
<polygon points="70.25,449.50 79.00,462.00 70.25,474.50 61.50,462.00" fill="#3e4c98" stroke="none" stroke-width="1" opacity="0.35"/>
<circle cx="70.25" cy="462.00" r="2.60" fill="#8e9ad6" stroke="none" stroke-width="1" opacity="0.55"/>
<rect x="61.50" y="422.20" width="17.50" height="1.60" fill="#8a96d0" stroke="none" stroke-width="1" />
<rect x="98.50" y="422.80" width="17.50" height="55.50" fill="#5a6cbe" stroke="none" stroke-width="1" />
<polygon points="107.25,424.00 116.00,436.50 107.25,449.00 98.50,436.50" fill="#3e4c98" stroke="none" stroke-width="1" opacity="0.35"/>
<circle cx="107.25" cy="436.50" r="2.60" fill="#8e9ad6" stroke="none" stroke-width="1" opacity="0.55"/>
<polygon points="107.25,449.50 116.00,462.00 107.25,474.50 98.50,462.00" fill="#3e4c98" stroke="none" stroke-width="1" opacity="0.35"/>
<circle cx="107.25" cy="462.00" r="2.60" fill="#8e9ad6" stroke="none" stroke-width="1" opacity="0.55"/>
<rect x="98.50" y="422.20" width="17.50" height="1.60" fill="#8a96d0" stroke="none" stroke-width="1" />
<polygon points="43.70,411.40 57.30,411.40 62.30,424.00 57.30,436.60 43.70,436.60 38.70,424.00" fill="#38984c" stroke="#1e6e34" stroke-width="0.5" />
<polygon points="43.70,411.40 57.30,411.40 50.50,424.00" fill="#1e6e34" stroke="none" stroke-width="1" opacity="0.45"/>
<polygon points="62.30,424.00 57.30,436.60 50.50,424.00" fill="#1e6e34" stroke="none" stroke-width="1" opacity="0.3"/>
<polygon points="38.70,424.00 43.70,436.60 50.50,424.00" fill="#1e6e34" stroke="none" stroke-width="1" opacity="0.3"/>
<circle cx="50.50" cy="424.00" r="2.60" fill="#7ccc8c" stroke="none" stroke-width="1" opacity="0.55"/>
<polygon points="43.70,436.90 57.30,436.90 62.30,449.50 57.30,462.10 43.70,462.10 38.70,449.50" fill="#5a6cbe" stroke="#3e4c98" stroke-width="0.5" />
<polygon points="43.70,436.90 57.30,436.90 50.50,449.50" fill="#3e4c98" stroke="none" stroke-width="1" opacity="0.45"/>
<polygon points="62.30,449.50 57.30,462.10 50.50,449.50" fill="#3e4c98" stroke="none" stroke-width="1" opacity="0.3"/>
<polygon points="38.70,449.50 43.70,462.10 50.50,449.50" fill="#3e4c98" stroke="none" stroke-width="1" opacity="0.3"/>
<circle cx="50.50" cy="449.50" r="2.60" fill="#9aa6de" stroke="none" stroke-width="1" opacity="0.55"/>
<polygon points="43.70,462.40 57.30,462.40 62.30,475.00 57.30,487.60 43.70,487.60 38.70,475.00" fill="#38984c" stroke="#1e6e34" stroke-width="0.5" />
<polygon points="43.70,462.40 57.30,462.40 50.50,475.00" fill="#1e6e34" stroke="none" stroke-width="1" opacity="0.45"/>
<polygon points="62.30,475.00 57.30,487.60 50.50,475.00" fill="#1e6e34" stroke="none" stroke-width="1" opacity="0.3"/>
<polygon points="38.70,475.00 43.70,487.60 50.50,475.00" fill="#1e6e34" stroke="none" stroke-width="1" opacity="0.3"/>
<circle cx="50.50" cy="475.00" r="2.60" fill="#7ccc8c" stroke="none" stroke-width="1" opacity="0.55"/>
<polygon points="81.20,411.40 94.80,411.40 99.80,424.00 94.80,436.60 81.20,436.60 76.20,424.00" fill="#5a6cbe" stroke="#3e4c98" stroke-width="0.5" />
<polygon points="81.20,411.40 94.80,411.40 88.00,424.00" fill="#3e4c98" stroke="none" stroke-width="1" opacity="0.45"/>
<polygon points="99.80,424.00 94.80,436.60 88.00,424.00" fill="#3e4c98" stroke="none" stroke-width="1" opacity="0.3"/>
<polygon points="76.20,424.00 81.20,436.60 88.00,424.00" fill="#3e4c98" stroke="none" stroke-width="1" opacity="0.3"/>
<circle cx="88.00" cy="424.00" r="2.60" fill="#9aa6de" stroke="none" stroke-width="1" opacity="0.55"/>
<polygon points="81.20,436.90 94.80,436.90 99.80,449.50 94.80,462.10 81.20,462.10 76.20,449.50" fill="#38984c" stroke="#1e6e34" stroke-width="0.5" />
<polygon points="81.20,436.90 94.80,436.90 88.00,449.50" fill="#1e6e34" stroke="none" stroke-width="1" opacity="0.45"/>
<polygon points="99.80,449.50 94.80,462.10 88.00,449.50" fill="#1e6e34" stroke="none" stroke-width="1" opacity="0.3"/>
<polygon points="76.20,449.50 81.20,462.10 88.00,449.50" fill="#1e6e34" stroke="none" stroke-width="1" opacity="0.3"/>
<circle cx="88.00" cy="449.50" r="2.60" fill="#7ccc8c" stroke="none" stroke-width="1" opacity="0.55"/>
<polygon points="81.20,462.40 94.80,462.40 99.80,475.00 94.80,487.60 81.20,487.60 76.20,475.00" fill="#5a6cbe" stroke="#3e4c98" stroke-width="0.5" />
<polygon points="81.20,462.40 94.80,462.40 88.00,475.00" fill="#3e4c98" stroke="none" stroke-width="1" opacity="0.45"/>
<polygon points="99.80,475.00 94.80,487.60 88.00,475.00" fill="#3e4c98" stroke="none" stroke-width="1" opacity="0.3"/>
<polygon points="76.20,475.00 81.20,487.60 88.00,475.00" fill="#3e4c98" stroke="none" stroke-width="1" opacity="0.3"/>
<circle cx="88.00" cy="475.00" r="2.60" fill="#9aa6de" stroke="none" stroke-width="1" opacity="0.55"/>
<polygon points="118.70,411.40 132.30,411.40 137.30,424.00 132.30,436.60 118.70,436.60 113.70,424.00" fill="#38984c" stroke="#1e6e34" stroke-width="0.5" />
<polygon points="118.70,411.40 132.30,411.40 125.50,424.00" fill="#1e6e34" stroke="none" stroke-width="1" opacity="0.45"/>
<polygon points="137.30,424.00 132.30,436.60 125.50,424.00" fill="#1e6e34" stroke="none" stroke-width="1" opacity="0.3"/>
<polygon points="113.70,424.00 118.70,436.60 125.50,424.00" fill="#1e6e34" stroke="none" stroke-width="1" opacity="0.3"/>
<circle cx="125.50" cy="424.00" r="2.60" fill="#7ccc8c" stroke="none" stroke-width="1" opacity="0.55"/>
<polygon points="118.70,436.90 132.30,436.90 137.30,449.50 132.30,462.10 118.70,462.10 113.70,449.50" fill="#5a6cbe" stroke="#3e4c98" stroke-width="0.5" />
<polygon points="118.70,436.90 132.30,436.90 125.50,449.50" fill="#3e4c98" stroke="none" stroke-width="1" opacity="0.45"/>
<polygon points="137.30,449.50 132.30,462.10 125.50,449.50" fill="#3e4c98" stroke="none" stroke-width="1" opacity="0.3"/>
<polygon points="113.70,449.50 118.70,462.10 125.50,449.50" fill="#3e4c98" stroke="none" stroke-width="1" opacity="0.3"/>
<circle cx="125.50" cy="449.50" r="2.60" fill="#9aa6de" stroke="none" stroke-width="1" opacity="0.55"/>
<polygon points="118.70,462.40 132.30,462.40 137.30,475.00 132.30,487.60 118.70,487.60 113.70,475.00" fill="#38984c" stroke="#1e6e34" stroke-width="0.5" />
<polygon points="118.70,462.40 132.30,462.40 125.50,475.00" fill="#1e6e34" stroke="none" stroke-width="1" opacity="0.45"/>
<polygon points="137.30,475.00 132.30,487.60 125.50,475.00" fill="#1e6e34" stroke="none" stroke-width="1" opacity="0.3"/>
<polygon points="113.70,475.00 118.70,487.60 125.50,475.00" fill="#1e6e34" stroke="none" stroke-width="1" opacity="0.3"/>
<circle cx="125.50" cy="475.00" r="2.60" fill="#7ccc8c" stroke="none" stroke-width="1" opacity="0.55"/>
<circle cx="44.90" cy="406.80" r="1.75" fill="#d41c1c" stroke="#901010" stroke-width="0.3" />
<circle cx="44.40" cy="406.30" r="0.60" fill="#ff9a9a" stroke="none" stroke-width="1" />
<circle cx="44.30" cy="409.10" r="1.75" fill="#d41c1c" stroke="#901010" stroke-width="0.3" />
<circle cx="43.80" cy="408.60" r="0.60" fill="#ff9a9a" stroke="none" stroke-width="1" />
<circle cx="43.70" cy="411.40" r="1.75" fill="#d41c1c" stroke="#901010" stroke-width="0.3" />
<circle cx="43.20" cy="410.90" r="0.60" fill="#ff9a9a" stroke="none" stroke-width="1" />
<circle cx="58.50" cy="406.80" r="1.75" fill="#d41c1c" stroke="#901010" stroke-width="0.3" />
<circle cx="58.00" cy="406.30" r="0.60" fill="#ff9a9a" stroke="none" stroke-width="1" />
<circle cx="57.90" cy="409.10" r="1.75" fill="#d41c1c" stroke="#901010" stroke-width="0.3" />
<circle cx="57.40" cy="408.60" r="0.60" fill="#ff9a9a" stroke="none" stroke-width="1" />
<circle cx="57.30" cy="411.40" r="1.75" fill="#d41c1c" stroke="#901010" stroke-width="0.3" />
<circle cx="56.80" cy="410.90" r="0.60" fill="#ff9a9a" stroke="none" stroke-width="1" />
<circle cx="39.30" cy="421.70" r="1.75" fill="#d41c1c" stroke="#901010" stroke-width="0.3" />
<circle cx="38.80" cy="421.20" r="0.60" fill="#ff9a9a" stroke="none" stroke-width="1" />
<circle cx="38.70" cy="424.00" r="1.75" fill="#d41c1c" stroke="#901010" stroke-width="0.3" />
<circle cx="38.20" cy="423.50" r="0.60" fill="#ff9a9a" stroke="none" stroke-width="1" />
<circle cx="62.90" cy="421.70" r="1.75" fill="#d41c1c" stroke="#901010" stroke-width="0.3" />
<circle cx="62.40" cy="421.20" r="0.60" fill="#ff9a9a" stroke="none" stroke-width="1" />
<circle cx="62.30" cy="424.00" r="1.75" fill="#d41c1c" stroke="#901010" stroke-width="0.3" />
<circle cx="61.80" cy="423.50" r="0.60" fill="#ff9a9a" stroke="none" stroke-width="1" />
<circle cx="44.30" cy="434.60" r="1.75" fill="#d41c1c" stroke="#901010" stroke-width="0.3" />
<circle cx="43.80" cy="434.10" r="0.60" fill="#ff9a9a" stroke="none" stroke-width="1" />
<circle cx="43.70" cy="436.90" r="1.75" fill="#d41c1c" stroke="#901010" stroke-width="0.3" />
<circle cx="43.20" cy="436.40" r="0.60" fill="#ff9a9a" stroke="none" stroke-width="1" />
<circle cx="57.90" cy="434.60" r="1.75" fill="#d41c1c" stroke="#901010" stroke-width="0.3" />
<circle cx="57.40" cy="434.10" r="0.60" fill="#ff9a9a" stroke="none" stroke-width="1" />
<circle cx="57.30" cy="436.90" r="1.75" fill="#d41c1c" stroke="#901010" stroke-width="0.3" />
<circle cx="56.80" cy="436.40" r="0.60" fill="#ff9a9a" stroke="none" stroke-width="1" />
<circle cx="39.30" cy="447.20" r="1.75" fill="#d41c1c" stroke="#901010" stroke-width="0.3" />
<circle cx="38.80" cy="446.70" r="0.60" fill="#ff9a9a" stroke="none" stroke-width="1" />
<circle cx="38.70" cy="449.50" r="1.75" fill="#d41c1c" stroke="#901010" stroke-width="0.3" />
<circle cx="38.20" cy="449.00" r="0.60" fill="#ff9a9a" stroke="none" stroke-width="1" />
<circle cx="62.90" cy="447.20" r="1.75" fill="#d41c1c" stroke="#901010" stroke-width="0.3" />
<circle cx="62.40" cy="446.70" r="0.60" fill="#ff9a9a" stroke="none" stroke-width="1" />
<circle cx="62.30" cy="449.50" r="1.75" fill="#d41c1c" stroke="#901010" stroke-width="0.3" />
<circle cx="61.80" cy="449.00" r="0.60" fill="#ff9a9a" stroke="none" stroke-width="1" />
<circle cx="44.30" cy="460.10" r="1.75" fill="#d41c1c" stroke="#901010" stroke-width="0.3" />
<circle cx="43.80" cy="459.60" r="0.60" fill="#ff9a9a" stroke="none" stroke-width="1" />
<circle cx="43.70" cy="462.40" r="1.75" fill="#d41c1c" stroke="#901010" stroke-width="0.3" />
<circle cx="43.20" cy="461.90" r="0.60" fill="#ff9a9a" stroke="none" stroke-width="1" />
<circle cx="57.90" cy="460.10" r="1.75" fill="#d41c1c" stroke="#901010" stroke-width="0.3" />
<circle cx="57.40" cy="459.60" r="0.60" fill="#ff9a9a" stroke="none" stroke-width="1" />
<circle cx="57.30" cy="462.40" r="1.75" fill="#d41c1c" stroke="#901010" stroke-width="0.3" />
<circle cx="56.80" cy="461.90" r="0.60" fill="#ff9a9a" stroke="none" stroke-width="1" />
<circle cx="39.30" cy="472.70" r="1.75" fill="#d41c1c" stroke="#901010" stroke-width="0.3" />
<circle cx="38.80" cy="472.20" r="0.60" fill="#ff9a9a" stroke="none" stroke-width="1" />
<circle cx="38.70" cy="475.00" r="1.75" fill="#d41c1c" stroke="#901010" stroke-width="0.3" />
<circle cx="38.20" cy="474.50" r="0.60" fill="#ff9a9a" stroke="none" stroke-width="1" />
<circle cx="62.90" cy="472.70" r="1.75" fill="#d41c1c" stroke="#901010" stroke-width="0.3" />
<circle cx="62.40" cy="472.20" r="0.60" fill="#ff9a9a" stroke="none" stroke-width="1" />
<circle cx="62.30" cy="475.00" r="1.75" fill="#d41c1c" stroke="#901010" stroke-width="0.3" />
<circle cx="61.80" cy="474.50" r="0.60" fill="#ff9a9a" stroke="none" stroke-width="1" />
<circle cx="43.70" cy="487.60" r="1.75" fill="#d41c1c" stroke="#901010" stroke-width="0.3" />
<circle cx="43.20" cy="487.10" r="0.60" fill="#ff9a9a" stroke="none" stroke-width="1" />
<circle cx="57.30" cy="487.60" r="1.75" fill="#d41c1c" stroke="#901010" stroke-width="0.3" />
<circle cx="56.80" cy="487.10" r="0.60" fill="#ff9a9a" stroke="none" stroke-width="1" />
<circle cx="82.40" cy="406.80" r="1.75" fill="#d41c1c" stroke="#901010" stroke-width="0.3" />
<circle cx="81.90" cy="406.30" r="0.60" fill="#ff9a9a" stroke="none" stroke-width="1" />
<circle cx="81.80" cy="409.10" r="1.75" fill="#d41c1c" stroke="#901010" stroke-width="0.3" />
<circle cx="81.30" cy="408.60" r="0.60" fill="#ff9a9a" stroke="none" stroke-width="1" />
<circle cx="81.20" cy="411.40" r="1.75" fill="#d41c1c" stroke="#901010" stroke-width="0.3" />
<circle cx="80.70" cy="410.90" r="0.60" fill="#ff9a9a" stroke="none" stroke-width="1" />
<circle cx="96.00" cy="406.80" r="1.75" fill="#d41c1c" stroke="#901010" stroke-width="0.3" />
<circle cx="95.50" cy="406.30" r="0.60" fill="#ff9a9a" stroke="none" stroke-width="1" />
<circle cx="95.40" cy="409.10" r="1.75" fill="#d41c1c" stroke="#901010" stroke-width="0.3" />
<circle cx="94.90" cy="408.60" r="0.60" fill="#ff9a9a" stroke="none" stroke-width="1" />
<circle cx="94.80" cy="411.40" r="1.75" fill="#d41c1c" stroke="#901010" stroke-width="0.3" />
<circle cx="94.30" cy="410.90" r="0.60" fill="#ff9a9a" stroke="none" stroke-width="1" />
<circle cx="76.80" cy="421.70" r="1.75" fill="#d41c1c" stroke="#901010" stroke-width="0.3" />
<circle cx="76.30" cy="421.20" r="0.60" fill="#ff9a9a" stroke="none" stroke-width="1" />
<circle cx="76.20" cy="424.00" r="1.75" fill="#d41c1c" stroke="#901010" stroke-width="0.3" />
<circle cx="75.70" cy="423.50" r="0.60" fill="#ff9a9a" stroke="none" stroke-width="1" />
<circle cx="100.40" cy="421.70" r="1.75" fill="#d41c1c" stroke="#901010" stroke-width="0.3" />
<circle cx="99.90" cy="421.20" r="0.60" fill="#ff9a9a" stroke="none" stroke-width="1" />
<circle cx="99.80" cy="424.00" r="1.75" fill="#d41c1c" stroke="#901010" stroke-width="0.3" />
<circle cx="99.30" cy="423.50" r="0.60" fill="#ff9a9a" stroke="none" stroke-width="1" />
<circle cx="81.80" cy="434.60" r="1.75" fill="#d41c1c" stroke="#901010" stroke-width="0.3" />
<circle cx="81.30" cy="434.10" r="0.60" fill="#ff9a9a" stroke="none" stroke-width="1" />
<circle cx="81.20" cy="436.90" r="1.75" fill="#d41c1c" stroke="#901010" stroke-width="0.3" />
<circle cx="80.70" cy="436.40" r="0.60" fill="#ff9a9a" stroke="none" stroke-width="1" />
<circle cx="95.40" cy="434.60" r="1.75" fill="#d41c1c" stroke="#901010" stroke-width="0.3" />
<circle cx="94.90" cy="434.10" r="0.60" fill="#ff9a9a" stroke="none" stroke-width="1" />
<circle cx="94.80" cy="436.90" r="1.75" fill="#d41c1c" stroke="#901010" stroke-width="0.3" />
<circle cx="94.30" cy="436.40" r="0.60" fill="#ff9a9a" stroke="none" stroke-width="1" />
<circle cx="76.80" cy="447.20" r="1.75" fill="#d41c1c" stroke="#901010" stroke-width="0.3" />
<circle cx="76.30" cy="446.70" r="0.60" fill="#ff9a9a" stroke="none" stroke-width="1" />
<circle cx="76.20" cy="449.50" r="1.75" fill="#d41c1c" stroke="#901010" stroke-width="0.3" />
<circle cx="75.70" cy="449.00" r="0.60" fill="#ff9a9a" stroke="none" stroke-width="1" />
<circle cx="100.40" cy="447.20" r="1.75" fill="#d41c1c" stroke="#901010" stroke-width="0.3" />
<circle cx="99.90" cy="446.70" r="0.60" fill="#ff9a9a" stroke="none" stroke-width="1" />
<circle cx="99.80" cy="449.50" r="1.75" fill="#d41c1c" stroke="#901010" stroke-width="0.3" />
<circle cx="99.30" cy="449.00" r="0.60" fill="#ff9a9a" stroke="none" stroke-width="1" />
<circle cx="81.80" cy="460.10" r="1.75" fill="#d41c1c" stroke="#901010" stroke-width="0.3" />
<circle cx="81.30" cy="459.60" r="0.60" fill="#ff9a9a" stroke="none" stroke-width="1" />
<circle cx="81.20" cy="462.40" r="1.75" fill="#d41c1c" stroke="#901010" stroke-width="0.3" />
<circle cx="80.70" cy="461.90" r="0.60" fill="#ff9a9a" stroke="none" stroke-width="1" />
<circle cx="95.40" cy="460.10" r="1.75" fill="#d41c1c" stroke="#901010" stroke-width="0.3" />
<circle cx="94.90" cy="459.60" r="0.60" fill="#ff9a9a" stroke="none" stroke-width="1" />
<circle cx="94.80" cy="462.40" r="1.75" fill="#d41c1c" stroke="#901010" stroke-width="0.3" />
<circle cx="94.30" cy="461.90" r="0.60" fill="#ff9a9a" stroke="none" stroke-width="1" />
<circle cx="76.80" cy="472.70" r="1.75" fill="#d41c1c" stroke="#901010" stroke-width="0.3" />
<circle cx="76.30" cy="472.20" r="0.60" fill="#ff9a9a" stroke="none" stroke-width="1" />
<circle cx="76.20" cy="475.00" r="1.75" fill="#d41c1c" stroke="#901010" stroke-width="0.3" />
<circle cx="75.70" cy="474.50" r="0.60" fill="#ff9a9a" stroke="none" stroke-width="1" />
<circle cx="100.40" cy="472.70" r="1.75" fill="#d41c1c" stroke="#901010" stroke-width="0.3" />
<circle cx="99.90" cy="472.20" r="0.60" fill="#ff9a9a" stroke="none" stroke-width="1" />
<circle cx="99.80" cy="475.00" r="1.75" fill="#d41c1c" stroke="#901010" stroke-width="0.3" />
<circle cx="99.30" cy="474.50" r="0.60" fill="#ff9a9a" stroke="none" stroke-width="1" />
<circle cx="81.20" cy="487.60" r="1.75" fill="#d41c1c" stroke="#901010" stroke-width="0.3" />
<circle cx="80.70" cy="487.10" r="0.60" fill="#ff9a9a" stroke="none" stroke-width="1" />
<circle cx="94.80" cy="487.60" r="1.75" fill="#d41c1c" stroke="#901010" stroke-width="0.3" />
<circle cx="94.30" cy="487.10" r="0.60" fill="#ff9a9a" stroke="none" stroke-width="1" />
<circle cx="119.90" cy="406.80" r="1.75" fill="#d41c1c" stroke="#901010" stroke-width="0.3" />
<circle cx="119.40" cy="406.30" r="0.60" fill="#ff9a9a" stroke="none" stroke-width="1" />
<circle cx="119.30" cy="409.10" r="1.75" fill="#d41c1c" stroke="#901010" stroke-width="0.3" />
<circle cx="118.80" cy="408.60" r="0.60" fill="#ff9a9a" stroke="none" stroke-width="1" />
<circle cx="118.70" cy="411.40" r="1.75" fill="#d41c1c" stroke="#901010" stroke-width="0.3" />
<circle cx="118.20" cy="410.90" r="0.60" fill="#ff9a9a" stroke="none" stroke-width="1" />
<circle cx="133.50" cy="406.80" r="1.75" fill="#d41c1c" stroke="#901010" stroke-width="0.3" />
<circle cx="133.00" cy="406.30" r="0.60" fill="#ff9a9a" stroke="none" stroke-width="1" />
<circle cx="132.90" cy="409.10" r="1.75" fill="#d41c1c" stroke="#901010" stroke-width="0.3" />
<circle cx="132.40" cy="408.60" r="0.60" fill="#ff9a9a" stroke="none" stroke-width="1" />
<circle cx="132.30" cy="411.40" r="1.75" fill="#d41c1c" stroke="#901010" stroke-width="0.3" />
<circle cx="131.80" cy="410.90" r="0.60" fill="#ff9a9a" stroke="none" stroke-width="1" />
<circle cx="114.30" cy="421.70" r="1.75" fill="#d41c1c" stroke="#901010" stroke-width="0.3" />
<circle cx="113.80" cy="421.20" r="0.60" fill="#ff9a9a" stroke="none" stroke-width="1" />
<circle cx="113.70" cy="424.00" r="1.75" fill="#d41c1c" stroke="#901010" stroke-width="0.3" />
<circle cx="113.20" cy="423.50" r="0.60" fill="#ff9a9a" stroke="none" stroke-width="1" />
<circle cx="137.90" cy="421.70" r="1.75" fill="#d41c1c" stroke="#901010" stroke-width="0.3" />
<circle cx="137.40" cy="421.20" r="0.60" fill="#ff9a9a" stroke="none" stroke-width="1" />
<circle cx="137.30" cy="424.00" r="1.75" fill="#d41c1c" stroke="#901010" stroke-width="0.3" />
<circle cx="136.80" cy="423.50" r="0.60" fill="#ff9a9a" stroke="none" stroke-width="1" />
<circle cx="119.30" cy="434.60" r="1.75" fill="#d41c1c" stroke="#901010" stroke-width="0.3" />
<circle cx="118.80" cy="434.10" r="0.60" fill="#ff9a9a" stroke="none" stroke-width="1" />
<circle cx="118.70" cy="436.90" r="1.75" fill="#d41c1c" stroke="#901010" stroke-width="0.3" />
<circle cx="118.20" cy="436.40" r="0.60" fill="#ff9a9a" stroke="none" stroke-width="1" />
<circle cx="132.90" cy="434.60" r="1.75" fill="#d41c1c" stroke="#901010" stroke-width="0.3" />
<circle cx="132.40" cy="434.10" r="0.60" fill="#ff9a9a" stroke="none" stroke-width="1" />
<circle cx="132.30" cy="436.90" r="1.75" fill="#d41c1c" stroke="#901010" stroke-width="0.3" />
<circle cx="131.80" cy="436.40" r="0.60" fill="#ff9a9a" stroke="none" stroke-width="1" />
<circle cx="114.30" cy="447.20" r="1.75" fill="#d41c1c" stroke="#901010" stroke-width="0.3" />
<circle cx="113.80" cy="446.70" r="0.60" fill="#ff9a9a" stroke="none" stroke-width="1" />
<circle cx="113.70" cy="449.50" r="1.75" fill="#d41c1c" stroke="#901010" stroke-width="0.3" />
<circle cx="113.20" cy="449.00" r="0.60" fill="#ff9a9a" stroke="none" stroke-width="1" />
<circle cx="137.90" cy="447.20" r="1.75" fill="#d41c1c" stroke="#901010" stroke-width="0.3" />
<circle cx="137.40" cy="446.70" r="0.60" fill="#ff9a9a" stroke="none" stroke-width="1" />
<circle cx="137.30" cy="449.50" r="1.75" fill="#d41c1c" stroke="#901010" stroke-width="0.3" />
<circle cx="136.80" cy="449.00" r="0.60" fill="#ff9a9a" stroke="none" stroke-width="1" />
<circle cx="119.30" cy="460.10" r="1.75" fill="#d41c1c" stroke="#901010" stroke-width="0.3" />
<circle cx="118.80" cy="459.60" r="0.60" fill="#ff9a9a" stroke="none" stroke-width="1" />
<circle cx="118.70" cy="462.40" r="1.75" fill="#d41c1c" stroke="#901010" stroke-width="0.3" />
<circle cx="118.20" cy="461.90" r="0.60" fill="#ff9a9a" stroke="none" stroke-width="1" />
<circle cx="132.90" cy="460.10" r="1.75" fill="#d41c1c" stroke="#901010" stroke-width="0.3" />
<circle cx="132.40" cy="459.60" r="0.60" fill="#ff9a9a" stroke="none" stroke-width="1" />
<circle cx="132.30" cy="462.40" r="1.75" fill="#d41c1c" stroke="#901010" stroke-width="0.3" />
<circle cx="131.80" cy="461.90" r="0.60" fill="#ff9a9a" stroke="none" stroke-width="1" />
<circle cx="114.30" cy="472.70" r="1.75" fill="#d41c1c" stroke="#901010" stroke-width="0.3" />
<circle cx="113.80" cy="472.20" r="0.60" fill="#ff9a9a" stroke="none" stroke-width="1" />
<circle cx="113.70" cy="475.00" r="1.75" fill="#d41c1c" stroke="#901010" stroke-width="0.3" />
<circle cx="113.20" cy="474.50" r="0.60" fill="#ff9a9a" stroke="none" stroke-width="1" />
<circle cx="137.90" cy="472.70" r="1.75" fill="#d41c1c" stroke="#901010" stroke-width="0.3" />
<circle cx="137.40" cy="472.20" r="0.60" fill="#ff9a9a" stroke="none" stroke-width="1" />
<circle cx="137.30" cy="475.00" r="1.75" fill="#d41c1c" stroke="#901010" stroke-width="0.3" />
<circle cx="136.80" cy="474.50" r="0.60" fill="#ff9a9a" stroke="none" stroke-width="1" />
<circle cx="118.70" cy="487.60" r="1.75" fill="#d41c1c" stroke="#901010" stroke-width="0.3" />
<circle cx="118.20" cy="487.10" r="0.60" fill="#ff9a9a" stroke="none" stroke-width="1" />
<circle cx="132.30" cy="487.60" r="1.75" fill="#d41c1c" stroke="#901010" stroke-width="0.3" />
<circle cx="131.80" cy="487.10" r="0.60" fill="#ff9a9a" stroke="none" stroke-width="1" />
<line x1="20.40" y1="493.00" x2="20.40" y2="482.00" stroke="#2f55c0" stroke-width="0.9" />
<polygon points="20.40,479.50 18.80,483.00 22.00,483.00" fill="#2f55c0" stroke="none" stroke-width="1" />
<line x1="20.40" y1="493.00" x2="31.50" y2="493.00" stroke="#3aa050" stroke-width="0.9" />
<polygon points="34.00,493.00 30.50,491.40 30.50,494.60" fill="#3aa050" stroke="none" stroke-width="1" />
<circle cx="20.40" cy="493.00" r="1.40" fill="#c02020" stroke="none" stroke-width="1" />
<text x="17.70" y="478.50" font-size="8.4" font-weight="bold" fill="#222" font-style="italic">c</text>
<text x="35.00" y="495.80" font-size="8.4" font-weight="bold" fill="#222" font-style="italic">b</text>
<text x="13.20" y="497.70" font-size="8.4" font-weight="bold" fill="#222" font-style="italic">a</text>
<line x1="161.10" y1="429.90" x2="161.10" y2="422.60" stroke="#6a80c0" stroke-width="1.4" />
<line x1="161.10" y1="422.60" x2="161.10" y2="415.30" stroke="#d42020" stroke-width="1.4" />
<line x1="161.10" y1="429.90" x2="161.10" y2="437.20" stroke="#6a80c0" stroke-width="1.4" />
<line x1="161.10" y1="437.20" x2="161.10" y2="444.50" stroke="#d42020" stroke-width="1.4" />
<line x1="161.10" y1="429.90" x2="154.05" y2="430.25" stroke="#6a80c0" stroke-width="1.4" />
<line x1="154.05" y1="430.25" x2="147.00" y2="430.60" stroke="#d42020" stroke-width="1.4" />
<line x1="161.10" y1="429.90" x2="168.00" y2="429.65" stroke="#6a80c0" stroke-width="1.4" />
<line x1="168.00" y1="429.65" x2="174.90" y2="429.40" stroke="#d42020" stroke-width="1.4" />
<line x1="161.10" y1="429.90" x2="157.80" y2="431.80" stroke="#6a80c0" stroke-width="1.4" />
<line x1="157.80" y1="431.80" x2="154.50" y2="433.70" stroke="#d42020" stroke-width="1.4" />
<line x1="161.10" y1="429.90" x2="164.15" y2="427.85" stroke="#6a80c0" stroke-width="1.4" />
<line x1="164.15" y1="427.85" x2="167.20" y2="425.80" stroke="#d42020" stroke-width="1.4" />
<circle cx="161.10" cy="415.30" r="1.90" fill="#d42020" stroke="#9a1010" stroke-width="0.3" />
<circle cx="161.10" cy="444.50" r="1.90" fill="#d42020" stroke="#9a1010" stroke-width="0.3" />
<circle cx="147.00" cy="430.60" r="1.90" fill="#d42020" stroke="#9a1010" stroke-width="0.3" />
<circle cx="174.90" cy="429.40" r="1.90" fill="#d42020" stroke="#9a1010" stroke-width="0.3" />
<circle cx="154.50" cy="433.70" r="1.90" fill="#d42020" stroke="#9a1010" stroke-width="0.3" />
<circle cx="167.20" cy="425.80" r="1.90" fill="#d42020" stroke="#9a1010" stroke-width="0.3" />
<circle cx="161.10" cy="429.90" r="4.20" fill="#6a80c0" stroke="none" stroke-width="1" />
<circle cx="160.10" cy="428.90" r="1.40" fill="#fff" stroke="none" stroke-width="1" opacity="0.7"/>
<text x="169.00" y="444.10" font-size="8.6" font-weight="bold" fill="#222" >Sn</text>
<line x1="171.00" y1="416.90" x2="195.50" y2="416.90" stroke="#111" stroke-width="1.4" />
<polygon points="200.30,416.90 194.00,414.00 194.00,419.80" fill="#111" stroke="none" stroke-width="1" />
<text x="204.00" y="419.90" font-size="8.5" font-weight="bold" fill="#222" >2.05 Å</text>
<line x1="181.00" y1="429.10" x2="195.50" y2="429.10" stroke="#111" stroke-width="1.4" />
<polygon points="200.30,429.10 194.00,426.20 194.00,432.00" fill="#111" stroke="none" stroke-width="1" />
<text x="204.00" y="432.10" font-size="8.5" font-weight="bold" fill="#222" >2.10 Å</text>
<line x1="161.10" y1="473.60" x2="161.10" y2="466.30" stroke="#3a9050" stroke-width="1.4" />
<line x1="161.10" y1="466.30" x2="161.10" y2="459.00" stroke="#d42020" stroke-width="1.4" />
<line x1="161.10" y1="473.60" x2="161.10" y2="480.90" stroke="#3a9050" stroke-width="1.4" />
<line x1="161.10" y1="480.90" x2="161.10" y2="488.20" stroke="#d42020" stroke-width="1.4" />
<line x1="161.10" y1="473.60" x2="154.05" y2="473.95" stroke="#3a9050" stroke-width="1.4" />
<line x1="154.05" y1="473.95" x2="147.00" y2="474.30" stroke="#d42020" stroke-width="1.4" />
<line x1="161.10" y1="473.60" x2="168.00" y2="473.35" stroke="#3a9050" stroke-width="1.4" />
<line x1="168.00" y1="473.35" x2="174.90" y2="473.10" stroke="#d42020" stroke-width="1.4" />
<line x1="161.10" y1="473.60" x2="157.80" y2="475.50" stroke="#3a9050" stroke-width="1.4" />
<line x1="157.80" y1="475.50" x2="154.50" y2="477.40" stroke="#d42020" stroke-width="1.4" />
<line x1="161.10" y1="473.60" x2="164.15" y2="471.55" stroke="#3a9050" stroke-width="1.4" />
<line x1="164.15" y1="471.55" x2="167.20" y2="469.50" stroke="#d42020" stroke-width="1.4" />
<circle cx="161.10" cy="459.00" r="1.90" fill="#d42020" stroke="#9a1010" stroke-width="0.3" />
<circle cx="161.10" cy="488.20" r="1.90" fill="#d42020" stroke="#9a1010" stroke-width="0.3" />
<circle cx="147.00" cy="474.30" r="1.90" fill="#d42020" stroke="#9a1010" stroke-width="0.3" />
<circle cx="174.90" cy="473.10" r="1.90" fill="#d42020" stroke="#9a1010" stroke-width="0.3" />
<circle cx="154.50" cy="477.40" r="1.90" fill="#d42020" stroke="#9a1010" stroke-width="0.3" />
<circle cx="167.20" cy="469.50" r="1.90" fill="#d42020" stroke="#9a1010" stroke-width="0.3" />
<circle cx="161.10" cy="473.60" r="4.20" fill="#3a9050" stroke="none" stroke-width="1" />
<circle cx="160.10" cy="472.60" r="1.40" fill="#fff" stroke="none" stroke-width="1" opacity="0.7"/>
<text x="169.00" y="486.60" font-size="8.6" font-weight="bold" fill="#222" >Ge</text>
<line x1="171.00" y1="460.50" x2="195.50" y2="460.50" stroke="#111" stroke-width="1.4" />
<polygon points="200.30,460.50 194.00,457.60 194.00,463.40" fill="#111" stroke="none" stroke-width="1" />
<text x="204.00" y="463.50" font-size="8.5" font-weight="bold" fill="#222" >1.97 Å</text>
<line x1="181.00" y1="473.30" x2="195.50" y2="473.30" stroke="#111" stroke-width="1.4" />
<polygon points="200.30,473.30 194.00,470.40 194.00,476.20" fill="#111" stroke="none" stroke-width="1" />
<text x="204.00" y="476.30" font-size="8.5" font-weight="bold" fill="#222" >1.94 Å</text>
<text x="249.20" y="407.00" font-size="15" font-weight="bold" fill="#2b1a17" >g</text>
<defs><radialGradient id="gSn" cx="0.38" cy="0.35" r="0.65"><stop offset="0" stop-color="#c8cce4"/><stop offset="0.5" stop-color="#7c82ac"/><stop offset="1" stop-color="#545a86"/></radialGradient><radialGradient id="gGe" cx="0.38" cy="0.35" r="0.65"><stop offset="0" stop-color="#9ae0a8"/><stop offset="0.5" stop-color="#2aa040"/><stop offset="1" stop-color="#157028"/></radialGradient><radialGradient id="gO" cx="0.38" cy="0.35" r="0.65"><stop offset="0" stop-color="#f4a0a0"/><stop offset="0.5" stop-color="#d42828"/><stop offset="1" stop-color="#9a1414"/></radialGradient></defs>
<defs><filter id="dblur" x="-20%" y="-20%" width="140%" height="140%"><feGaussianBlur stdDeviation="2.0"/></filter><clipPath id="mapclip"><rect x="318.9" y="406.4" width="67.0" height="82.10000000000002"/></clipPath><linearGradient id="cbar" x1="0" y1="0" x2="0" y2="1"><stop offset="0" stop-color="#f5e43a"/><stop offset="0.5" stop-color="#8c8c78"/><stop offset="1" stop-color="#1c3d78"/></linearGradient></defs>
<g clip-path="url(#mapclip)">
<rect x="318.90" y="406.40" width="67.00" height="82.10" fill="#f2de3c" stroke="none" stroke-width="1" />
<g filter="url(#dblur)" fill="#1f3f78">
<rect x="321.0" y="419.0" width="16.0" height="22.0" rx="7"/>
<rect x="341.2" y="419.0" width="12.0" height="22.0" rx="6"/>
<rect x="379.5" y="419.5" width="12.5" height="21.0" rx="5"/>
<rect x="321.0" y="446.5" width="16.0" height="22.0" rx="7"/>
<rect x="341.2" y="446.5" width="12.0" height="22.0" rx="6"/>
<rect x="379.5" y="447.0" width="12.5" height="21.0" rx="5"/>
<rect x="321.0" y="475.5" width="16.0" height="20.5" rx="7"/>
<rect x="341.2" y="475.5" width="12.0" height="20.5" rx="6"/>
<rect x="379.5" y="475.5" width="12.5" height="20.5" rx="5"/>
<rect x="318.0" y="398.0" width="35.2" height="13.5" rx="5"/>
<rect x="378.5" y="398.0" width="13.5" height="14.0" rx="4"/>
<rect x="366.5" y="404.0" width="3.6" height="15.5" rx="1.8"/>
<rect x="366.5" y="435.5" width="3.6" height="16.5" rx="1.8"/>
<rect x="366.5" y="464.0" width="3.6" height="15.5" rx="1.8"/>
</g></g>
<line x1="278.30" y1="415.40" x2="287.95" y2="416.15" stroke="#7c80a8" stroke-width="1.7" stroke-linecap="round"/>
<line x1="287.95" y1="416.15" x2="297.60" y2="416.90" stroke="#d02828" stroke-width="1.7" stroke-linecap="round"/>
<line x1="297.60" y1="416.90" x2="302.85" y2="423.30" stroke="#d02828" stroke-width="1.7" stroke-linecap="round"/>
<line x1="302.85" y1="423.30" x2="308.10" y2="429.70" stroke="#2aa040" stroke-width="1.7" stroke-linecap="round"/>
<line x1="308.10" y1="429.70" x2="313.65" y2="423.30" stroke="#2aa040" stroke-width="1.7" stroke-linecap="round"/>
<line x1="313.65" y1="423.30" x2="319.20" y2="416.90" stroke="#d02828" stroke-width="1.7" stroke-linecap="round"/>
<line x1="308.10" y1="429.70" x2="302.85" y2="436.05" stroke="#2aa040" stroke-width="1.7" stroke-linecap="round"/>
<line x1="302.85" y1="436.05" x2="297.60" y2="442.40" stroke="#d02828" stroke-width="1.7" stroke-linecap="round"/>
<line x1="308.10" y1="429.70" x2="313.65" y2="436.05" stroke="#2aa040" stroke-width="1.7" stroke-linecap="round"/>
<line x1="313.65" y1="436.05" x2="319.20" y2="442.40" stroke="#d02828" stroke-width="1.7" stroke-linecap="round"/>
<line x1="278.30" y1="415.40" x2="277.00" y2="422.55" stroke="#7c80a8" stroke-width="1.7" stroke-linecap="round"/>
<line x1="277.00" y1="422.55" x2="275.70" y2="429.70" stroke="#d02828" stroke-width="1.7" stroke-linecap="round"/>
<line x1="275.70" y1="429.70" x2="277.00" y2="436.80" stroke="#d02828" stroke-width="1.7" stroke-linecap="round"/>
<line x1="277.00" y1="436.80" x2="278.30" y2="443.90" stroke="#7c80a8" stroke-width="1.7" stroke-linecap="round"/>
<line x1="278.30" y1="443.90" x2="287.95" y2="443.15" stroke="#7c80a8" stroke-width="1.7" stroke-linecap="round"/>
<line x1="287.95" y1="443.15" x2="297.60" y2="442.40" stroke="#d02828" stroke-width="1.7" stroke-linecap="round"/>
<line x1="297.60" y1="442.40" x2="302.85" y2="450.45" stroke="#d02828" stroke-width="1.7" stroke-linecap="round"/>
<line x1="302.85" y1="450.45" x2="308.10" y2="458.50" stroke="#7c80a8" stroke-width="1.7" stroke-linecap="round"/>
<line x1="308.10" y1="458.50" x2="313.65" y2="450.45" stroke="#7c80a8" stroke-width="1.7" stroke-linecap="round"/>
<line x1="313.65" y1="450.45" x2="319.20" y2="442.40" stroke="#d02828" stroke-width="1.7" stroke-linecap="round"/>
<line x1="308.10" y1="458.50" x2="302.85" y2="466.15" stroke="#7c80a8" stroke-width="1.7" stroke-linecap="round"/>
<line x1="302.85" y1="466.15" x2="297.60" y2="473.80" stroke="#d02828" stroke-width="1.7" stroke-linecap="round"/>
<line x1="308.10" y1="458.50" x2="313.65" y2="466.15" stroke="#7c80a8" stroke-width="1.7" stroke-linecap="round"/>
<line x1="313.65" y1="466.15" x2="319.20" y2="473.80" stroke="#d02828" stroke-width="1.7" stroke-linecap="round"/>
<line x1="297.60" y1="473.80" x2="287.95" y2="473.10" stroke="#d02828" stroke-width="1.7" stroke-linecap="round"/>
<line x1="287.95" y1="473.10" x2="278.30" y2="472.40" stroke="#7c80a8" stroke-width="1.7" stroke-linecap="round"/>
<line x1="297.60" y1="473.80" x2="302.85" y2="480.40" stroke="#d02828" stroke-width="1.7" stroke-linecap="round"/>
<line x1="302.85" y1="480.40" x2="308.10" y2="487.00" stroke="#2aa040" stroke-width="1.7" stroke-linecap="round"/>
<line x1="319.20" y1="473.80" x2="313.65" y2="480.40" stroke="#d02828" stroke-width="1.7" stroke-linecap="round"/>
<line x1="313.65" y1="480.40" x2="308.10" y2="487.00" stroke="#2aa040" stroke-width="1.7" stroke-linecap="round"/>
<line x1="278.30" y1="443.90" x2="279.00" y2="451.20" stroke="#7c80a8" stroke-width="1.7" stroke-linecap="round"/>
<line x1="279.00" y1="451.20" x2="279.70" y2="458.50" stroke="#d02828" stroke-width="1.7" stroke-linecap="round"/>
<line x1="279.70" y1="458.50" x2="279.00" y2="465.45" stroke="#d02828" stroke-width="1.7" stroke-linecap="round"/>
<line x1="279.00" y1="465.45" x2="278.30" y2="472.40" stroke="#7c80a8" stroke-width="1.7" stroke-linecap="round"/>
<line x1="278.30" y1="472.40" x2="277.00" y2="479.70" stroke="#7c80a8" stroke-width="1.7" stroke-linecap="round"/>
<line x1="277.00" y1="479.70" x2="275.70" y2="487.00" stroke="#d02828" stroke-width="1.7" stroke-linecap="round"/>
<line x1="319.20" y1="416.90" x2="329.00" y2="415.95" stroke="#d02828" stroke-width="1.7" stroke-linecap="round"/>
<line x1="329.00" y1="415.95" x2="338.80" y2="415.00" stroke="#7c80a8" stroke-width="1.7" stroke-linecap="round"/>
<line x1="319.20" y1="442.40" x2="329.00" y2="443.45" stroke="#d02828" stroke-width="1.7" stroke-linecap="round"/>
<line x1="329.00" y1="443.45" x2="338.80" y2="444.50" stroke="#7c80a8" stroke-width="1.7" stroke-linecap="round"/>
<line x1="319.20" y1="473.80" x2="329.00" y2="473.30" stroke="#d02828" stroke-width="1.7" stroke-linecap="round"/>
<line x1="329.00" y1="473.30" x2="338.80" y2="472.80" stroke="#7c80a8" stroke-width="1.7" stroke-linecap="round"/>
<line x1="338.80" y1="415.00" x2="348.35" y2="414.80" stroke="#7c80a8" stroke-width="1.7" stroke-linecap="round"/>
<line x1="348.35" y1="414.80" x2="357.90" y2="414.60" stroke="#d02828" stroke-width="1.7" stroke-linecap="round"/>
<line x1="338.80" y1="415.00" x2="339.80" y2="422.45" stroke="#7c80a8" stroke-width="1.7" stroke-linecap="round"/>
<line x1="339.80" y1="422.45" x2="340.80" y2="429.90" stroke="#d02828" stroke-width="1.7" stroke-linecap="round"/>
<line x1="340.80" y1="429.90" x2="339.80" y2="437.20" stroke="#d02828" stroke-width="1.7" stroke-linecap="round"/>
<line x1="339.80" y1="437.20" x2="338.80" y2="444.50" stroke="#7c80a8" stroke-width="1.7" stroke-linecap="round"/>
<line x1="338.80" y1="444.50" x2="348.35" y2="444.85" stroke="#7c80a8" stroke-width="1.7" stroke-linecap="round"/>
<line x1="348.35" y1="444.85" x2="357.90" y2="445.20" stroke="#d02828" stroke-width="1.7" stroke-linecap="round"/>
<line x1="338.80" y1="444.50" x2="339.70" y2="451.35" stroke="#7c80a8" stroke-width="1.7" stroke-linecap="round"/>
<line x1="339.70" y1="451.35" x2="340.60" y2="458.20" stroke="#d02828" stroke-width="1.7" stroke-linecap="round"/>
<line x1="340.60" y1="458.20" x2="339.70" y2="465.50" stroke="#d02828" stroke-width="1.7" stroke-linecap="round"/>
<line x1="339.70" y1="465.50" x2="338.80" y2="472.80" stroke="#7c80a8" stroke-width="1.7" stroke-linecap="round"/>
<line x1="338.80" y1="472.80" x2="348.35" y2="472.80" stroke="#7c80a8" stroke-width="1.7" stroke-linecap="round"/>
<line x1="348.35" y1="472.80" x2="357.90" y2="472.80" stroke="#d02828" stroke-width="1.7" stroke-linecap="round"/>
<line x1="338.80" y1="472.80" x2="339.70" y2="480.10" stroke="#7c80a8" stroke-width="1.7" stroke-linecap="round"/>
<line x1="339.70" y1="480.10" x2="340.60" y2="487.40" stroke="#d02828" stroke-width="1.7" stroke-linecap="round"/>
<line x1="357.90" y1="414.60" x2="363.10" y2="421.80" stroke="#d02828" stroke-width="1.7" stroke-linecap="round"/>
<line x1="363.10" y1="421.80" x2="368.30" y2="429.00" stroke="#7c80a8" stroke-width="1.7" stroke-linecap="round"/>
<line x1="379.40" y1="414.10" x2="373.85" y2="421.55" stroke="#d02828" stroke-width="1.7" stroke-linecap="round"/>
<line x1="373.85" y1="421.55" x2="368.30" y2="429.00" stroke="#7c80a8" stroke-width="1.7" stroke-linecap="round"/>
<line x1="368.30" y1="429.00" x2="363.10" y2="437.10" stroke="#7c80a8" stroke-width="1.7" stroke-linecap="round"/>
<line x1="363.10" y1="437.10" x2="357.90" y2="445.20" stroke="#d02828" stroke-width="1.7" stroke-linecap="round"/>
<line x1="368.30" y1="429.00" x2="373.85" y2="437.10" stroke="#7c80a8" stroke-width="1.7" stroke-linecap="round"/>
<line x1="373.85" y1="437.10" x2="379.40" y2="445.20" stroke="#d02828" stroke-width="1.7" stroke-linecap="round"/>
<line x1="357.90" y1="445.20" x2="363.10" y2="451.70" stroke="#d02828" stroke-width="1.7" stroke-linecap="round"/>
<line x1="363.10" y1="451.70" x2="368.30" y2="458.20" stroke="#2aa040" stroke-width="1.7" stroke-linecap="round"/>
<line x1="379.40" y1="445.20" x2="373.85" y2="451.70" stroke="#d02828" stroke-width="1.7" stroke-linecap="round"/>
<line x1="373.85" y1="451.70" x2="368.30" y2="458.20" stroke="#2aa040" stroke-width="1.7" stroke-linecap="round"/>
<line x1="368.30" y1="458.20" x2="363.10" y2="465.50" stroke="#2aa040" stroke-width="1.7" stroke-linecap="round"/>
<line x1="363.10" y1="465.50" x2="357.90" y2="472.80" stroke="#d02828" stroke-width="1.7" stroke-linecap="round"/>
<line x1="368.30" y1="458.20" x2="373.85" y2="465.50" stroke="#2aa040" stroke-width="1.7" stroke-linecap="round"/>
<line x1="373.85" y1="465.50" x2="379.40" y2="472.80" stroke="#d02828" stroke-width="1.7" stroke-linecap="round"/>
<line x1="357.90" y1="472.80" x2="363.10" y2="480.10" stroke="#d02828" stroke-width="1.7" stroke-linecap="round"/>
<line x1="363.10" y1="480.10" x2="368.30" y2="487.40" stroke="#7c80a8" stroke-width="1.7" stroke-linecap="round"/>
<line x1="379.40" y1="472.80" x2="373.85" y2="480.10" stroke="#d02828" stroke-width="1.7" stroke-linecap="round"/>
<line x1="373.85" y1="480.10" x2="368.30" y2="487.40" stroke="#7c80a8" stroke-width="1.7" stroke-linecap="round"/>
<circle cx="278.30" cy="415.40" r="2.80" fill="url(#gSn)" stroke="none" stroke-width="1" />
<circle cx="278.30" cy="443.90" r="2.80" fill="url(#gSn)" stroke="none" stroke-width="1" />
<circle cx="278.30" cy="472.40" r="2.80" fill="url(#gSn)" stroke="none" stroke-width="1" />
<circle cx="308.10" cy="458.50" r="2.80" fill="url(#gSn)" stroke="none" stroke-width="1" />
<circle cx="338.80" cy="415.00" r="2.80" fill="url(#gSn)" stroke="none" stroke-width="1" />
<circle cx="338.80" cy="444.50" r="2.80" fill="url(#gSn)" stroke="none" stroke-width="1" />
<circle cx="338.80" cy="472.80" r="2.80" fill="url(#gSn)" stroke="none" stroke-width="1" />
<circle cx="368.30" cy="487.40" r="2.80" fill="url(#gSn)" stroke="none" stroke-width="1" />
<circle cx="368.30" cy="429.00" r="2.80" fill="url(#gSn)" stroke="none" stroke-width="1" />
<circle cx="308.10" cy="429.70" r="2.70" fill="url(#gGe)" stroke="none" stroke-width="1" />
<circle cx="308.10" cy="487.00" r="2.70" fill="url(#gGe)" stroke="none" stroke-width="1" />
<circle cx="297.60" cy="416.90" r="2.25" fill="url(#gO)" stroke="none" stroke-width="1" />
<circle cx="275.70" cy="429.70" r="2.25" fill="url(#gO)" stroke="none" stroke-width="1" />
<circle cx="297.60" cy="442.40" r="2.25" fill="url(#gO)" stroke="none" stroke-width="1" />
<circle cx="319.20" cy="442.40" r="2.25" fill="url(#gO)" stroke="none" stroke-width="1" />
<circle cx="279.70" cy="458.50" r="2.25" fill="url(#gO)" stroke="none" stroke-width="1" />
<circle cx="297.60" cy="473.80" r="2.25" fill="url(#gO)" stroke="none" stroke-width="1" />
<circle cx="319.20" cy="473.80" r="2.25" fill="url(#gO)" stroke="none" stroke-width="1" />
<circle cx="275.70" cy="487.00" r="2.25" fill="url(#gO)" stroke="none" stroke-width="1" />
<circle cx="319.20" cy="416.90" r="2.25" fill="url(#gO)" stroke="none" stroke-width="1" />
<circle cx="357.90" cy="414.60" r="2.25" fill="url(#gO)" stroke="none" stroke-width="1" />
<circle cx="379.40" cy="414.10" r="2.25" fill="url(#gO)" stroke="none" stroke-width="1" />
<circle cx="340.80" cy="429.90" r="2.25" fill="url(#gO)" stroke="none" stroke-width="1" />
<circle cx="357.90" cy="445.20" r="2.25" fill="url(#gO)" stroke="none" stroke-width="1" />
<circle cx="379.40" cy="445.20" r="2.25" fill="url(#gO)" stroke="none" stroke-width="1" />
<circle cx="340.60" cy="458.20" r="2.25" fill="url(#gO)" stroke="none" stroke-width="1" />
<circle cx="357.90" cy="472.80" r="2.25" fill="url(#gO)" stroke="none" stroke-width="1" />
<circle cx="379.40" cy="472.80" r="2.25" fill="url(#gO)" stroke="none" stroke-width="1" />
<circle cx="340.60" cy="487.40" r="2.25" fill="url(#gO)" stroke="none" stroke-width="1" />
<path d="M278.2,452.2 Q273.6,458.5 278.2,465.0" stroke="#111" stroke-width="1.1" fill="none" />
<text x="254.80" y="463.20" font-size="8.6" fill="#222" >162°</text>
<text x="331.60" y="419.20" font-size="11.2" font-weight="bold" fill="#111" >Sn</text>
<text x="360.00" y="432.80" font-size="11.2" font-weight="bold" fill="#111" >Sn</text>
<text x="359.80" y="462.20" font-size="11.2" font-weight="bold" fill="#111" >Ge</text>
<text x="346.00" y="405.00" font-size="8.9" text-anchor="middle" fill="#222" >2.27e</text>
<text x="388.20" y="430.70" font-size="8.8" fill="#222" >2.19e</text>
<text x="388.20" y="461.20" font-size="8.8" fill="#222" >2.19e</text>
<rect x="417.20" y="406.10" width="5.70" height="82.60" fill="url(#cbar)" stroke="none" stroke-width="1" />
<text x="427.90" y="409.60" font-size="8.7" fill="#222" >1.0e</text>
<text x="427.90" y="451.30" font-size="8.7" fill="#222" >0.5e</text>
<text x="427.90" y="492.40" font-size="8.7" fill="#222" >0.0e</text>
<line x1="422.90" y1="406.30" x2="425.40" y2="406.30" stroke="#444" stroke-width="0.7" />
<line x1="422.90" y1="414.52" x2="424.60" y2="414.52" stroke="#444" stroke-width="0.7" />
<line x1="422.90" y1="422.74" x2="424.60" y2="422.74" stroke="#444" stroke-width="0.7" />
<line x1="422.90" y1="430.96" x2="424.60" y2="430.96" stroke="#444" stroke-width="0.7" />
<line x1="422.90" y1="439.18" x2="424.60" y2="439.18" stroke="#444" stroke-width="0.7" />
<line x1="422.90" y1="447.40" x2="425.40" y2="447.40" stroke="#444" stroke-width="0.7" />
<line x1="422.90" y1="455.62" x2="424.60" y2="455.62" stroke="#444" stroke-width="0.7" />
<line x1="422.90" y1="463.84" x2="424.60" y2="463.84" stroke="#444" stroke-width="0.7" />
<line x1="422.90" y1="472.06" x2="424.60" y2="472.06" stroke="#444" stroke-width="0.7" />
<line x1="422.90" y1="480.28" x2="424.60" y2="480.28" stroke="#444" stroke-width="0.7" />
<line x1="422.90" y1="488.50" x2="425.40" y2="488.50" stroke="#444" stroke-width="0.7" />
<text x="482.80" y="407.00" font-size="15" font-weight="bold" fill="#2b1a17" >l</text>
<defs><radialGradient id="glow" cx="0.5" cy="0.5" r="0.5"><stop offset="0" stop-color="#f0a218"/><stop offset="0.3" stop-color="#f3b036"/><stop offset="0.62" stop-color="#f8d379"/><stop offset="0.85" stop-color="#fcebc0"/><stop offset="1" stop-color="#fff" stop-opacity="0"/></radialGradient><linearGradient id="base" x1="0" y1="0" x2="0" y2="1"><stop offset="0" stop-color="#8cc45a"/><stop offset="1" stop-color="#d8ecc4" stop-opacity="0.3"/></linearGradient><marker id="oarrow" markerWidth="8" markerHeight="7" refX="5" refY="3.5" orient="auto" markerUnits="userSpaceOnUse"><path d="M0,0 L8,3.5 L0,7 L1.6,3.5 z" fill="#e8914a"/></marker><marker id="oarrow2" markerWidth="8" markerHeight="7" refX="5" refY="3.5" orient="auto-start-reverse" markerUnits="userSpaceOnUse"><path d="M0,0 L8,3.5 L0,7 L1.6,3.5 z" fill="#e8914a"/></marker><marker id="garrow" markerWidth="5" markerHeight="5" refX="3.5" refY="2.5" orient="auto" markerUnits="userSpaceOnUse"><path d="M0,0 L5,2.5 L0,5 L1,2.5 z" fill="#555"/></marker></defs>
<circle cx="571.50" cy="507.50" r="61.00" fill="url(#glow)" stroke="none" stroke-width="1" />
<text x="573.20" y="497.00" font-size="12.3" font-weight="bold" text-anchor="middle" fill="#e2aa28" stroke="#fffbea" stroke-width="1.9" paint-order="stroke">lattice-oxygen</text>
<text x="573.20" y="518.80" font-size="12.3" font-weight="bold" text-anchor="middle" fill="#e2aa28" stroke="#fffbea" stroke-width="1.9" paint-order="stroke">participation</text>
<text x="575.00" y="539.60" font-size="12.3" font-weight="bold" text-anchor="middle" fill="#e2aa28" stroke="#fffbea" stroke-width="1.9" paint-order="stroke">mechanism</text>
<path d="M524.6,447.2 A80,80 0 0 1 622.5,445.5" stroke="#e8914a" stroke-width="2.0" fill="none" marker-end="url(#oarrow)"/>
<path d="M647.8,477.0 A80,80 0 0 1 651.5,538.0" stroke="#e8914a" stroke-width="2.0" fill="none" marker-end="url(#oarrow)" marker-start="url(#oarrow2)"/>
<path d="M625.0,573.9 A80,80 0 0 1 523.0,571.5" stroke="#e8914a" stroke-width="2.0" fill="none" marker-end="url(#oarrow)"/>
<path d="M501.2,541.2 A80,80 0 0 1 499.5,482.0" stroke="#e8914a" stroke-width="2.0" fill="none" marker-end="url(#oarrow)"/>
<path d="M548.4,418.3 Q572,437 594.5,418.8" stroke="#5a5a5a" stroke-width="1.0" fill="none" marker-end="url(#garrow)"/>
<path d="M597.0,601.0 Q575,584 551.5,600.5" stroke="#5a5a5a" stroke-width="1.0" fill="none" marker-end="url(#garrow)"/>
<path d="M481.9,537.7 Q499,513 483.5,491.5" stroke="#5a5a5a" stroke-width="1.0" fill="none" marker-end="url(#garrow)"/>
<rect x="492.50" y="466.50" width="40.90" height="8.80" fill="url(#base)" stroke="none" stroke-width="1" />
<rect x="616.20" y="457.10" width="41.90" height="9.20" fill="url(#base)" stroke="none" stroke-width="1" />
<rect x="487.20" y="555.20" width="42.90" height="10.50" fill="url(#base)" stroke="none" stroke-width="1" />
<rect x="617.00" y="557.00" width="42.30" height="11.00" fill="url(#base)" stroke="none" stroke-width="1" />
<text x="494.10" y="468.10" font-size="11.6" font-weight="bold" fill="#111" stroke="#fff" stroke-width="1.6" paint-order="stroke" letter-spacing="0.35">O-M-O</text>
<text x="617.80" y="459.60" font-size="11.6" font-weight="bold" fill="#111" stroke="#fff" stroke-width="1.6" paint-order="stroke" letter-spacing="0.35">O-M-O</text>
<text x="489.80" y="557.80" font-size="11.6" font-weight="bold" fill="#111" stroke="#fff" stroke-width="1.6" paint-order="stroke" letter-spacing="0.35">O-M-</text>
<text x="619.00" y="559.80" font-size="11.6" font-weight="bold" fill="#111" stroke="#fff" stroke-width="1.6" paint-order="stroke" letter-spacing="0.35">O-M-</text>
<rect x="518.60" y="549.90" width="8.20" height="7.90" fill="#fff" stroke="#fff" stroke-width="2.2" />
<rect x="519.10" y="550.40" width="7.30" height="7.10" fill="none" stroke="#111" stroke-width="1.1" />
<rect x="648.00" y="551.90" width="8.20" height="7.90" fill="#fff" stroke="#fff" stroke-width="2.2" />
<rect x="648.50" y="552.40" width="7.30" height="7.10" fill="none" stroke="#111" stroke-width="1.1" />
<text x="513.40" y="452.20" font-size="11.3" text-anchor="middle" fill="#c8202e" >O</text>
<line x1="513.40" y1="453.80" x2="513.40" y2="457.80" stroke="#c8202e" stroke-width="1.0" />
<text x="638.50" y="544.20" font-size="11.3" text-anchor="middle" fill="#c8202e" >O</text>
<line x1="638.50" y1="546.40" x2="638.50" y2="550.00" stroke="#c8202e" stroke-width="1.0" />
<text x="535.80" y="418.60" font-size="8.4" font-weight="bold" fill="#222" >H<tspan font-size="5" dy="1.6">2</tspan><tspan dy="-1.6"></tspan></text>
<text x="601.00" y="418.80" font-size="8.4" font-weight="bold" fill="#222" >H<tspan font-size="5" dy="1.6">2</tspan><tspan dy="-1.6">O</tspan></text>
<text x="570.40" y="419.00" font-size="8.6" font-weight="bold" text-anchor="middle" fill="#222" >(1)</text>
<text x="675.70" y="509.70" font-size="8.6" font-weight="bold" text-anchor="middle" fill="#222" >(2)</text>
<text x="572.50" y="605.00" font-size="8.6" font-weight="bold" text-anchor="middle" fill="#222" >(3)</text>
<text x="478.90" y="516.60" font-size="8.6" font-weight="bold" text-anchor="middle" fill="#222" >(4)</text>
<text x="531.80" y="606.20" font-size="8.4" font-weight="bold" fill="#222" >H<tspan font-size="5" dy="1.6">2</tspan><tspan dy="-1.6">O</tspan></text>
<text x="600.40" y="605.40" font-size="8.4" font-weight="bold" fill="#222" >H<tspan font-size="5" dy="1.6">2</tspan><tspan dy="-1.6"></tspan></text>
<text x="472.30" y="544.40" font-size="8.4" font-weight="bold" fill="#222" >O<tspan font-size="5" dy="1.6">2</tspan><tspan dy="-1.6"></tspan></text>
<text transform="translate(658.60,492.70) rotate(90)" font-size="8.8" font-weight="bold" fill="#2f5cb0" >Heating</text>
<text x="3.00" y="519.70" font-size="15" font-weight="bold" fill="#2b1a17" >h</text>
<defs><pattern id="hG" patternUnits="userSpaceOnUse" width="1.8" height="1.8" patternTransform="rotate(45)"><rect width="1.8" height="1.8" fill="#a8d8ae"/><rect width="0.9" height="1.8" fill="#3a9a4a"/></pattern><pattern id="hB" patternUnits="userSpaceOnUse" width="1.8" height="1.8" patternTransform="rotate(45)"><rect width="1.8" height="1.8" fill="#d0dcf4"/><rect width="0.9" height="1.8" fill="#7092d4"/></pattern></defs>
<rect x="57.00" y="578.55" width="14.70" height="50.65" fill="url(#hG)" stroke="#3a9a4a" stroke-width="0.8" />
<rect x="80.20" y="537.27" width="14.30" height="91.93" fill="url(#hB)" stroke="#7092d4" stroke-width="0.8" />
<rect x="50.00" y="602.00" width="52.00" height="1.90" fill="#fff" stroke="none" stroke-width="1" />
<rect x="48.10" y="512.30" width="55.70" height="116.90" fill="none" stroke="#222" stroke-width="1.1" />
<line x1="45.70" y1="602.80" x2="48.10" y2="602.80" stroke="#222" stroke-width="1" />
<text x="40.90" y="605.70" font-size="8.3" font-weight="bold" text-anchor="end" fill="#222" >2.0</text>
<line x1="45.70" y1="577.00" x2="48.10" y2="577.00" stroke="#222" stroke-width="1" />
<text x="40.90" y="579.90" font-size="8.3" font-weight="bold" text-anchor="end" fill="#222" >2.5</text>
<line x1="45.70" y1="551.20" x2="48.10" y2="551.20" stroke="#222" stroke-width="1" />
<text x="40.90" y="554.10" font-size="8.3" font-weight="bold" text-anchor="end" fill="#222" >3.0</text>
<line x1="45.70" y1="525.40" x2="48.10" y2="525.40" stroke="#222" stroke-width="1" />
<text x="40.90" y="528.30" font-size="8.3" font-weight="bold" text-anchor="end" fill="#222" >3.5</text>
<line x1="46.70" y1="589.90" x2="48.10" y2="589.90" stroke="#222" stroke-width="1" />
<line x1="46.70" y1="564.10" x2="48.10" y2="564.10" stroke="#222" stroke-width="1" />
<line x1="46.70" y1="538.30" x2="48.10" y2="538.30" stroke="#222" stroke-width="1" />
<line x1="46.70" y1="512.50" x2="48.10" y2="512.50" stroke="#222" stroke-width="1" />
<line x1="45.70" y1="628.50" x2="48.10" y2="628.50" stroke="#222" stroke-width="1" />
<line x1="46.70" y1="615.60" x2="48.10" y2="615.60" stroke="#222" stroke-width="1" />
<text x="40.90" y="631.40" font-size="8.3" font-weight="bold" text-anchor="end" fill="#222" >0.0</text>
<rect x="46.10" y="601.60" width="4.00" height="2.60" fill="#fff" stroke="none" stroke-width="1" />
<line x1="45.90" y1="602.60" x2="50.30" y2="600.60" stroke="#222" stroke-width="0.8" />
<line x1="45.90" y1="604.60" x2="50.30" y2="602.60" stroke="#222" stroke-width="0.8" />
<rect x="101.80" y="601.60" width="4.00" height="2.60" fill="#fff" stroke="none" stroke-width="1" />
<line x1="101.60" y1="602.60" x2="106.00" y2="600.60" stroke="#222" stroke-width="0.8" />
<line x1="101.60" y1="604.60" x2="106.00" y2="602.60" stroke="#222" stroke-width="0.8" />
<text x="62.70" y="638.40" font-size="8.0" font-weight="bold" text-anchor="middle" fill="#222" >SGO</text>
<text x="87.20" y="638.40" font-size="8.0" font-weight="bold" text-anchor="middle" fill="#222" >SO</text>
<text transform="translate(19.40,609.30) rotate(-90)" font-size="8.8" font-weight="bold" fill="#222" >Energy <tspan font-size="6.0" dy="1.3">O escape</tspan><tspan dy="-1.3"> (eV)</tspan></text>
<text x="112.60" y="519.30" font-size="15" font-weight="bold" fill="#2b1a17" >i</text>
<line x1="145.00" y1="619.20" x2="147.40" y2="619.20" stroke="#222" stroke-width="1" />
<text x="142.60" y="622.10" font-size="8.3" font-weight="bold" text-anchor="end" fill="#222" >−20</text>
<line x1="145.00" y1="599.75" x2="147.40" y2="599.75" stroke="#222" stroke-width="1" />
<text x="142.60" y="602.65" font-size="8.3" font-weight="bold" text-anchor="end" fill="#222" >−15</text>
<line x1="145.00" y1="580.30" x2="147.40" y2="580.30" stroke="#222" stroke-width="1" />
<text x="142.60" y="583.20" font-size="8.3" font-weight="bold" text-anchor="end" fill="#222" >−10</text>
<line x1="145.00" y1="560.85" x2="147.40" y2="560.85" stroke="#222" stroke-width="1" />
<text x="142.60" y="563.75" font-size="8.3" font-weight="bold" text-anchor="end" fill="#222" >−5</text>
<line x1="145.00" y1="541.40" x2="147.40" y2="541.40" stroke="#222" stroke-width="1" />
<text x="142.60" y="544.30" font-size="8.3" font-weight="bold" text-anchor="end" fill="#222" >0</text>
<line x1="145.00" y1="521.95" x2="147.40" y2="521.95" stroke="#222" stroke-width="1" />
<text x="142.60" y="524.85" font-size="8.3" font-weight="bold" text-anchor="end" fill="#222" >5</text>
<line x1="146.00" y1="609.48" x2="147.40" y2="609.48" stroke="#222" stroke-width="1" />
<line x1="146.00" y1="590.02" x2="147.40" y2="590.02" stroke="#222" stroke-width="1" />
<line x1="146.00" y1="570.57" x2="147.40" y2="570.57" stroke="#222" stroke-width="1" />
<line x1="146.00" y1="551.12" x2="147.40" y2="551.12" stroke="#222" stroke-width="1" />
<line x1="146.00" y1="531.67" x2="147.40" y2="531.67" stroke="#222" stroke-width="1" />
<line x1="146.00" y1="512.23" x2="147.40" y2="512.23" stroke="#222" stroke-width="1" />
<clipPath id="dci"><rect x="147.4" y="512.0" width="74.19999999999999" height="117.20000000000005"/></clipPath><g clip-path="url(#dci)" fill="none" stroke-linejoin="round">
<path d="M148.2,511.1 L148.2,511.6 L148.4,512.1 L148.1,512.6 L148.2,513.1 L148.4,513.6 L148.4,514.1 L148.5,514.6 L148.3,515.1 L148.3,515.6 L148.6,516.1 L148.6,516.6 L148.8,517.1 L149.3,517.6 L149.8,518.1 L150.7,518.6 L151.1,519.1 L152.4,519.7 L158.4,520.2 L153.2,520.7 L159.3,521.2 L157.7,521.7 L157.0,522.2 L155.4,522.7 L156.0,523.2 L155.3,523.7 L154.8,524.2 L155.0,524.7 L153.5,525.2 L153.8,525.7 L153.7,526.2 L154.7,526.7 L154.3,527.2 L154.8,527.7 L151.2,528.3 L152.7,528.8 L150.3,529.3 L151.3,529.8 L149.8,530.3 L148.9,530.8 L148.7,531.3 L148.4,531.8 L148.4,532.3 L148.6,532.8 L148.6,533.3 L150.5,533.8 L150.2,534.3 L152.9,534.8 L157.5,535.3 L155.0,535.8 L154.1,536.3 L151.4,536.8 L150.2,537.4 L148.7,537.9 L148.3,538.4 L148.4,538.9 L148.4,539.4 L148.2,539.9 L148.1,540.4 L148.4,540.9 L148.3,541.4 L148.4,541.9 L148.4,542.4 L148.3,542.9 L148.4,543.4 L148.3,543.9 L148.4,544.4 L148.4,544.9 L148.4,545.4 L148.4,546.0 L148.8,546.5 L148.5,547.0 L148.5,547.5 L148.7,548.0 L148.5,548.5 L149.1,549.0 L148.7,549.5 L149.1,550.0 L149.7,550.5 L148.9,551.0 L149.5,551.5 L149.4,552.0 L149.4,552.5 L149.9,553.0 L149.2,553.5 L150.2,554.0 L150.4,554.5 L149.5,555.1 L150.8,555.6 L150.1,556.1 L150.4,556.6 L152.9,557.1 L149.7,557.6 L151.8,558.1 L150.9,558.6 L152.2,559.1 L151.9,559.6 L151.7,560.1 L150.8,560.6 L151.7,561.1 L151.8,561.6 L154.1,562.1 L153.0,562.6 L153.2,563.1 L153.4,563.7 L150.8,564.2 L151.6,564.7 L153.8,565.2 L153.3,565.7 L154.7,566.2 L153.5,566.7 L155.3,567.2 L155.1,567.7 L156.8,568.2 L154.8,568.7 L160.5,569.2 L164.4,569.7 L158.8,570.2 L154.4,570.7 L155.8,571.2 L156.5,571.7 L162.0,572.2 L155.0,572.8 L154.9,573.3 L156.6,573.8 L151.8,574.3 L152.1,574.8 L151.5,575.3 L151.5,575.8 L150.1,576.3 L149.5,576.8 L150.1,577.3 L149.3,577.8 L149.0,578.3 L149.1,578.8 L148.9,579.3 L148.6,579.8 L148.5,580.3 L148.4,580.8 L148.4,581.4 L148.4,581.9 L147.9,582.4 L147.9,582.9 L147.9,583.4 L147.9,583.9 L147.9,584.4 L147.9,584.9 L147.9,585.4 L147.9,585.9 L147.9,586.4 L147.9,586.9 L147.9,587.4 L147.9,587.9 L147.9,588.4 L147.9,588.9 L147.9,589.4 L147.9,589.9 L147.9,590.5 L147.9,591.0 L147.9,591.5 L147.9,592.0 L147.9,592.5 L147.9,593.0 L148.0,593.5 L147.9,594.0 L147.9,594.5 L147.9,595.0 L148.1,595.5 L148.1,596.0 L148.4,596.5 L148.3,597.0 L148.4,597.5 L148.4,598.0 L148.3,598.5 L148.5,599.0 L148.4,599.6 L149.4,600.1 L148.7,600.6 L149.3,601.1 L148.9,601.6 L149.4,602.1 L149.3,602.6 L149.5,603.1 L150.3,603.6 L150.0,604.1 L150.0,604.6 L149.7,605.1 L151.0,605.6 L150.7,606.1 L151.2,606.6 L151.0,607.1 L151.7,607.6 L151.3,608.2 L151.9,608.7 L150.8,609.2 L151.7,609.7 L150.8,610.2 L152.8,610.7 L152.1,611.2 L152.4,611.7 L150.8,612.2 L150.1,612.7 L152.0,613.2 L150.8,613.7 L152.9,614.2 L151.9,614.7 L150.9,615.2 L151.2,615.7 L150.4,616.2 L150.5,616.7 L149.8,617.3 L150.4,617.8 L149.3,618.3 L149.7,618.8 L149.8,619.3 L148.9,619.8 L148.8,620.3 L149.0,620.8 L149.0,621.3 L148.8,621.8 L148.5,622.3 L148.4,622.8 L147.9,623.3 L147.9,623.8 L147.9,624.3 L147.9,624.8 L147.9,625.3 L147.9,625.9 L147.9,626.4 L147.9,626.9 L147.9,627.4 L147.9,627.9 L147.9,628.4 L147.9,628.9 L147.9,629.4 L147.9,629.9" stroke="#5a88d0" stroke-width="0.75" fill="none" />
<path d="M149.7,511.1 L152.3,511.6 L152.2,512.1 L150.5,512.6 L151.8,513.1 L153.8,513.6 L154.3,514.1 L155.7,514.6 L156.3,515.1 L156.6,515.6 L153.8,516.1 L155.7,516.6 L158.3,517.1 L155.0,517.6 L161.9,518.1 L160.0,518.6 L154.4,519.1 L154.2,519.7 L157.4,520.2 L155.7,520.7 L154.5,521.2 L154.1,521.7 L154.2,522.2 L152.8,522.7 L151.6,523.2 L151.2,523.7 L150.0,524.2 L150.1,524.7 L150.1,525.2 L149.9,525.7 L150.3,526.2 L151.0,526.7 L149.8,527.2 L149.0,527.7 L149.7,528.3 L149.1,528.8 L149.7,529.3 L149.7,529.8 L149.0,530.3 L149.0,530.8 L149.4,531.3 L149.1,531.8 L148.8,532.3 L149.8,532.8 L149.2,533.3 L149.4,533.8 L149.9,534.3 L149.1,534.8 L149.3,535.3 L150.2,535.8 L149.6,536.3 L149.3,536.8 L149.3,537.4 L149.9,537.9 L149.4,538.4 L149.3,538.9 L149.9,539.4 L148.9,539.9 L148.8,540.4 L148.6,540.9 L148.5,541.4 L149.2,541.9 L149.4,542.4 L148.9,542.9 L149.6,543.4 L150.0,543.9 L149.7,544.4 L151.0,544.9 L150.4,545.4 L151.8,546.0 L150.8,546.5 L151.7,547.0 L151.9,547.5 L152.5,548.0 L153.3,548.5 L153.1,549.0 L153.2,549.5 L156.0,550.0 L153.9,550.5 L155.1,551.0 L155.9,551.5 L154.1,552.0 L154.0,552.5 L154.6,553.0 L154.7,553.5 L157.3,554.0 L157.0,554.5 L161.0,555.1 L154.2,555.6 L157.3,556.1 L154.6,556.6 L160.5,557.1 L161.6,557.6 L154.8,558.1 L155.3,558.6 L159.5,559.1 L154.1,559.6 L155.5,560.1 L156.5,560.6 L155.1,561.1 L154.6,561.6 L156.4,562.1 L153.0,562.6 L157.3,563.1 L153.4,563.7 L153.6,564.2 L152.9,564.7 L153.9,565.2 L151.8,565.7 L152.5,566.2 L153.6,566.7 L150.5,567.2 L152.0,567.7 L150.4,568.2 L153.7,568.7 L150.8,569.2 L151.4,569.7 L150.1,570.2 L151.2,570.7 L150.7,571.2 L150.2,571.7 L149.8,572.2 L150.1,572.8 L149.5,573.3 L150.0,573.8 L149.5,574.3 L149.1,574.8 L148.8,575.3 L149.4,575.8 L148.7,576.3 L149.1,576.8 L149.0,577.3 L148.6,577.8 L148.6,578.3 L148.5,578.8 L148.2,579.3 L148.1,579.8 L147.9,580.3 L147.9,580.8 L147.9,581.4 L147.9,581.9 L147.9,582.4 L147.9,582.9 L147.9,583.4 L147.9,583.9 L147.9,584.4 L147.9,584.9 L147.9,585.4 L147.9,585.9 L147.9,586.4 L147.9,586.9 L147.9,587.4 L147.9,587.9 L147.9,588.4 L147.9,588.9 L147.9,589.4 L147.9,589.9 L147.9,590.5 L147.9,591.0 L147.9,591.5 L147.9,592.0 L147.9,592.5 L147.9,593.0 L147.9,593.5 L147.9,594.0 L147.9,594.5 L147.9,595.0 L147.9,595.5 L147.9,596.0 L147.9,596.5 L147.9,597.0 L148.0,597.5 L147.9,598.0 L148.0,598.5 L148.0,599.0 L147.9,599.6 L148.1,600.1 L148.2,600.6 L148.2,601.1 L148.5,601.6 L148.5,602.1 L149.7,602.6 L149.7,603.1 L149.9,603.6 L150.6,604.1 L150.3,604.6 L150.4,605.1 L149.9,605.6 L150.0,606.1 L151.3,606.6 L152.1,607.1 L152.2,607.6 L151.2,608.2 L152.9,608.7 L152.0,609.2 L152.0,609.7 L154.2,610.2 L154.6,610.7 L151.6,611.2 L152.5,611.7 L156.3,612.2 L154.7,612.7 L153.4,613.2 L154.7,613.7 L154.4,614.2 L152.6,614.7 L152.9,615.2 L154.1,615.7 L154.6,616.2 L153.9,616.7 L151.1,617.3 L151.8,617.8 L151.6,618.3 L152.1,618.8 L150.7,619.3 L151.1,619.8 L149.7,620.3 L149.6,620.8 L149.6,621.3 L149.4,621.8 L148.8,622.3 L148.9,622.8 L147.9,623.3 L147.9,623.8 L147.9,624.3 L147.9,624.8 L147.9,625.3 L147.9,625.9 L147.9,626.4 L147.9,626.9 L147.9,627.4 L147.9,627.9 L147.9,628.4 L147.9,628.9 L147.9,629.4 L147.9,629.9" stroke="#3a9a4a" stroke-width="0.75" fill="none" />
<path d="M185.4,511.1 L185.3,511.6 L185.4,512.1 L185.4,512.6 L185.2,513.1 L185.4,513.6 L185.4,514.1 L185.4,514.6 L185.2,515.1 L185.5,515.6 L185.3,516.1 L185.5,516.6 L185.4,517.1 L185.5,517.6 L185.2,518.1 L185.5,518.6 L185.3,519.1 L185.3,519.7 L185.3,520.2 L185.2,520.7 L185.3,521.2 L185.5,521.7 L185.5,522.2 L185.2,522.7 L185.4,523.2 L185.3,523.7 L185.7,524.2 L185.4,524.7 L185.3,525.2 L185.5,525.7 L185.2,526.2 L185.2,526.7 L185.4,527.2 L185.3,527.7 L185.5,528.3 L185.3,528.8 L185.2,529.3 L185.7,529.8 L185.2,530.3 L185.2,530.8 L185.4,531.3 L185.4,531.8 L185.2,532.3 L185.7,532.8 L185.3,533.3 L185.3,533.8 L185.2,534.3 L185.7,534.8 L185.7,535.3 L185.5,535.8 L185.6,536.3 L185.2,536.8 L185.2,537.4 L185.4,537.9 L185.2,538.4 L185.3,538.9 L185.2,539.4 L185.5,539.9 L185.3,540.4 L185.2,540.9 L185.7,541.4 L185.2,541.9 L185.5,542.4 L185.3,542.9 L185.5,543.4 L185.4,543.9 L185.2,544.4 L185.4,544.9 L185.4,545.4 L185.3,546.0 L185.3,546.5 L185.2,547.0 L185.5,547.5 L185.2,548.0 L185.6,548.5 L185.3,549.0 L185.2,549.5 L185.3,550.0 L185.3,550.5 L185.5,551.0 L185.5,551.5 L185.3,552.0 L185.2,552.5 L185.5,553.0 L185.4,553.5 L185.3,554.0 L185.3,554.5 L185.4,555.1 L185.5,555.6 L185.4,556.1 L185.5,556.6 L185.2,557.1 L185.4,557.6 L185.4,558.1 L185.5,558.6 L185.3,559.1 L185.5,559.6 L185.3,560.1 L185.5,560.6 L185.3,561.1 L185.6,561.6 L185.5,562.1 L185.5,562.6 L185.2,563.1 L185.5,563.7 L185.5,564.2 L185.3,564.7 L185.3,565.2 L185.3,565.7 L185.5,566.2 L185.2,566.7 L185.3,567.2 L185.3,567.7 L185.3,568.2 L185.2,568.7 L185.5,569.2 L185.4,569.7 L185.4,570.2 L185.3,570.7 L185.2,571.2 L185.3,571.7 L185.5,572.2 L185.2,572.8 L185.5,573.3 L185.2,573.8 L185.2,574.3 L185.2,574.8 L185.3,575.3 L185.3,575.8 L185.4,576.3 L185.2,576.8 L185.6,577.3 L185.3,577.8 L185.7,578.3 L185.2,578.8 L185.3,579.3 L185.4,579.8 L185.3,580.3 L185.5,580.8 L185.4,581.4 L185.6,581.9 L185.5,582.4 L185.5,582.9 L185.2,583.4 L185.5,583.9 L185.3,584.4 L185.4,584.9 L185.2,585.4 L185.7,585.9 L185.3,586.4 L185.3,586.9 L185.5,587.4 L185.4,587.9 L185.2,588.4 L185.3,588.9 L185.5,589.4 L185.4,589.9 L185.2,590.5 L185.3,591.0 L185.3,591.5 L185.3,592.0 L185.5,592.5 L185.2,593.0 L185.4,593.5 L185.3,594.0 L185.4,594.5 L185.2,595.0 L185.3,595.5 L185.3,596.0 L185.2,596.5 L185.5,597.0 L185.4,597.5 L185.3,598.0 L185.4,598.5 L185.2,599.0 L185.5,599.6 L185.4,600.1 L185.5,600.6 L185.2,601.1 L185.5,601.6 L189.2,602.1 L187.4,602.6 L187.8,603.1 L189.9,603.6 L188.6,604.1 L188.7,604.6 L190.1,605.1 L189.3,605.6 L190.8,606.1 L188.4,606.6 L190.6,607.1 L192.6,607.6 L191.5,608.2 L193.5,608.7 L193.2,609.2 L193.7,609.7 L192.1,610.2 L193.9,610.7 L195.1,611.2 L196.2,611.7 L194.6,612.2 L199.8,612.7 L193.6,613.2 L193.6,613.7 L193.6,614.2 L193.7,614.7 L196.5,615.2 L190.6,615.7 L195.2,616.2 L192.3,616.7 L189.5,617.3 L190.4,617.8 L189.1,618.3 L190.3,618.8 L184.9,619.3 L184.9,619.8 L184.9,620.3 L184.9,620.8 L184.9,621.3 L184.9,621.8 L184.9,622.3 L184.9,622.8 L184.9,623.3 L184.9,623.8 L184.9,624.3 L184.9,624.8 L184.9,625.3 L184.9,625.9 L184.9,626.4 L184.9,626.9 L184.9,627.4 L184.9,627.9 L184.9,628.4 L184.9,628.9 L184.9,629.4 L184.9,629.9" stroke="#5a88d0" stroke-width="0.75" fill="none" />
<path d="M185.5,511.1 L185.6,511.6 L185.5,512.1 L185.5,512.6 L185.4,513.1 L185.5,513.6 L185.4,514.1 L185.6,514.6 L185.6,515.1 L185.7,515.6 L185.6,516.1 L185.3,516.6 L185.7,517.1 L185.6,517.6 L185.8,518.1 L185.6,518.6 L185.4,519.1 L185.8,519.7 L185.7,520.2 L185.8,520.7 L185.7,521.2 L185.5,521.7 L185.8,522.2 L186.3,522.7 L185.8,523.2 L185.6,523.7 L186.8,524.2 L185.7,524.7 L186.1,525.2 L185.9,525.7 L186.3,526.2 L186.4,526.7 L186.3,527.2 L186.6,527.7 L186.5,528.3 L187.3,528.8 L186.5,529.3 L186.9,529.8 L187.2,530.3 L186.2,530.8 L186.5,531.3 L186.6,531.8 L187.1,532.3 L187.3,532.8 L186.8,533.3 L186.2,533.8 L187.4,534.3 L187.3,534.8 L186.8,535.3 L186.1,535.8 L186.1,536.3 L187.8,536.8 L186.4,537.4 L186.0,537.9 L186.6,538.4 L186.6,538.9 L186.3,539.4 L186.9,539.9 L186.1,540.4 L188.6,540.9 L190.6,541.4 L194.3,541.9 L199.2,542.4 L197.6,542.9 L192.3,543.4 L197.4,543.9 L198.3,544.4 L194.5,544.9 L199.5,545.4 L197.1,546.0 L200.9,546.5 L197.5,547.0 L198.0,547.5 L196.2,548.0 L191.7,548.5 L196.3,549.0 L193.6,549.5 L192.2,550.0 L194.0,550.5 L192.1,551.0 L193.2,551.5 L190.4,552.0 L192.1,552.5 L191.6,553.0 L189.7,553.5 L190.0,554.0 L191.3,554.5 L192.4,555.1 L191.5,555.6 L189.7,556.1 L189.1,556.6 L188.7,557.1 L189.8,557.6 L191.7,558.1 L189.7,558.6 L188.3,559.1 L188.3,559.6 L188.0,560.1 L188.6,560.6 L187.2,561.1 L188.4,561.6 L189.9,562.1 L188.1,562.6 L186.7,563.1 L188.2,563.7 L187.9,564.2 L187.8,564.7 L186.6,565.2 L186.9,565.7 L186.9,566.2 L187.2,566.7 L187.6,567.2 L186.7,567.7 L187.0,568.2 L187.3,568.7 L186.3,569.2 L186.2,569.7 L186.3,570.2 L186.1,570.7 L186.5,571.2 L186.3,571.7 L186.6,572.2 L186.4,572.8 L185.7,573.3 L186.1,573.8 L186.4,574.3 L186.2,574.8 L185.6,575.3 L185.5,575.8 L185.6,576.3 L185.9,576.8 L185.8,577.3 L185.9,577.8 L185.7,578.3 L184.9,578.8 L184.9,579.3 L184.9,579.8 L184.9,580.3 L184.9,580.8 L184.9,581.4 L184.9,581.9 L184.9,582.4 L184.9,582.9 L184.9,583.4 L184.9,583.9 L184.9,584.4 L184.9,584.9 L184.9,585.4 L184.9,585.9 L184.9,586.4 L184.9,586.9 L184.9,587.4 L184.9,587.9 L184.9,588.4 L184.9,588.9 L184.9,589.4 L184.9,589.9 L184.9,590.5 L184.9,591.0 L184.9,591.5 L184.9,592.0 L184.9,592.5 L184.9,593.0 L184.9,593.5 L184.9,594.0 L184.9,594.5 L184.9,595.0 L184.9,595.5 L184.9,596.0 L184.9,596.5 L184.9,597.0 L184.9,597.5 L184.9,598.0 L184.9,598.5 L184.9,599.0 L184.9,599.6 L184.9,600.1 L184.9,600.6 L184.9,601.1 L184.9,601.6 L184.9,602.1 L184.9,602.6 L184.9,603.1 L184.9,603.6 L184.9,604.1 L184.9,604.6 L184.9,605.1 L184.9,605.6 L184.9,606.1 L184.9,606.6 L184.9,607.1 L184.9,607.6 L184.9,608.2 L184.9,608.7 L184.9,609.2 L184.9,609.7 L184.9,610.2 L184.9,610.7 L184.9,611.2 L184.9,611.7 L184.9,612.2 L184.9,612.7 L184.9,613.2 L184.9,613.7 L184.9,614.2 L184.9,614.7 L184.9,615.2 L184.9,615.7 L184.9,616.2 L184.9,616.7 L184.9,617.3 L184.9,617.8 L184.9,618.3 L184.9,618.8 L184.9,619.3 L184.9,619.8 L184.9,620.3 L184.9,620.8 L184.9,621.3 L184.9,621.8 L184.9,622.3 L184.9,622.8 L184.9,623.3 L184.9,623.8 L184.9,624.3 L184.9,624.8 L184.9,625.3 L184.9,625.9 L184.9,626.4 L184.9,626.9 L184.9,627.4 L184.9,627.9 L184.9,628.4 L184.9,628.9 L184.9,629.4 L184.9,629.9" stroke="#3a9a4a" stroke-width="0.75" fill="none" />
</g>
<rect x="147.40" y="512.00" width="74.20" height="117.20" fill="none" stroke="#222" stroke-width="1.1" />
<line x1="184.40" y1="512.00" x2="184.40" y2="629.20" stroke="#222" stroke-width="1.0" />
<line x1="147.40" y1="541.40" x2="223.10" y2="541.40" stroke="#555" stroke-width="0.9" stroke-dasharray="4 2.6"/>
<text x="162.40" y="560.00" font-size="8.6" fill="#3a9a4a" >Sn <tspan font-style="italic">5p</tspan></text>
<text x="162.40" y="573.10" font-size="8.6" fill="#5a88d0" >Sn <tspan font-style="italic">5s</tspan></text>
<text x="197.00" y="559.20" font-size="8.6" fill="#3a9a4a" >O <tspan font-style="italic">2p</tspan></text>
<text x="197.00" y="612.90" font-size="8.6" fill="#5a88d0" >O <tspan font-style="italic">2s</tspan></text>
<text x="186.60" y="577.00" font-size="5.8" font-weight="bold" fill="#3a9a4a" >band center</text>
<text x="186.60" y="584.40" font-size="5.8" font-weight="bold" fill="#3a9a4a" font-style="italic">-2.23 eV</text>
<text x="219.40" y="627.00" font-size="7.6" font-weight="bold" text-anchor="end" fill="#222" >SGO</text>
<text transform="translate(119.30,571.00) rotate(-90)" font-size="9.2" font-weight="bold" text-anchor="middle" fill="#222" >Energy (eV)</text>
<text x="223.00" y="544.50" font-size="8.6" fill="#222" >E<tspan font-size="5.6" dy="2" font-style="italic">F</tspan></text>
<text x="248.00" y="518.50" font-size="15" font-weight="bold" fill="#2b1a17" >j</text>
<line x1="281.20" y1="618.90" x2="283.60" y2="618.90" stroke="#222" stroke-width="1" />
<text x="278.20" y="621.80" font-size="8.3" font-weight="bold" text-anchor="end" fill="#222" >−20</text>
<line x1="281.20" y1="599.55" x2="283.60" y2="599.55" stroke="#222" stroke-width="1" />
<text x="278.20" y="602.45" font-size="8.3" font-weight="bold" text-anchor="end" fill="#222" >−15</text>
<line x1="281.20" y1="580.20" x2="283.60" y2="580.20" stroke="#222" stroke-width="1" />
<text x="278.20" y="583.10" font-size="8.3" font-weight="bold" text-anchor="end" fill="#222" >−10</text>
<line x1="281.20" y1="560.85" x2="283.60" y2="560.85" stroke="#222" stroke-width="1" />
<text x="278.20" y="563.75" font-size="8.3" font-weight="bold" text-anchor="end" fill="#222" >−5</text>
<line x1="281.20" y1="541.50" x2="283.60" y2="541.50" stroke="#222" stroke-width="1" />
<text x="278.20" y="544.40" font-size="8.3" font-weight="bold" text-anchor="end" fill="#222" >0</text>
<line x1="281.20" y1="522.15" x2="283.60" y2="522.15" stroke="#222" stroke-width="1" />
<text x="278.20" y="525.05" font-size="8.3" font-weight="bold" text-anchor="end" fill="#222" >5</text>
<line x1="282.20" y1="609.23" x2="283.60" y2="609.23" stroke="#222" stroke-width="1" />
<line x1="282.20" y1="589.88" x2="283.60" y2="589.88" stroke="#222" stroke-width="1" />
<line x1="282.20" y1="570.52" x2="283.60" y2="570.52" stroke="#222" stroke-width="1" />
<line x1="282.20" y1="551.17" x2="283.60" y2="551.17" stroke="#222" stroke-width="1" />
<line x1="282.20" y1="531.83" x2="283.60" y2="531.83" stroke="#222" stroke-width="1" />
<clipPath id="dcj"><rect x="283.6" y="512.5" width="74.59999999999997" height="116.70000000000005"/></clipPath><g clip-path="url(#dcj)" fill="none" stroke-linejoin="round">
<path d="M284.5,511.3 L284.6,511.8 L284.5,512.3 L284.3,512.8 L284.3,513.3 L284.4,513.8 L284.5,514.3 L284.4,514.8 L284.6,515.3 L284.6,515.8 L285.1,516.3 L284.9,516.8 L284.9,517.4 L284.9,517.9 L285.0,518.4 L285.7,518.9 L286.5,519.4 L285.5,519.9 L286.9,520.4 L286.6,520.9 L287.3,521.4 L288.7,521.9 L287.4,522.4 L288.6,522.9 L289.5,523.4 L292.8,523.9 L288.5,524.4 L287.5,524.9 L286.9,525.4 L289.0,525.9 L288.8,526.4 L287.9,526.9 L287.2,527.4 L287.4,527.9 L286.5,528.4 L285.7,528.9 L286.9,529.4 L287.5,529.9 L287.1,530.4 L286.6,530.9 L288.7,531.4 L287.7,531.9 L288.4,532.4 L290.1,532.9 L288.8,533.5 L291.3,534.0 L292.3,534.5 L289.2,535.0 L288.9,535.5 L292.3,536.0 L286.9,536.5 L286.4,537.0 L286.4,537.5 L285.1,538.0 L285.2,538.5 L285.3,539.0 L284.8,539.5 L284.9,540.0 L284.7,540.5 L284.6,541.0 L284.5,541.5 L284.4,542.0 L284.5,542.5 L284.6,543.0 L284.6,543.5 L284.5,544.0 L284.4,544.5 L284.4,545.0 L284.7,545.5 L284.5,546.0 L284.6,546.5 L284.7,547.0 L284.5,547.5 L284.5,548.0 L284.5,548.5 L284.8,549.0 L284.4,549.5 L284.7,550.1 L284.7,550.6 L284.6,551.1 L284.7,551.6 L284.5,552.1 L284.5,552.6 L284.6,553.1 L284.6,553.6 L284.8,554.1 L284.8,554.6 L284.9,555.1 L284.6,555.6 L285.0,556.1 L284.6,556.6 L284.9,557.1 L285.6,557.6 L285.7,558.1 L286.0,558.6 L285.4,559.1 L285.5,559.6 L286.3,560.1 L287.0,560.6 L287.0,561.1 L286.1,561.6 L288.2,562.1 L288.2,562.6 L286.9,563.1 L287.6,563.6 L289.8,564.1 L288.2,564.6 L291.4,565.1 L288.8,565.6 L290.6,566.2 L287.8,566.7 L291.3,567.2 L288.9,567.7 L289.5,568.2 L292.0,568.7 L290.4,569.2 L290.3,569.7 L292.9,570.2 L290.3,570.7 L290.8,571.2 L291.5,571.7 L291.1,572.2 L293.3,572.7 L295.7,573.2 L294.8,573.7 L295.7,574.2 L300.0,574.7 L294.9,575.2 L290.8,575.7 L291.7,576.2 L294.9,576.7 L291.2,577.2 L291.6,577.7 L288.4,578.2 L288.2,578.7 L289.1,579.2 L287.6,579.7 L287.6,580.2 L286.3,580.7 L285.7,581.2 L285.3,581.7 L284.1,582.3 L284.1,582.8 L284.1,583.3 L284.1,583.8 L284.1,584.3 L284.1,584.8 L284.1,585.3 L284.1,585.8 L284.1,586.3 L284.1,586.8 L284.1,587.3 L284.1,587.8 L284.1,588.3 L284.1,588.8 L284.1,589.3 L284.1,589.8 L284.1,590.3 L284.1,590.8 L284.1,591.3 L284.1,591.8 L284.1,592.3 L284.1,592.8 L284.1,593.3 L284.1,593.8 L284.1,594.3 L284.1,594.8 L284.1,595.3 L284.1,595.8 L284.2,596.3 L284.2,596.8 L284.1,597.3 L284.2,597.8 L284.2,598.4 L284.2,598.9 L284.3,599.4 L284.6,599.9 L284.5,600.4 L284.4,600.9 L284.7,601.4 L284.5,601.9 L285.1,602.4 L284.7,602.9 L284.8,603.4 L285.5,603.9 L285.4,604.4 L286.1,604.9 L285.4,605.4 L286.2,605.9 L286.2,606.4 L286.9,606.9 L285.9,607.4 L287.3,607.9 L286.2,608.4 L286.4,608.9 L287.5,609.4 L288.0,609.9 L288.5,610.4 L288.2,610.9 L288.1,611.4 L286.9,611.9 L287.8,612.4 L289.3,612.9 L290.0,613.4 L289.2,613.9 L288.7,614.4 L289.0,615.0 L287.2,615.5 L291.0,616.0 L288.7,616.5 L287.6,617.0 L287.1,617.5 L287.6,618.0 L286.6,618.5 L287.1,619.0 L286.3,619.5 L286.0,620.0 L285.4,620.5 L286.0,621.0 L285.1,621.5 L285.8,622.0 L285.1,622.5 L284.1,623.0 L284.1,623.5 L284.1,624.0 L284.1,624.5 L284.1,625.0 L284.1,625.5 L284.1,626.0 L284.1,626.5 L284.1,627.0 L284.1,627.5 L284.1,628.0 L284.1,628.5 L284.1,629.0 L284.1,629.5" stroke="#5a88d0" stroke-width="0.75" fill="none" />
<path d="M285.9,511.3 L285.6,511.8 L285.4,512.3 L285.7,512.8 L286.3,513.3 L286.5,513.8 L287.3,514.3 L288.1,514.8 L288.4,515.3 L287.8,515.8 L292.3,516.3 L289.8,516.8 L287.5,517.4 L291.5,517.9 L291.3,518.4 L288.8,518.9 L291.0,519.4 L293.0,519.9 L292.1,520.4 L292.9,520.9 L292.6,521.4 L289.8,521.9 L289.7,522.4 L292.3,522.9 L292.6,523.4 L294.2,523.9 L293.0,524.4 L291.0,524.9 L294.0,525.4 L291.4,525.9 L288.0,526.4 L290.3,526.9 L289.9,527.4 L288.5,527.9 L288.1,528.4 L288.6,528.9 L289.1,529.4 L286.3,529.9 L287.4,530.4 L287.7,530.9 L285.7,531.4 L286.5,531.9 L286.4,532.4 L286.0,532.9 L286.5,533.5 L286.3,534.0 L286.3,534.5 L285.1,535.0 L286.0,535.5 L285.6,536.0 L285.3,536.5 L285.3,537.0 L285.2,537.5 L286.8,538.0 L285.9,538.5 L286.0,539.0 L285.3,539.5 L286.0,540.0 L284.1,540.5 L284.4,541.0 L284.5,541.5 L284.5,542.0 L285.1,542.5 L285.0,543.0 L284.8,543.5 L285.4,544.0 L285.2,544.5 L285.5,545.0 L286.0,545.5 L286.1,546.0 L286.2,546.5 L287.4,547.0 L287.9,547.5 L286.7,548.0 L286.7,548.5 L289.0,549.0 L288.9,549.5 L289.5,550.1 L288.5,550.6 L287.1,551.1 L288.6,551.6 L289.5,552.1 L287.5,552.6 L287.9,553.1 L289.1,553.6 L291.1,554.1 L289.2,554.6 L289.6,555.1 L292.6,555.6 L289.5,556.1 L294.0,556.6 L290.4,557.1 L295.5,557.6 L290.4,558.1 L290.3,558.6 L290.5,559.1 L291.9,559.6 L296.8,560.1 L293.4,560.6 L294.4,561.1 L296.1,561.6 L292.5,562.1 L291.3,562.6 L295.1,563.1 L291.8,563.6 L291.9,564.1 L293.1,564.6 L295.6,565.1 L291.6,565.6 L293.7,566.2 L291.9,566.7 L288.7,567.2 L293.4,567.7 L292.4,568.2 L290.7,568.7 L288.2,569.2 L290.0,569.7 L289.6,570.2 L289.2,570.7 L289.5,571.2 L288.3,571.7 L288.1,572.2 L287.2,572.7 L286.0,573.2 L287.4,573.7 L285.3,574.2 L285.8,574.7 L285.2,575.2 L284.8,575.7 L285.1,576.2 L285.0,576.7 L284.8,577.2 L284.6,577.7 L284.7,578.2 L284.4,578.7 L284.5,579.2 L284.3,579.7 L284.1,580.2 L284.1,580.7 L284.1,581.2 L284.1,581.7 L284.1,582.3 L284.1,582.8 L284.1,583.3 L284.1,583.8 L284.1,584.3 L284.1,584.8 L284.1,585.3 L284.1,585.8 L284.1,586.3 L284.1,586.8 L284.1,587.3 L284.1,587.8 L284.1,588.3 L284.1,588.8 L284.1,589.3 L284.1,589.8 L284.1,590.3 L284.1,590.8 L284.1,591.3 L284.1,591.8 L284.1,592.3 L284.1,592.8 L284.1,593.3 L284.1,593.8 L284.1,594.3 L284.1,594.8 L284.1,595.3 L284.1,595.8 L284.1,596.3 L284.1,596.8 L284.1,597.3 L284.1,597.8 L284.1,598.4 L284.1,598.9 L284.1,599.4 L284.1,599.9 L284.2,600.4 L284.2,600.9 L284.1,601.4 L284.2,601.9 L284.2,602.4 L284.3,602.9 L284.5,603.4 L284.6,603.9 L285.6,604.4 L285.8,604.9 L285.7,605.4 L287.1,605.9 L286.1,606.4 L287.3,606.9 L287.1,607.4 L291.2,607.9 L287.9,608.4 L290.6,608.9 L287.6,609.4 L289.5,609.9 L289.2,610.4 L288.1,610.9 L290.7,611.4 L288.4,611.9 L288.9,612.4 L287.8,612.9 L292.2,613.4 L295.6,613.9 L289.3,614.4 L292.9,615.0 L290.0,615.5 L290.2,616.0 L292.3,616.5 L291.5,617.0 L291.2,617.5 L289.9,618.0 L288.4,618.5 L291.6,619.0 L287.3,619.5 L288.1,620.0 L286.2,620.5 L286.6,621.0 L287.3,621.5 L286.4,622.0 L285.3,622.5 L284.1,623.0 L284.1,623.5 L284.1,624.0 L284.1,624.5 L284.1,625.0 L284.1,625.5 L284.1,626.0 L284.1,626.5 L284.1,627.0 L284.1,627.5 L284.1,628.0 L284.1,628.5 L284.1,629.0 L284.1,629.5" stroke="#3a9a4a" stroke-width="0.75" fill="none" />
<path d="M322.4,511.3 L322.3,511.8 L322.2,512.3 L322.4,512.8 L322.3,513.3 L322.3,513.8 L322.4,514.3 L322.7,514.8 L322.3,515.3 L322.4,515.8 L322.2,516.3 L322.2,516.8 L322.5,517.4 L322.5,517.9 L322.5,518.4 L322.3,518.9 L322.7,519.4 L322.4,519.9 L322.2,520.4 L322.2,520.9 L322.3,521.4 L322.4,521.9 L322.2,522.4 L322.4,522.9 L322.3,523.4 L322.4,523.9 L322.3,524.4 L322.3,524.9 L322.5,525.4 L322.2,525.9 L322.3,526.4 L322.3,526.9 L322.3,527.4 L322.3,527.9 L322.5,528.4 L322.3,528.9 L322.4,529.4 L322.2,529.9 L322.3,530.4 L322.3,530.9 L322.5,531.4 L322.2,531.9 L322.4,532.4 L322.2,532.9 L322.3,533.5 L322.2,534.0 L322.3,534.5 L322.2,535.0 L322.4,535.5 L322.4,536.0 L322.5,536.5 L322.5,537.0 L322.5,537.5 L322.5,538.0 L322.6,538.5 L322.4,539.0 L322.3,539.5 L322.4,540.0 L322.2,540.5 L322.3,541.0 L322.2,541.5 L322.4,542.0 L322.2,542.5 L322.6,543.0 L322.6,543.5 L322.4,544.0 L322.4,544.5 L322.3,545.0 L322.3,545.5 L322.3,546.0 L322.2,546.5 L322.3,547.0 L322.4,547.5 L322.5,548.0 L322.5,548.5 L322.2,549.0 L322.2,549.5 L322.5,550.1 L322.5,550.6 L322.4,551.1 L322.5,551.6 L322.3,552.1 L322.7,552.6 L322.5,553.1 L322.4,553.6 L322.2,554.1 L322.3,554.6 L322.7,555.1 L322.4,555.6 L322.2,556.1 L322.6,556.6 L322.5,557.1 L322.6,557.6 L322.3,558.1 L322.2,558.6 L322.3,559.1 L322.2,559.6 L322.2,560.1 L322.4,560.6 L322.2,561.1 L322.2,561.6 L322.4,562.1 L322.5,562.6 L322.4,563.1 L322.2,563.6 L322.4,564.1 L322.4,564.6 L322.5,565.1 L322.3,565.6 L322.5,566.2 L322.6,566.7 L322.4,567.2 L322.4,567.7 L322.4,568.2 L322.4,568.7 L322.3,569.2 L322.4,569.7 L322.3,570.2 L322.2,570.7 L322.6,571.2 L322.2,571.7 L322.2,572.2 L322.2,572.7 L322.4,573.2 L322.4,573.7 L322.2,574.2 L322.4,574.7 L322.2,575.2 L322.5,575.7 L322.3,576.2 L322.2,576.7 L322.4,577.2 L322.4,577.7 L322.5,578.2 L322.3,578.7 L322.2,579.2 L322.3,579.7 L322.2,580.2 L322.2,580.7 L322.7,581.2 L322.2,581.7 L322.3,582.3 L322.6,582.8 L322.3,583.3 L322.2,583.8 L322.4,584.3 L322.2,584.8 L322.4,585.3 L322.4,585.8 L322.4,586.3 L322.4,586.8 L322.3,587.3 L322.4,587.8 L322.4,588.3 L322.4,588.8 L322.4,589.3 L322.3,589.8 L322.5,590.3 L322.7,590.8 L322.3,591.3 L322.4,591.8 L322.4,592.3 L322.5,592.8 L322.2,593.3 L322.4,593.8 L322.4,594.3 L322.3,594.8 L322.4,595.3 L322.3,595.8 L322.4,596.3 L322.2,596.8 L322.2,597.3 L322.3,597.8 L322.2,598.4 L322.4,598.9 L322.3,599.4 L322.4,599.9 L322.4,600.4 L322.2,600.9 L322.3,601.4 L322.4,601.9 L322.2,602.4 L326.5,602.9 L324.5,603.4 L325.6,603.9 L327.2,604.4 L326.8,604.9 L327.1,605.4 L326.6,605.9 L328.3,606.4 L326.7,606.9 L325.6,607.4 L326.9,607.9 L327.4,608.4 L330.2,608.9 L329.7,609.4 L325.8,609.9 L327.6,610.4 L327.1,610.9 L327.7,611.4 L331.1,611.9 L330.5,612.4 L324.9,612.9 L327.3,613.4 L324.6,613.9 L325.9,614.4 L324.8,615.0 L325.0,615.5 L324.6,616.0 L324.5,616.5 L325.4,617.0 L324.0,617.5 L323.8,618.0 L325.1,618.5 L321.9,619.0 L321.9,619.5 L321.9,620.0 L321.9,620.5 L321.9,621.0 L321.9,621.5 L321.9,622.0 L321.9,622.5 L321.9,623.0 L321.9,623.5 L321.9,624.0 L321.9,624.5 L321.9,625.0 L321.9,625.5 L321.9,626.0 L321.9,626.5 L321.9,627.0 L321.9,627.5 L321.9,628.0 L321.9,628.5 L321.9,629.0 L321.9,629.5" stroke="#5a88d0" stroke-width="0.75" fill="none" />
<path d="M322.3,511.3 L322.6,511.8 L322.3,512.3 L322.6,512.8 L322.3,513.3 L322.6,513.8 L322.3,514.3 L322.6,514.8 L322.5,515.3 L322.4,515.8 L322.7,516.3 L322.4,516.8 L322.7,517.4 L322.3,517.9 L322.3,518.4 L322.7,518.9 L322.6,519.4 L322.3,519.9 L322.3,520.4 L322.6,520.9 L322.4,521.4 L322.6,521.9 L322.5,522.4 L322.3,522.9 L322.5,523.4 L322.7,523.9 L322.6,524.4 L322.5,524.9 L322.7,525.4 L322.8,525.9 L322.9,526.4 L322.8,526.9 L322.7,527.4 L322.6,527.9 L323.3,528.4 L323.4,528.9 L323.3,529.4 L323.7,529.9 L324.0,530.4 L323.4,530.9 L324.5,531.4 L324.2,531.9 L323.4,532.4 L323.7,532.9 L325.1,533.5 L323.5,534.0 L324.2,534.5 L324.0,535.0 L324.3,535.5 L323.5,536.0 L323.1,536.5 L323.2,537.0 L322.8,537.5 L323.2,538.0 L322.7,538.5 L322.4,539.0 L322.6,539.5 L322.5,540.0 L322.4,540.5 L322.7,541.0 L322.6,541.5 L323.2,542.0 L323.5,542.5 L326.1,543.0 L326.8,543.5 L327.4,544.0 L330.1,544.5 L336.3,545.0 L335.3,545.5 L343.4,546.0 L342.3,546.5 L342.6,547.0 L336.1,547.5 L335.5,548.0 L329.9,548.5 L331.4,549.0 L330.4,549.5 L330.4,550.1 L331.3,550.6 L332.4,551.1 L327.0,551.6 L331.6,552.1 L327.1,552.6 L332.3,553.1 L326.1,553.6 L329.1,554.1 L327.6,554.6 L326.4,555.1 L328.2,555.6 L328.2,556.1 L325.2,556.6 L326.3,557.1 L326.2,557.6 L326.1,558.1 L324.4,558.6 L325.0,559.1 L324.6,559.6 L324.7,560.1 L324.6,560.6 L325.2,561.1 L325.0,561.6 L324.2,562.1 L324.2,562.6 L323.3,563.1 L324.0,563.6 L324.2,564.1 L323.7,564.6 L325.5,565.1 L324.0,565.6 L323.1,566.2 L324.0,566.7 L323.4,567.2 L323.6,567.7 L324.8,568.2 L323.7,568.7 L323.2,569.2 L323.2,569.7 L323.3,570.2 L322.9,570.7 L323.1,571.2 L323.3,571.7 L323.3,572.2 L322.9,572.7 L322.9,573.2 L322.9,573.7 L322.6,574.2 L322.6,574.7 L322.7,575.2 L322.3,575.7 L322.7,576.2 L321.9,576.7 L321.9,577.2 L321.9,577.7 L321.9,578.2 L321.9,578.7 L321.9,579.2 L321.9,579.7 L321.9,580.2 L321.9,580.7 L321.9,581.2 L321.9,581.7 L321.9,582.3 L321.9,582.8 L321.9,583.3 L321.9,583.8 L321.9,584.3 L321.9,584.8 L321.9,585.3 L321.9,585.8 L321.9,586.3 L321.9,586.8 L321.9,587.3 L321.9,587.8 L321.9,588.3 L321.9,588.8 L321.9,589.3 L321.9,589.8 L321.9,590.3 L321.9,590.8 L321.9,591.3 L321.9,591.8 L321.9,592.3 L321.9,592.8 L321.9,593.3 L321.9,593.8 L321.9,594.3 L321.9,594.8 L321.9,595.3 L321.9,595.8 L321.9,596.3 L321.9,596.8 L321.9,597.3 L321.9,597.8 L321.9,598.4 L321.9,598.9 L321.9,599.4 L321.9,599.9 L321.9,600.4 L321.9,600.9 L321.9,601.4 L321.9,601.9 L321.9,602.4 L321.9,602.9 L321.9,603.4 L321.9,603.9 L321.9,604.4 L321.9,604.9 L321.9,605.4 L321.9,605.9 L321.9,606.4 L321.9,606.9 L321.9,607.4 L321.9,607.9 L321.9,608.4 L321.9,608.9 L321.9,609.4 L321.9,609.9 L321.9,610.4 L321.9,610.9 L321.9,611.4 L321.9,611.9 L321.9,612.4 L321.9,612.9 L321.9,613.4 L321.9,613.9 L321.9,614.4 L321.9,615.0 L321.9,615.5 L321.9,616.0 L321.9,616.5 L321.9,617.0 L321.9,617.5 L321.9,618.0 L321.9,618.5 L321.9,619.0 L321.9,619.5 L321.9,620.0 L321.9,620.5 L321.9,621.0 L321.9,621.5 L321.9,622.0 L321.9,622.5 L321.9,623.0 L321.9,623.5 L321.9,624.0 L321.9,624.5 L321.9,625.0 L321.9,625.5 L321.9,626.0 L321.9,626.5 L321.9,627.0 L321.9,627.5 L321.9,628.0 L321.9,628.5 L321.9,629.0 L321.9,629.5" stroke="#3a9a4a" stroke-width="0.75" fill="none" />
</g>
<rect x="283.60" y="512.50" width="74.60" height="116.70" fill="none" stroke="#222" stroke-width="1.1" />
<line x1="321.40" y1="512.50" x2="321.40" y2="629.20" stroke="#2f7a40" stroke-width="1.0" />
<line x1="283.60" y1="541.50" x2="359.70" y2="541.50" stroke="#555" stroke-width="0.9" stroke-dasharray="4 2.6"/>
<text x="299.80" y="565.50" font-size="8.6" fill="#3a9a4a" >Sn <tspan font-style="italic">5p</tspan></text>
<text x="299.80" y="579.00" font-size="8.6" fill="#5a88d0" >Sn <tspan font-style="italic">5s</tspan></text>
<text x="336.80" y="560.80" font-size="8.6" fill="#3a9a4a" >O <tspan font-style="italic">2p</tspan></text>
<text x="332.90" y="616.40" font-size="8.6" fill="#5a88d0" >O <tspan font-style="italic">2s</tspan></text>
<text x="324.20" y="579.20" font-size="5.8" font-weight="bold" fill="#3a9a4a" >band center</text>
<text x="324.20" y="586.60" font-size="5.8" font-weight="bold" fill="#3a9a4a" >-3.07 eV</text>
<text x="355.80" y="627.00" font-size="7.6" font-weight="bold" text-anchor="end" fill="#222" >SO</text>
<text transform="translate(255.80,570.80) rotate(-90)" font-size="9.0" font-weight="bold" text-anchor="middle" fill="#222" >Energy (eV)</text>
<text x="360.00" y="545.80" font-size="8.6" fill="#222" >E<tspan font-size="5.6" dy="2" font-style="italic">F</tspan></text>
<text x="377.40" y="519.20" font-size="12.6" font-weight="bold" fill="#2b1a17" >k</text>
<path d="M389.1,590 C400,583 410,579 418.9,578.5 L418.9,581.4 C425,584 430,587 432.6,589.8 C420,595 400,600 389.1,610.8 Z" stroke="none" stroke-width="1" fill="#9cb6e0" />
<path d="M418.9,581.4 C425,584 430,587 432.6,589.8 C420,595 400,600 389.1,610.8" stroke="#111" stroke-width="1.0" fill="none" stroke-dasharray="3 2"/>
<path d="M389.1,551.2 C392,553 397,558 405,563 C415,569 430,571 432.6,573.8 C430,578 415,582 405,585 C397,588 392,592 389.1,596.5 Z" stroke="#111" stroke-width="1.0" fill="#3a9a4a" />
<line x1="389.10" y1="620.80" x2="389.10" y2="522.00" stroke="#222" stroke-width="1.2" />
<polygon points="389.10,517.40 386.90,524.20 391.30,524.20" fill="#222" stroke="none" stroke-width="1" />
<line x1="389.10" y1="544.80" x2="433.10" y2="544.80" stroke="#111" stroke-width="1.0" stroke-dasharray="3.2 2.2"/>
<text x="436.30" y="548.80" font-size="8.6" fill="#222" >E<tspan font-size="5.6" dy="2" font-style="italic">F</tspan></text>
<rect x="402.90" y="578.50" width="4.50" height="16.30" fill="#e0202a" stroke="none" stroke-width="1" />
<polygon points="405.15,572.00 399.90,579.00 410.40,579.00" fill="#e0202a" stroke="none" stroke-width="1" />
<path d="M395.4,555.4 C396,540 404,537 410.0,533.5 L412.0,528.0" stroke="#111" stroke-width="1.3" fill="none" />
<polygon points="413.20,524.80 409.30,530.50 414.80,531.50" fill="#111" stroke="none" stroke-width="1" />
<path d="M401.5,541.0 C407,538 412,538.5 417.5,539.2" stroke="#111" stroke-width="1.3" fill="none" />
<polygon points="421.20,539.40 416.00,536.60 416.20,542.20" fill="#111" stroke="none" stroke-width="1" />
<text x="410.30" y="522.80" font-size="8.8" font-weight="bold" fill="#e0202a" >O<tspan font-size="5.6" dy="-3">-</tspan></text>
<text x="421.30" y="538.20" font-size="8.4" fill="#222" >e<tspan font-size="5.6" dy="-3">-</tspan></text>
<text x="432.30" y="588.60" font-size="8.8" font-weight="bold" fill="#222" >O <tspan font-style="italic">2p</tspan></text>
<text x="2.40" y="660.40" font-size="15" font-weight="bold" fill="#2b1a17" >m</text>
<defs><linearGradient id="gLat" x1="0" y1="0" x2="0" y2="1"><stop offset="0" stop-color="#3a2d8a"/><stop offset="0.55" stop-color="#8d86c0"/><stop offset="1" stop-color="#ffffff"/></linearGradient><linearGradient id="gVac" x1="0" y1="0" x2="0" y2="1"><stop offset="0" stop-color="#d8483c"/><stop offset="1" stop-color="#f4c0b8"/></linearGradient><linearGradient id="gHyd" x1="0" y1="0" x2="0" y2="1"><stop offset="0" stop-color="#8c3a98"/><stop offset="1" stop-color="#e2c4e6"/></linearGradient><marker id="karrow" markerWidth="5" markerHeight="5" refX="4" refY="2.5" orient="auto" markerUnits="userSpaceOnUse"><path d="M0,0 L5,2.5 L0,5 z" fill="#111"/></marker></defs>
<path d="M18.0,717.3 L19.3,717.3 L20.6,717.3 L21.9,717.3 L23.2,717.3 L24.5,717.3 L25.9,717.3 L27.2,717.3 L28.5,717.3 L29.8,717.3 L31.1,717.3 L32.4,717.3 L33.7,717.2 L35.0,717.2 L36.3,717.2 L37.6,717.2 L38.9,717.2 L40.2,717.2 L41.6,717.1 L42.9,717.1 L44.2,717.1 L45.5,717.0 L46.8,717.0 L48.1,716.9 L49.4,716.8 L50.7,716.7 L52.0,716.7 L53.3,716.6 L54.6,716.4 L56.0,716.3 L57.3,716.2 L58.6,716.1 L59.9,715.9 L61.2,715.7 L62.5,715.5 L63.8,715.4 L65.1,715.2 L66.4,714.9 L67.7,714.7 L69.0,714.5 L70.4,714.3 L71.7,714.0 L73.0,713.8 L74.3,713.6 L75.6,713.4 L76.9,713.1 L78.2,712.9 L79.5,712.7 L80.8,712.5 L82.1,712.4 L83.4,712.2 L84.7,712.1 L86.1,712.0 L87.4,711.9 L88.7,711.8 L90.0,711.8 L91.3,711.8 L92.6,711.8 L93.9,711.9 L95.2,711.9 L96.5,712.0 L97.8,712.2 L99.1,712.3 L100.5,712.5 L101.8,712.7 L103.1,712.9 L104.4,713.1 L105.7,713.3 L107.0,713.5 L108.3,713.7 L109.6,714.0 L110.9,714.2 L112.2,714.4 L113.5,714.7 L114.9,714.9 L116.2,715.1 L117.5,715.3 L118.8,715.5 L120.1,715.7 L121.4,715.8 L122.7,716.0 L124.0,716.2 L125.3,716.3 L126.6,716.4 L127.9,716.5 L129.2,716.6 L130.6,716.7 L131.9,716.8 L133.2,716.9 L134.5,716.9 L135.8,717.0 L137.1,717.0 L138.4,717.1 L139.7,717.1 L141.0,717.1 L142.3,717.2 L143.6,717.2 L145.0,717.2 L146.3,717.2 L147.6,717.2 L148.9,717.3 L150.2,717.3 L151.5,717.3 L152.8,717.3 L154.1,717.3 L155.4,717.3 L156.7,717.3 L158.0,717.3 L159.4,717.3 L160.7,717.3 L162.0,717.3 L163.3,717.3 L164.6,717.3 L165.9,717.3 L167.2,717.3 L168.5,717.3 L169.8,717.3 L171.1,717.3 L172.4,717.3 L173.7,717.3 L175.1,717.3 L176.4,717.3 L177.7,717.3 L179.0,717.3 L180.3,717.3 L181.6,717.3 L182.9,717.3 L184.2,717.3 L185.5,717.3 L186.8,717.3 L188.1,717.3 L189.5,717.3 L190.8,717.3 L192.1,717.3 L193.4,717.3 L194.7,717.3 L196.0,717.3 L197.3,717.3 L198.6,717.3 L199.9,717.3 L201.2,717.3 L202.5,717.3 L203.9,717.3 L205.2,717.3 L206.5,717.3 L207.8,717.3 L209.1,717.3 L210.4,717.3 L211.7,717.3 L213.0,717.3 L214.3,717.3 L215.6,717.3 L216.9,717.3 L218.2,717.3 L219.6,717.3 L220.9,717.3 L222.2,717.3 L223.5,717.3 L224.8,717.3 L226.1,717.3 Z" stroke="#8a4a98" stroke-width="0.6" fill="url(#gHyd)" fill-opacity="0.85"/>
<path d="M18.0,717.3 L19.3,717.3 L20.6,717.3 L21.9,717.3 L23.2,717.3 L24.5,717.3 L25.9,717.3 L27.2,717.3 L28.5,717.3 L29.8,717.3 L31.1,717.3 L32.4,717.3 L33.7,717.3 L35.0,717.3 L36.3,717.3 L37.6,717.3 L38.9,717.3 L40.2,717.3 L41.6,717.3 L42.9,717.3 L44.2,717.3 L45.5,717.3 L46.8,717.3 L48.1,717.3 L49.4,717.3 L50.7,717.3 L52.0,717.3 L53.3,717.3 L54.6,717.3 L56.0,717.3 L57.3,717.3 L58.6,717.3 L59.9,717.3 L61.2,717.2 L62.5,717.2 L63.8,717.2 L65.1,717.2 L66.4,717.1 L67.7,717.1 L69.0,717.1 L70.4,717.0 L71.7,717.0 L73.0,716.9 L74.3,716.8 L75.6,716.7 L76.9,716.6 L78.2,716.5 L79.5,716.3 L80.8,716.1 L82.1,715.9 L83.4,715.7 L84.7,715.5 L86.1,715.2 L87.4,714.9 L88.7,714.6 L90.0,714.3 L91.3,713.9 L92.6,713.5 L93.9,713.1 L95.2,712.7 L96.5,712.2 L97.8,711.8 L99.1,711.3 L100.5,710.8 L101.8,710.4 L103.1,709.9 L104.4,709.5 L105.7,709.0 L107.0,708.6 L108.3,708.2 L109.6,707.9 L110.9,707.6 L112.2,707.3 L113.5,707.1 L114.9,707.0 L116.2,706.8 L117.5,706.8 L118.8,706.8 L120.1,706.9 L121.4,707.0 L122.7,707.2 L124.0,707.4 L125.3,707.7 L126.6,708.0 L127.9,708.4 L129.2,708.8 L130.6,709.2 L131.9,709.6 L133.2,710.1 L134.5,710.5 L135.8,711.0 L137.1,711.5 L138.4,711.9 L139.7,712.4 L141.0,712.8 L142.3,713.3 L143.6,713.7 L145.0,714.0 L146.3,714.4 L147.6,714.7 L148.9,715.0 L150.2,715.3 L151.5,715.6 L152.8,715.8 L154.1,716.0 L155.4,716.2 L156.7,716.4 L158.0,716.5 L159.4,716.6 L160.7,716.7 L162.0,716.8 L163.3,716.9 L164.6,717.0 L165.9,717.0 L167.2,717.1 L168.5,717.1 L169.8,717.2 L171.1,717.2 L172.4,717.2 L173.7,717.2 L175.1,717.2 L176.4,717.3 L177.7,717.3 L179.0,717.3 L180.3,717.3 L181.6,717.3 L182.9,717.3 L184.2,717.3 L185.5,717.3 L186.8,717.3 L188.1,717.3 L189.5,717.3 L190.8,717.3 L192.1,717.3 L193.4,717.3 L194.7,717.3 L196.0,717.3 L197.3,717.3 L198.6,717.3 L199.9,717.3 L201.2,717.3 L202.5,717.3 L203.9,717.3 L205.2,717.3 L206.5,717.3 L207.8,717.3 L209.1,717.3 L210.4,717.3 L211.7,717.3 L213.0,717.3 L214.3,717.3 L215.6,717.3 L216.9,717.3 L218.2,717.3 L219.6,717.3 L220.9,717.3 L222.2,717.3 L223.5,717.3 L224.8,717.3 L226.1,717.3 Z" stroke="#d04848" stroke-width="0.6" fill="url(#gVac)" fill-opacity="0.85"/>
<path d="M18.0,717.3 L19.3,717.3 L20.6,717.3 L21.9,717.3 L23.2,717.3 L24.5,717.3 L25.9,717.3 L27.2,717.3 L28.5,717.3 L29.8,717.3 L31.1,717.3 L32.4,717.3 L33.7,717.3 L35.0,717.3 L36.3,717.3 L37.6,717.3 L38.9,717.3 L40.2,717.3 L41.6,717.3 L42.9,717.3 L44.2,717.3 L45.5,717.3 L46.8,717.3 L48.1,717.3 L49.4,717.3 L50.7,717.3 L52.0,717.3 L53.3,717.3 L54.6,717.3 L56.0,717.3 L57.3,717.3 L58.6,717.3 L59.9,717.3 L61.2,717.3 L62.5,717.3 L63.8,717.3 L65.1,717.3 L66.4,717.3 L67.7,717.3 L69.0,717.3 L70.4,717.3 L71.7,717.3 L73.0,717.3 L74.3,717.3 L75.6,717.3 L76.9,717.3 L78.2,717.3 L79.5,717.3 L80.8,717.3 L82.1,717.3 L83.4,717.3 L84.7,717.3 L86.1,717.3 L87.4,717.3 L88.7,717.3 L90.0,717.3 L91.3,717.3 L92.6,717.3 L93.9,717.3 L95.2,717.3 L96.5,717.3 L97.8,717.3 L99.1,717.3 L100.5,717.3 L101.8,717.3 L103.1,717.3 L104.4,717.3 L105.7,717.3 L107.0,717.3 L108.3,717.3 L109.6,717.3 L110.9,717.3 L112.2,717.3 L113.5,717.2 L114.9,717.2 L116.2,717.1 L117.5,717.0 L118.8,716.9 L120.1,716.6 L121.4,716.2 L122.7,715.7 L124.0,715.0 L125.3,714.0 L126.6,712.6 L127.9,710.9 L129.2,708.7 L130.6,706.0 L131.9,702.8 L133.2,699.1 L134.5,694.9 L135.8,690.5 L137.1,685.8 L138.4,681.2 L139.7,676.8 L141.0,672.9 L142.3,669.6 L143.6,667.3 L145.0,666.0 L146.3,665.9 L147.6,666.5 L148.9,667.9 L150.2,669.9 L151.5,672.5 L152.8,675.6 L154.1,679.0 L155.4,682.7 L156.7,686.5 L158.0,690.2 L159.4,693.9 L160.7,697.3 L162.0,700.5 L163.3,703.4 L164.6,705.9 L165.9,708.2 L167.2,710.1 L168.5,711.6 L169.8,712.9 L171.1,714.0 L172.4,714.8 L173.7,715.5 L175.1,716.0 L176.4,716.4 L177.7,716.6 L179.0,716.8 L180.3,717.0 L181.6,717.1 L182.9,717.2 L184.2,717.2 L185.5,717.2 L186.8,717.3 L188.1,717.3 L189.5,717.3 L190.8,717.3 L192.1,717.3 L193.4,717.3 L194.7,717.3 L196.0,717.3 L197.3,717.3 L198.6,717.3 L199.9,717.3 L201.2,717.3 L202.5,717.3 L203.9,717.3 L205.2,717.3 L206.5,717.3 L207.8,717.3 L209.1,717.3 L210.4,717.3 L211.7,717.3 L213.0,717.3 L214.3,717.3 L215.6,717.3 L216.9,717.3 L218.2,717.3 L219.6,717.3 L220.9,717.3 L222.2,717.3 L223.5,717.3 L224.8,717.3 L226.1,717.3 Z" stroke="#6a5aa8" stroke-width="0.6" fill="url(#gLat)" fill-opacity="0.85"/>
<path d="M18.0,717.3 L19.3,717.3 L20.6,717.3 L21.9,717.3 L23.2,717.3 L24.5,717.3 L25.9,717.3 L27.2,717.3 L28.5,717.3 L29.8,717.3 L31.1,717.3 L32.4,717.3 L33.7,717.2 L35.0,717.2 L36.3,717.2 L37.6,717.2 L38.9,717.2 L40.2,717.2 L41.6,717.1 L42.9,717.1 L44.2,717.1 L45.5,717.0 L46.8,717.0 L48.1,716.9 L49.4,716.8 L50.7,716.7 L52.0,716.6 L53.3,716.5 L54.6,716.4 L56.0,716.3 L57.3,716.2 L58.6,716.0 L59.9,715.8 L61.2,715.7 L62.5,715.5 L63.8,715.3 L65.1,715.0 L66.4,714.8 L67.7,714.5 L69.0,714.3 L70.4,714.0 L71.7,713.7 L73.0,713.4 L74.3,713.1 L75.6,712.7 L76.9,712.4 L78.2,712.1 L79.5,711.7 L80.8,711.4 L82.1,711.0 L83.4,710.6 L84.7,710.3 L86.1,709.9 L87.4,709.5 L88.7,709.2 L90.0,708.8 L91.3,708.4 L92.6,708.0 L93.9,707.7 L95.2,707.3 L96.5,707.0 L97.8,706.6 L99.1,706.3 L100.5,706.0 L101.8,705.7 L103.1,705.5 L104.4,705.2 L105.7,705.0 L107.0,704.8 L108.3,704.7 L109.6,704.6 L110.9,704.5 L112.2,704.4 L113.5,704.4 L114.9,704.4 L116.2,704.5 L117.5,704.5 L118.8,704.6 L120.1,704.6 L121.4,704.5 L122.7,704.3 L124.0,703.9 L125.3,703.3 L126.6,702.4 L127.9,701.2 L129.2,699.5 L130.6,697.3 L131.9,694.6 L133.2,691.4 L134.5,687.8 L135.8,683.9 L137.1,679.7 L138.4,675.6 L139.7,671.7 L141.0,668.2 L142.3,665.5 L143.6,663.6 L145.0,662.7 L146.3,662.9 L147.6,663.9 L148.9,665.6 L150.2,667.9 L151.5,670.8 L152.8,674.1 L154.1,677.7 L155.4,681.6 L156.7,685.5 L158.0,689.4 L159.4,693.2 L160.7,696.7 L162.0,700.0 L163.3,703.0 L164.6,705.6 L165.9,707.9 L167.2,709.8 L168.5,711.5 L169.8,712.8 L171.1,713.9 L172.4,714.7 L173.7,715.4 L175.1,715.9 L176.4,716.3 L177.7,716.6 L179.0,716.8 L180.3,717.0 L181.6,717.1 L182.9,717.1 L184.2,717.2 L185.5,717.2 L186.8,717.3 L188.1,717.3 L189.5,717.3 L190.8,717.3 L192.1,717.3 L193.4,717.3 L194.7,717.3 L196.0,717.3 L197.3,717.3 L198.6,717.3 L199.9,717.3 L201.2,717.3 L202.5,717.3 L203.9,717.3 L205.2,717.3 L206.5,717.3 L207.8,717.3 L209.1,717.3 L210.4,717.3 L211.7,717.3 L213.0,717.3 L214.3,717.3 L215.6,717.3 L216.9,717.3 L218.2,717.3 L219.6,717.3 L220.9,717.3 L222.2,717.3 L223.5,717.3 L224.8,717.3 L226.1,717.3" stroke="#c8303c" stroke-width="1.1" fill="none" />
<circle cx="18.00" cy="716.60" r="1.10" fill="none" stroke="#5a5a5a" stroke-width="0.5" />
<circle cx="20.62" cy="716.60" r="1.10" fill="none" stroke="#5a5a5a" stroke-width="0.5" />
<circle cx="23.24" cy="716.59" r="1.10" fill="none" stroke="#5a5a5a" stroke-width="0.5" />
<circle cx="25.85" cy="716.59" r="1.10" fill="none" stroke="#5a5a5a" stroke-width="0.5" />
<circle cx="28.47" cy="716.58" r="1.10" fill="none" stroke="#5a5a5a" stroke-width="0.5" />
<circle cx="31.09" cy="716.57" r="1.10" fill="none" stroke="#5a5a5a" stroke-width="0.5" />
<circle cx="33.71" cy="716.55" r="1.10" fill="none" stroke="#5a5a5a" stroke-width="0.5" />
<circle cx="36.32" cy="716.52" r="1.10" fill="none" stroke="#5a5a5a" stroke-width="0.5" />
<circle cx="38.94" cy="716.48" r="1.10" fill="none" stroke="#5a5a5a" stroke-width="0.5" />
<circle cx="41.56" cy="716.43" r="1.10" fill="none" stroke="#5a5a5a" stroke-width="0.5" />
<circle cx="44.18" cy="716.35" r="1.10" fill="none" stroke="#5a5a5a" stroke-width="0.5" />
<circle cx="46.79" cy="716.25" r="1.10" fill="none" stroke="#5a5a5a" stroke-width="0.5" />
<circle cx="49.41" cy="716.12" r="1.10" fill="none" stroke="#5a5a5a" stroke-width="0.5" />
<circle cx="52.03" cy="715.95" r="1.10" fill="none" stroke="#5a5a5a" stroke-width="0.5" />
<circle cx="54.65" cy="715.73" r="1.10" fill="none" stroke="#5a5a5a" stroke-width="0.5" />
<circle cx="57.26" cy="715.47" r="1.10" fill="none" stroke="#5a5a5a" stroke-width="0.5" />
<circle cx="59.88" cy="715.15" r="1.10" fill="none" stroke="#5a5a5a" stroke-width="0.5" />
<circle cx="62.50" cy="714.77" r="1.10" fill="none" stroke="#5a5a5a" stroke-width="0.5" />
<circle cx="65.12" cy="714.33" r="1.10" fill="none" stroke="#5a5a5a" stroke-width="0.5" />
<circle cx="67.73" cy="713.84" r="1.10" fill="none" stroke="#5a5a5a" stroke-width="0.5" />
<circle cx="70.35" cy="713.29" r="1.10" fill="none" stroke="#5a5a5a" stroke-width="0.5" />
<circle cx="72.97" cy="712.69" r="1.10" fill="none" stroke="#5a5a5a" stroke-width="0.5" />
<circle cx="75.59" cy="712.05" r="1.10" fill="none" stroke="#5a5a5a" stroke-width="0.5" />
<circle cx="78.21" cy="711.37" r="1.10" fill="none" stroke="#5a5a5a" stroke-width="0.5" />
<circle cx="80.82" cy="710.66" r="1.10" fill="none" stroke="#5a5a5a" stroke-width="0.5" />
<circle cx="83.44" cy="709.94" r="1.10" fill="none" stroke="#5a5a5a" stroke-width="0.5" />
<circle cx="86.06" cy="709.20" r="1.10" fill="none" stroke="#5a5a5a" stroke-width="0.5" />
<circle cx="88.68" cy="708.45" r="1.10" fill="none" stroke="#5a5a5a" stroke-width="0.5" />
<circle cx="91.29" cy="707.71" r="1.10" fill="none" stroke="#5a5a5a" stroke-width="0.5" />
<circle cx="93.91" cy="706.98" r="1.10" fill="none" stroke="#5a5a5a" stroke-width="0.5" />
<circle cx="96.53" cy="706.28" r="1.10" fill="none" stroke="#5a5a5a" stroke-width="0.5" />
<circle cx="99.15" cy="705.63" r="1.10" fill="none" stroke="#5a5a5a" stroke-width="0.5" />
<circle cx="101.76" cy="705.03" r="1.10" fill="none" stroke="#5a5a5a" stroke-width="0.5" />
<circle cx="104.38" cy="704.52" r="1.10" fill="none" stroke="#5a5a5a" stroke-width="0.5" />
<circle cx="107.00" cy="704.12" r="1.10" fill="none" stroke="#5a5a5a" stroke-width="0.5" />
<circle cx="109.62" cy="703.85" r="1.10" fill="none" stroke="#5a5a5a" stroke-width="0.5" />
<circle cx="112.23" cy="703.73" r="1.10" fill="none" stroke="#5a5a5a" stroke-width="0.5" />
<circle cx="114.85" cy="703.74" r="1.10" fill="none" stroke="#5a5a5a" stroke-width="0.5" />
<circle cx="117.47" cy="703.83" r="1.10" fill="none" stroke="#5a5a5a" stroke-width="0.5" />
<circle cx="120.09" cy="703.87" r="1.10" fill="none" stroke="#5a5a5a" stroke-width="0.5" />
<circle cx="122.70" cy="703.61" r="1.10" fill="none" stroke="#5a5a5a" stroke-width="0.5" />
<circle cx="125.32" cy="702.64" r="1.10" fill="none" stroke="#5a5a5a" stroke-width="0.5" />
<circle cx="127.94" cy="700.47" r="1.10" fill="none" stroke="#5a5a5a" stroke-width="0.5" />
<circle cx="130.56" cy="696.58" r="1.10" fill="none" stroke="#5a5a5a" stroke-width="0.5" />
<circle cx="133.17" cy="690.72" r="1.10" fill="none" stroke="#5a5a5a" stroke-width="0.5" />
<circle cx="135.79" cy="683.17" r="1.10" fill="none" stroke="#5a5a5a" stroke-width="0.5" />
<circle cx="138.41" cy="674.91" r="1.10" fill="none" stroke="#5a5a5a" stroke-width="0.5" />
<circle cx="141.03" cy="667.54" r="1.10" fill="none" stroke="#5a5a5a" stroke-width="0.5" />
<circle cx="143.65" cy="662.86" r="1.10" fill="none" stroke="#5a5a5a" stroke-width="0.5" />
<circle cx="146.26" cy="662.18" r="1.10" fill="none" stroke="#5a5a5a" stroke-width="0.5" />
<circle cx="148.88" cy="664.87" r="1.10" fill="none" stroke="#5a5a5a" stroke-width="0.5" />
<circle cx="151.50" cy="670.07" r="1.10" fill="none" stroke="#5a5a5a" stroke-width="0.5" />
<circle cx="154.12" cy="677.03" r="1.10" fill="none" stroke="#5a5a5a" stroke-width="0.5" />
<circle cx="156.73" cy="684.81" r="1.10" fill="none" stroke="#5a5a5a" stroke-width="0.5" />
<circle cx="159.35" cy="692.48" r="1.10" fill="none" stroke="#5a5a5a" stroke-width="0.5" />
<circle cx="161.97" cy="699.32" r="1.10" fill="none" stroke="#5a5a5a" stroke-width="0.5" />
<circle cx="164.59" cy="704.91" r="1.10" fill="none" stroke="#5a5a5a" stroke-width="0.5" />
<circle cx="167.20" cy="709.14" r="1.10" fill="none" stroke="#5a5a5a" stroke-width="0.5" />
<circle cx="169.82" cy="712.10" r="1.10" fill="none" stroke="#5a5a5a" stroke-width="0.5" />
<circle cx="172.44" cy="714.04" r="1.10" fill="none" stroke="#5a5a5a" stroke-width="0.5" />
<circle cx="175.06" cy="715.22" r="1.10" fill="none" stroke="#5a5a5a" stroke-width="0.5" />
<circle cx="177.67" cy="715.90" r="1.10" fill="none" stroke="#5a5a5a" stroke-width="0.5" />
<circle cx="180.29" cy="716.26" r="1.10" fill="none" stroke="#5a5a5a" stroke-width="0.5" />
<circle cx="182.91" cy="716.45" r="1.10" fill="none" stroke="#5a5a5a" stroke-width="0.5" />
<circle cx="185.53" cy="716.53" r="1.10" fill="none" stroke="#5a5a5a" stroke-width="0.5" />
<circle cx="188.14" cy="716.57" r="1.10" fill="none" stroke="#5a5a5a" stroke-width="0.5" />
<circle cx="190.76" cy="716.59" r="1.10" fill="none" stroke="#5a5a5a" stroke-width="0.5" />
<circle cx="193.38" cy="716.60" r="1.10" fill="none" stroke="#5a5a5a" stroke-width="0.5" />
<circle cx="196.00" cy="716.60" r="1.10" fill="none" stroke="#5a5a5a" stroke-width="0.5" />
<circle cx="198.62" cy="716.60" r="1.10" fill="none" stroke="#5a5a5a" stroke-width="0.5" />
<circle cx="201.23" cy="716.60" r="1.10" fill="none" stroke="#5a5a5a" stroke-width="0.5" />
<circle cx="203.85" cy="716.60" r="1.10" fill="none" stroke="#5a5a5a" stroke-width="0.5" />
<circle cx="206.47" cy="716.60" r="1.10" fill="none" stroke="#5a5a5a" stroke-width="0.5" />
<circle cx="209.09" cy="716.60" r="1.10" fill="none" stroke="#5a5a5a" stroke-width="0.5" />
<circle cx="211.70" cy="716.60" r="1.10" fill="none" stroke="#5a5a5a" stroke-width="0.5" />
<circle cx="214.32" cy="716.60" r="1.10" fill="none" stroke="#5a5a5a" stroke-width="0.5" />
<circle cx="216.94" cy="716.60" r="1.10" fill="none" stroke="#5a5a5a" stroke-width="0.5" />
<circle cx="219.56" cy="716.60" r="1.10" fill="none" stroke="#5a5a5a" stroke-width="0.5" />
<circle cx="222.17" cy="716.60" r="1.10" fill="none" stroke="#5a5a5a" stroke-width="0.5" />
<circle cx="224.79" cy="716.60" r="1.10" fill="none" stroke="#5a5a5a" stroke-width="0.5" />
<line x1="18.00" y1="717.30" x2="226.10" y2="717.30" stroke="#8a3a90" stroke-width="1.0" />
<path d="M18.0,786.4 L19.3,786.4 L20.6,786.4 L21.9,786.4 L23.2,786.4 L24.5,786.4 L25.9,786.4 L27.2,786.4 L28.5,786.4 L29.8,786.4 L31.1,786.4 L32.4,786.4 L33.7,786.4 L35.0,786.4 L36.3,786.4 L37.6,786.4 L38.9,786.4 L40.2,786.4 L41.6,786.3 L42.9,786.3 L44.2,786.3 L45.5,786.3 L46.8,786.3 L48.1,786.2 L49.4,786.2 L50.7,786.1 L52.0,786.1 L53.3,786.0 L54.6,785.9 L56.0,785.8 L57.3,785.7 L58.6,785.5 L59.9,785.4 L61.2,785.2 L62.5,785.0 L63.8,784.7 L65.1,784.4 L66.4,784.1 L67.7,783.8 L69.0,783.4 L70.4,783.1 L71.7,782.6 L73.0,782.2 L74.3,781.7 L75.6,781.2 L76.9,780.7 L78.2,780.2 L79.5,779.7 L80.8,779.2 L82.1,778.6 L83.4,778.1 L84.7,777.7 L86.1,777.2 L87.4,776.8 L88.7,776.4 L90.0,776.1 L91.3,775.8 L92.6,775.6 L93.9,775.5 L95.2,775.4 L96.5,775.4 L97.8,775.5 L99.1,775.6 L100.5,775.8 L101.8,776.0 L103.1,776.3 L104.4,776.7 L105.7,777.1 L107.0,777.5 L108.3,778.0 L109.6,778.5 L110.9,779.0 L112.2,779.5 L113.5,780.1 L114.9,780.6 L116.2,781.1 L117.5,781.6 L118.8,782.1 L120.1,782.5 L121.4,783.0 L122.7,783.4 L124.0,783.7 L125.3,784.1 L126.6,784.4 L127.9,784.6 L129.2,784.9 L130.6,785.1 L131.9,785.3 L133.2,785.5 L134.5,785.6 L135.8,785.8 L137.1,785.9 L138.4,786.0 L139.7,786.0 L141.0,786.1 L142.3,786.2 L143.6,786.2 L145.0,786.3 L146.3,786.3 L147.6,786.3 L148.9,786.3 L150.2,786.3 L151.5,786.4 L152.8,786.4 L154.1,786.4 L155.4,786.4 L156.7,786.4 L158.0,786.4 L159.4,786.4 L160.7,786.4 L162.0,786.4 L163.3,786.4 L164.6,786.4 L165.9,786.4 L167.2,786.4 L168.5,786.4 L169.8,786.4 L171.1,786.4 L172.4,786.4 L173.7,786.4 L175.1,786.4 L176.4,786.4 L177.7,786.4 L179.0,786.4 L180.3,786.4 L181.6,786.4 L182.9,786.4 L184.2,786.4 L185.5,786.4 L186.8,786.4 L188.1,786.4 L189.5,786.4 L190.8,786.4 L192.1,786.4 L193.4,786.4 L194.7,786.4 L196.0,786.4 L197.3,786.4 L198.6,786.4 L199.9,786.4 L201.2,786.4 L202.5,786.4 L203.9,786.4 L205.2,786.4 L206.5,786.4 L207.8,786.4 L209.1,786.4 L210.4,786.4 L211.7,786.4 L213.0,786.4 L214.3,786.4 L215.6,786.4 L216.9,786.4 L218.2,786.4 L219.6,786.4 L220.9,786.4 L222.2,786.4 L223.5,786.4 L224.8,786.4 L226.1,786.4 Z" stroke="#8a4a98" stroke-width="0.6" fill="url(#gHyd)" fill-opacity="0.85"/>
<path d="M18.0,786.4 L19.3,786.4 L20.6,786.4 L21.9,786.4 L23.2,786.4 L24.5,786.4 L25.9,786.4 L27.2,786.4 L28.5,786.4 L29.8,786.4 L31.1,786.4 L32.4,786.4 L33.7,786.4 L35.0,786.4 L36.3,786.4 L37.6,786.4 L38.9,786.4 L40.2,786.4 L41.6,786.4 L42.9,786.4 L44.2,786.4 L45.5,786.4 L46.8,786.4 L48.1,786.4 L49.4,786.4 L50.7,786.4 L52.0,786.4 L53.3,786.4 L54.6,786.4 L56.0,786.4 L57.3,786.4 L58.6,786.4 L59.9,786.4 L61.2,786.4 L62.5,786.4 L63.8,786.4 L65.1,786.4 L66.4,786.4 L67.7,786.4 L69.0,786.4 L70.4,786.4 L71.7,786.4 L73.0,786.4 L74.3,786.4 L75.6,786.4 L76.9,786.4 L78.2,786.4 L79.5,786.4 L80.8,786.4 L82.1,786.4 L83.4,786.4 L84.7,786.4 L86.1,786.4 L87.4,786.4 L88.7,786.4 L90.0,786.4 L91.3,786.4 L92.6,786.4 L93.9,786.4 L95.2,786.4 L96.5,786.4 L97.8,786.3 L99.1,786.3 L100.5,786.3 L101.8,786.2 L103.1,786.1 L104.4,786.0 L105.7,785.9 L107.0,785.7 L108.3,785.5 L109.6,785.3 L110.9,785.0 L112.2,784.7 L113.5,784.3 L114.9,784.0 L116.2,783.7 L117.5,783.4 L118.8,783.2 L120.1,783.0 L121.4,782.9 L122.7,782.9 L124.0,783.0 L125.3,783.2 L126.6,783.4 L127.9,783.7 L129.2,784.0 L130.6,784.3 L131.9,784.7 L133.2,785.0 L134.5,785.3 L135.8,785.5 L137.1,785.7 L138.4,785.9 L139.7,786.0 L141.0,786.1 L142.3,786.2 L143.6,786.3 L145.0,786.3 L146.3,786.3 L147.6,786.4 L148.9,786.4 L150.2,786.4 L151.5,786.4 L152.8,786.4 L154.1,786.4 L155.4,786.4 L156.7,786.4 L158.0,786.4 L159.4,786.4 L160.7,786.4 L162.0,786.4 L163.3,786.4 L164.6,786.4 L165.9,786.4 L167.2,786.4 L168.5,786.4 L169.8,786.4 L171.1,786.4 L172.4,786.4 L173.7,786.4 L175.1,786.4 L176.4,786.4 L177.7,786.4 L179.0,786.4 L180.3,786.4 L181.6,786.4 L182.9,786.4 L184.2,786.4 L185.5,786.4 L186.8,786.4 L188.1,786.4 L189.5,786.4 L190.8,786.4 L192.1,786.4 L193.4,786.4 L194.7,786.4 L196.0,786.4 L197.3,786.4 L198.6,786.4 L199.9,786.4 L201.2,786.4 L202.5,786.4 L203.9,786.4 L205.2,786.4 L206.5,786.4 L207.8,786.4 L209.1,786.4 L210.4,786.4 L211.7,786.4 L213.0,786.4 L214.3,786.4 L215.6,786.4 L216.9,786.4 L218.2,786.4 L219.6,786.4 L220.9,786.4 L222.2,786.4 L223.5,786.4 L224.8,786.4 L226.1,786.4 Z" stroke="#d04848" stroke-width="0.6" fill="url(#gVac)" fill-opacity="0.85"/>
<path d="M18.0,786.4 L19.3,786.4 L20.6,786.4 L21.9,786.4 L23.2,786.4 L24.5,786.4 L25.9,786.4 L27.2,786.4 L28.5,786.4 L29.8,786.4 L31.1,786.4 L32.4,786.4 L33.7,786.4 L35.0,786.4 L36.3,786.4 L37.6,786.4 L38.9,786.4 L40.2,786.4 L41.6,786.4 L42.9,786.4 L44.2,786.4 L45.5,786.4 L46.8,786.4 L48.1,786.4 L49.4,786.4 L50.7,786.4 L52.0,786.4 L53.3,786.4 L54.6,786.4 L56.0,786.4 L57.3,786.4 L58.6,786.4 L59.9,786.4 L61.2,786.4 L62.5,786.4 L63.8,786.4 L65.1,786.4 L66.4,786.4 L67.7,786.4 L69.0,786.4 L70.4,786.4 L71.7,786.4 L73.0,786.4 L74.3,786.4 L75.6,786.4 L76.9,786.4 L78.2,786.4 L79.5,786.4 L80.8,786.4 L82.1,786.4 L83.4,786.4 L84.7,786.4 L86.1,786.4 L87.4,786.4 L88.7,786.4 L90.0,786.4 L91.3,786.4 L92.6,786.4 L93.9,786.4 L95.2,786.4 L96.5,786.4 L97.8,786.4 L99.1,786.4 L100.5,786.4 L101.8,786.4 L103.1,786.4 L104.4,786.4 L105.7,786.4 L107.0,786.4 L108.3,786.4 L109.6,786.4 L110.9,786.4 L112.2,786.4 L113.5,786.3 L114.9,786.3 L116.2,786.2 L117.5,786.1 L118.8,786.0 L120.1,785.8 L121.4,785.4 L122.7,784.9 L124.0,784.2 L125.3,783.2 L126.6,781.9 L127.9,780.2 L129.2,778.0 L130.6,775.4 L131.9,772.2 L133.2,768.5 L134.5,764.4 L135.8,759.9 L137.1,755.2 L138.4,750.5 L139.7,745.9 L141.0,741.9 L142.3,738.5 L143.6,735.9 L145.0,734.5 L146.3,734.1 L147.6,734.7 L148.9,735.9 L150.2,737.9 L151.5,740.5 L152.8,743.5 L154.1,747.0 L155.4,750.7 L156.7,754.5 L158.0,758.3 L159.4,762.0 L160.7,765.6 L162.0,768.8 L163.3,771.8 L164.6,774.5 L165.9,776.8 L167.2,778.8 L168.5,780.4 L169.8,781.8 L171.1,782.9 L172.4,783.8 L173.7,784.5 L175.1,785.0 L176.4,785.4 L177.7,785.7 L179.0,785.9 L180.3,786.1 L181.6,786.2 L182.9,786.2 L184.2,786.3 L185.5,786.3 L186.8,786.4 L188.1,786.4 L189.5,786.4 L190.8,786.4 L192.1,786.4 L193.4,786.4 L194.7,786.4 L196.0,786.4 L197.3,786.4 L198.6,786.4 L199.9,786.4 L201.2,786.4 L202.5,786.4 L203.9,786.4 L205.2,786.4 L206.5,786.4 L207.8,786.4 L209.1,786.4 L210.4,786.4 L211.7,786.4 L213.0,786.4 L214.3,786.4 L215.6,786.4 L216.9,786.4 L218.2,786.4 L219.6,786.4 L220.9,786.4 L222.2,786.4 L223.5,786.4 L224.8,786.4 L226.1,786.4 Z" stroke="#6a5aa8" stroke-width="0.6" fill="url(#gLat)" fill-opacity="0.85"/>
<path d="M18.0,786.4 L19.3,786.4 L20.6,786.4 L21.9,786.4 L23.2,786.4 L24.5,786.4 L25.9,786.4 L27.2,786.4 L28.5,786.4 L29.8,786.4 L31.1,786.4 L32.4,786.4 L33.7,786.4 L35.0,786.4 L36.3,786.4 L37.6,786.4 L38.9,786.4 L40.2,786.4 L41.6,786.3 L42.9,786.3 L44.2,786.3 L45.5,786.3 L46.8,786.3 L48.1,786.2 L49.4,786.2 L50.7,786.1 L52.0,786.1 L53.3,786.0 L54.6,785.9 L56.0,785.8 L57.3,785.7 L58.6,785.5 L59.9,785.4 L61.2,785.2 L62.5,785.0 L63.8,784.7 L65.1,784.4 L66.4,784.1 L67.7,783.8 L69.0,783.4 L70.4,783.1 L71.7,782.6 L73.0,782.2 L74.3,781.7 L75.6,781.2 L76.9,780.7 L78.2,780.2 L79.5,779.7 L80.8,779.2 L82.1,778.6 L83.4,778.1 L84.7,777.7 L86.1,777.2 L87.4,776.8 L88.7,776.4 L90.0,776.1 L91.3,775.8 L92.6,775.6 L93.9,775.5 L95.2,775.4 L96.5,775.4 L97.8,775.4 L99.1,775.5 L100.5,775.7 L101.8,775.9 L103.1,776.1 L104.4,776.3 L105.7,776.6 L107.0,776.9 L108.3,777.1 L109.6,777.4 L110.9,777.6 L112.2,777.8 L113.5,777.9 L114.9,778.1 L116.2,778.2 L117.5,778.3 L118.8,778.4 L120.1,778.5 L121.4,778.5 L122.7,778.4 L124.0,778.1 L125.3,777.6 L126.6,776.8 L127.9,775.7 L129.2,774.1 L130.6,772.0 L131.9,769.4 L133.2,766.2 L134.5,762.5 L135.8,758.4 L137.1,754.0 L138.4,749.5 L139.7,745.2 L141.0,741.3 L142.3,738.0 L143.6,735.6 L145.0,734.2 L146.3,734.0 L147.6,734.5 L148.9,735.9 L150.2,737.8 L151.5,740.4 L152.8,743.5 L154.1,746.9 L155.4,750.6 L156.7,754.5 L158.0,758.3 L159.4,762.0 L160.7,765.6 L162.0,768.8 L163.3,771.8 L164.6,774.5 L165.9,776.8 L167.2,778.8 L168.5,780.4 L169.8,781.8 L171.1,782.9 L172.4,783.8 L173.7,784.5 L175.1,785.0 L176.4,785.4 L177.7,785.7 L179.0,785.9 L180.3,786.1 L181.6,786.2 L182.9,786.2 L184.2,786.3 L185.5,786.3 L186.8,786.4 L188.1,786.4 L189.5,786.4 L190.8,786.4 L192.1,786.4 L193.4,786.4 L194.7,786.4 L196.0,786.4 L197.3,786.4 L198.6,786.4 L199.9,786.4 L201.2,786.4 L202.5,786.4 L203.9,786.4 L205.2,786.4 L206.5,786.4 L207.8,786.4 L209.1,786.4 L210.4,786.4 L211.7,786.4 L213.0,786.4 L214.3,786.4 L215.6,786.4 L216.9,786.4 L218.2,786.4 L219.6,786.4 L220.9,786.4 L222.2,786.4 L223.5,786.4 L224.8,786.4 L226.1,786.4" stroke="#c8303c" stroke-width="1.1" fill="none" />
<circle cx="18.00" cy="785.70" r="1.10" fill="none" stroke="#5a5a5a" stroke-width="0.5" />
<circle cx="20.62" cy="785.70" r="1.10" fill="none" stroke="#5a5a5a" stroke-width="0.5" />
<circle cx="23.24" cy="785.70" r="1.10" fill="none" stroke="#5a5a5a" stroke-width="0.5" />
<circle cx="25.85" cy="785.70" r="1.10" fill="none" stroke="#5a5a5a" stroke-width="0.5" />
<circle cx="28.47" cy="785.70" r="1.10" fill="none" stroke="#5a5a5a" stroke-width="0.5" />
<circle cx="31.09" cy="785.69" r="1.10" fill="none" stroke="#5a5a5a" stroke-width="0.5" />
<circle cx="33.71" cy="785.69" r="1.10" fill="none" stroke="#5a5a5a" stroke-width="0.5" />
<circle cx="36.32" cy="785.68" r="1.10" fill="none" stroke="#5a5a5a" stroke-width="0.5" />
<circle cx="38.94" cy="785.67" r="1.10" fill="none" stroke="#5a5a5a" stroke-width="0.5" />
<circle cx="41.56" cy="785.65" r="1.10" fill="none" stroke="#5a5a5a" stroke-width="0.5" />
<circle cx="44.18" cy="785.61" r="1.10" fill="none" stroke="#5a5a5a" stroke-width="0.5" />
<circle cx="46.79" cy="785.56" r="1.10" fill="none" stroke="#5a5a5a" stroke-width="0.5" />
<circle cx="49.41" cy="785.48" r="1.10" fill="none" stroke="#5a5a5a" stroke-width="0.5" />
<circle cx="52.03" cy="785.37" r="1.10" fill="none" stroke="#5a5a5a" stroke-width="0.5" />
<circle cx="54.65" cy="785.20" r="1.10" fill="none" stroke="#5a5a5a" stroke-width="0.5" />
<circle cx="57.26" cy="784.97" r="1.10" fill="none" stroke="#5a5a5a" stroke-width="0.5" />
<circle cx="59.88" cy="784.66" r="1.10" fill="none" stroke="#5a5a5a" stroke-width="0.5" />
<circle cx="62.50" cy="784.25" r="1.10" fill="none" stroke="#5a5a5a" stroke-width="0.5" />
<circle cx="65.12" cy="783.74" r="1.10" fill="none" stroke="#5a5a5a" stroke-width="0.5" />
<circle cx="67.73" cy="783.11" r="1.10" fill="none" stroke="#5a5a5a" stroke-width="0.5" />
<circle cx="70.35" cy="782.35" r="1.10" fill="none" stroke="#5a5a5a" stroke-width="0.5" />
<circle cx="72.97" cy="781.49" r="1.10" fill="none" stroke="#5a5a5a" stroke-width="0.5" />
<circle cx="75.59" cy="780.53" r="1.10" fill="none" stroke="#5a5a5a" stroke-width="0.5" />
<circle cx="78.21" cy="779.50" r="1.10" fill="none" stroke="#5a5a5a" stroke-width="0.5" />
<circle cx="80.82" cy="778.46" r="1.10" fill="none" stroke="#5a5a5a" stroke-width="0.5" />
<circle cx="83.44" cy="777.44" r="1.10" fill="none" stroke="#5a5a5a" stroke-width="0.5" />
<circle cx="86.06" cy="776.51" r="1.10" fill="none" stroke="#5a5a5a" stroke-width="0.5" />
<circle cx="88.68" cy="775.72" r="1.10" fill="none" stroke="#5a5a5a" stroke-width="0.5" />
<circle cx="91.29" cy="775.13" r="1.10" fill="none" stroke="#5a5a5a" stroke-width="0.5" />
<circle cx="93.91" cy="774.78" r="1.10" fill="none" stroke="#5a5a5a" stroke-width="0.5" />
<circle cx="96.53" cy="774.67" r="1.10" fill="none" stroke="#5a5a5a" stroke-width="0.5" />
<circle cx="99.15" cy="774.81" r="1.10" fill="none" stroke="#5a5a5a" stroke-width="0.5" />
<circle cx="101.76" cy="775.15" r="1.10" fill="none" stroke="#5a5a5a" stroke-width="0.5" />
<circle cx="104.38" cy="775.63" r="1.10" fill="none" stroke="#5a5a5a" stroke-width="0.5" />
<circle cx="107.00" cy="776.16" r="1.10" fill="none" stroke="#5a5a5a" stroke-width="0.5" />
<circle cx="109.62" cy="776.66" r="1.10" fill="none" stroke="#5a5a5a" stroke-width="0.5" />
<circle cx="112.23" cy="777.07" r="1.10" fill="none" stroke="#5a5a5a" stroke-width="0.5" />
<circle cx="114.85" cy="777.39" r="1.10" fill="none" stroke="#5a5a5a" stroke-width="0.5" />
<circle cx="117.47" cy="777.63" r="1.10" fill="none" stroke="#5a5a5a" stroke-width="0.5" />
<circle cx="120.09" cy="777.77" r="1.10" fill="none" stroke="#5a5a5a" stroke-width="0.5" />
<circle cx="122.70" cy="777.65" r="1.10" fill="none" stroke="#5a5a5a" stroke-width="0.5" />
<circle cx="125.32" cy="776.92" r="1.10" fill="none" stroke="#5a5a5a" stroke-width="0.5" />
<circle cx="127.94" cy="775.01" r="1.10" fill="none" stroke="#5a5a5a" stroke-width="0.5" />
<circle cx="130.56" cy="771.32" r="1.10" fill="none" stroke="#5a5a5a" stroke-width="0.5" />
<circle cx="133.17" cy="765.48" r="1.10" fill="none" stroke="#5a5a5a" stroke-width="0.5" />
<circle cx="135.79" cy="757.66" r="1.10" fill="none" stroke="#5a5a5a" stroke-width="0.5" />
<circle cx="138.41" cy="748.82" r="1.10" fill="none" stroke="#5a5a5a" stroke-width="0.5" />
<circle cx="141.03" cy="740.61" r="1.10" fill="none" stroke="#5a5a5a" stroke-width="0.5" />
<circle cx="143.65" cy="734.93" r="1.10" fill="none" stroke="#5a5a5a" stroke-width="0.5" />
<circle cx="146.26" cy="733.25" r="1.10" fill="none" stroke="#5a5a5a" stroke-width="0.5" />
<circle cx="148.88" cy="735.15" r="1.10" fill="none" stroke="#5a5a5a" stroke-width="0.5" />
<circle cx="151.50" cy="739.72" r="1.10" fill="none" stroke="#5a5a5a" stroke-width="0.5" />
<circle cx="154.12" cy="746.24" r="1.10" fill="none" stroke="#5a5a5a" stroke-width="0.5" />
<circle cx="156.73" cy="753.76" r="1.10" fill="none" stroke="#5a5a5a" stroke-width="0.5" />
<circle cx="159.35" cy="761.31" r="1.10" fill="none" stroke="#5a5a5a" stroke-width="0.5" />
<circle cx="161.97" cy="768.13" r="1.10" fill="none" stroke="#5a5a5a" stroke-width="0.5" />
<circle cx="164.59" cy="773.77" r="1.10" fill="none" stroke="#5a5a5a" stroke-width="0.5" />
<circle cx="167.20" cy="778.06" r="1.10" fill="none" stroke="#5a5a5a" stroke-width="0.5" />
<circle cx="169.82" cy="781.08" r="1.10" fill="none" stroke="#5a5a5a" stroke-width="0.5" />
<circle cx="172.44" cy="783.07" r="1.10" fill="none" stroke="#5a5a5a" stroke-width="0.5" />
<circle cx="175.06" cy="784.28" r="1.10" fill="none" stroke="#5a5a5a" stroke-width="0.5" />
<circle cx="177.67" cy="784.98" r="1.10" fill="none" stroke="#5a5a5a" stroke-width="0.5" />
<circle cx="180.29" cy="785.36" r="1.10" fill="none" stroke="#5a5a5a" stroke-width="0.5" />
<circle cx="182.91" cy="785.55" r="1.10" fill="none" stroke="#5a5a5a" stroke-width="0.5" />
<circle cx="185.53" cy="785.63" r="1.10" fill="none" stroke="#5a5a5a" stroke-width="0.5" />
<circle cx="188.14" cy="785.67" r="1.10" fill="none" stroke="#5a5a5a" stroke-width="0.5" />
<circle cx="190.76" cy="785.69" r="1.10" fill="none" stroke="#5a5a5a" stroke-width="0.5" />
<circle cx="193.38" cy="785.70" r="1.10" fill="none" stroke="#5a5a5a" stroke-width="0.5" />
<circle cx="196.00" cy="785.70" r="1.10" fill="none" stroke="#5a5a5a" stroke-width="0.5" />
<circle cx="198.62" cy="785.70" r="1.10" fill="none" stroke="#5a5a5a" stroke-width="0.5" />
<circle cx="201.23" cy="785.70" r="1.10" fill="none" stroke="#5a5a5a" stroke-width="0.5" />
<circle cx="203.85" cy="785.70" r="1.10" fill="none" stroke="#5a5a5a" stroke-width="0.5" />
<circle cx="206.47" cy="785.70" r="1.10" fill="none" stroke="#5a5a5a" stroke-width="0.5" />
<circle cx="209.09" cy="785.70" r="1.10" fill="none" stroke="#5a5a5a" stroke-width="0.5" />
<circle cx="211.70" cy="785.70" r="1.10" fill="none" stroke="#5a5a5a" stroke-width="0.5" />
<circle cx="214.32" cy="785.70" r="1.10" fill="none" stroke="#5a5a5a" stroke-width="0.5" />
<circle cx="216.94" cy="785.70" r="1.10" fill="none" stroke="#5a5a5a" stroke-width="0.5" />
<circle cx="219.56" cy="785.70" r="1.10" fill="none" stroke="#5a5a5a" stroke-width="0.5" />
<circle cx="222.17" cy="785.70" r="1.10" fill="none" stroke="#5a5a5a" stroke-width="0.5" />
<circle cx="224.79" cy="785.70" r="1.10" fill="none" stroke="#5a5a5a" stroke-width="0.5" />
<line x1="18.00" y1="786.40" x2="226.10" y2="786.40" stroke="#8a3a90" stroke-width="1.0" />
<line x1="18.00" y1="657.80" x2="226.10" y2="657.80" stroke="#666" stroke-width="1.0" />
<line x1="226.10" y1="657.80" x2="226.10" y2="793.30" stroke="#888" stroke-width="1.0" />
<line x1="18.00" y1="657.80" x2="18.00" y2="793.30" stroke="#666" stroke-width="1.0" />
<line x1="18.00" y1="724.90" x2="226.10" y2="724.90" stroke="#777" stroke-width="0.9" />
<line x1="18.00" y1="726.40" x2="226.10" y2="726.40" stroke="#777" stroke-width="0.9" />
<line x1="18.00" y1="793.30" x2="226.10" y2="793.30" stroke="#444" stroke-width="1.0" />
<line x1="18.00" y1="793.30" x2="18.00" y2="795.90" stroke="#444" stroke-width="0.9" />
<line x1="38.81" y1="793.30" x2="38.81" y2="794.80" stroke="#444" stroke-width="0.9" />
<line x1="59.62" y1="793.30" x2="59.62" y2="795.90" stroke="#444" stroke-width="0.9" />
<line x1="80.43" y1="793.30" x2="80.43" y2="794.80" stroke="#444" stroke-width="0.9" />
<line x1="101.24" y1="793.30" x2="101.24" y2="795.90" stroke="#444" stroke-width="0.9" />
<line x1="122.05" y1="793.30" x2="122.05" y2="794.80" stroke="#444" stroke-width="0.9" />
<line x1="142.86" y1="793.30" x2="142.86" y2="795.90" stroke="#444" stroke-width="0.9" />
<line x1="163.67" y1="793.30" x2="163.67" y2="794.80" stroke="#444" stroke-width="0.9" />
<line x1="184.48" y1="793.30" x2="184.48" y2="795.90" stroke="#444" stroke-width="0.9" />
<line x1="205.29" y1="793.30" x2="205.29" y2="794.80" stroke="#444" stroke-width="0.9" />
<line x1="226.10" y1="793.30" x2="226.10" y2="795.90" stroke="#444" stroke-width="0.9" />
<text x="18.00" y="807.60" font-size="9.3" font-weight="bold" text-anchor="middle" fill="#222" >536</text>
<text x="59.62" y="807.60" font-size="9.3" font-weight="bold" text-anchor="middle" fill="#222" >534</text>
<text x="101.24" y="807.60" font-size="9.3" font-weight="bold" text-anchor="middle" fill="#222" >532</text>
<text x="142.86" y="807.60" font-size="9.3" font-weight="bold" text-anchor="middle" fill="#222" >530</text>
<text x="184.48" y="807.60" font-size="9.3" font-weight="bold" text-anchor="middle" fill="#222" >528</text>
<text x="226.10" y="807.60" font-size="9.3" font-weight="bold" text-anchor="middle" fill="#222" >526</text>
<text x="122.00" y="820.60" font-size="8.8" font-weight="bold" text-anchor="middle" fill="#222" >Binding Energy (eV)</text>
<text transform="translate(8.90,726.00) rotate(-90)" font-size="8.8" font-weight="bold" text-anchor="middle" fill="#222" >Intensity (a.u.)</text>
<text x="208.20" y="667.30" font-size="7.5" font-weight="bold" text-anchor="middle" fill="#222" >O 1s</text>
<text x="204.80" y="680.80" font-size="7.4" font-weight="bold" text-anchor="middle" fill="#222" >TiO<tspan font-size="5.0" dy="1.6">2</tspan><tspan dy="-1.6">-600</tspan></text>
<text x="199.50" y="698.20" font-size="6.6" font-weight="bold" text-anchor="middle" fill="#222" >Lattice oxygen</text>
<text x="199.40" y="705.70" font-size="6.6" font-weight="bold" text-anchor="middle" fill="#222" >(54.29%)</text>
<text x="102.00" y="673.70" font-size="6.6" font-weight="bold" text-anchor="middle" fill="#222" >Oxygen vacancies</text>
<text x="102.40" y="681.60" font-size="6.6" font-weight="bold" text-anchor="middle" fill="#222" >(38.69%)</text>
<text x="50.40" y="695.10" font-size="6.6" font-weight="bold" text-anchor="middle" fill="#222" >Hydroxyl oxygen</text>
<text x="49.90" y="703.80" font-size="6.6" font-weight="bold" text-anchor="middle" fill="#222" >(7.91%)</text>
<text x="193.40" y="737.10" font-size="6.6" font-weight="bold" text-anchor="middle" fill="#222" >TiO<tspan font-size="4.6" dy="1.5">2</tspan><tspan dy="-1.5"> without HC</tspan></text>
<text x="100.30" y="746.20" font-size="6.6" font-weight="bold" text-anchor="middle" fill="#222" >Oxygen vacancies</text>
<text x="100.20" y="754.60" font-size="6.6" font-weight="bold" text-anchor="middle" fill="#222" >(5.51%)</text>
<text x="200.40" y="765.10" font-size="6.6" font-weight="bold" text-anchor="middle" fill="#222" >Lattice oxygen</text>
<text x="199.70" y="773.20" font-size="6.6" font-weight="bold" text-anchor="middle" fill="#222" >(73.13%)</text>
<text x="51.50" y="766.90" font-size="6.6" font-weight="bold" text-anchor="middle" fill="#222" >Hydroxyl oxygen</text>
<text x="50.80" y="775.00" font-size="6.6" font-weight="bold" text-anchor="middle" fill="#222" >(21.35%)</text>
<line x1="149.30" y1="676.50" x2="178.80" y2="702.50" stroke="#111" stroke-width="0.8" marker-end="url(#karrow)"/>
<line x1="110.40" y1="711.60" x2="100.20" y2="687.00" stroke="#111" stroke-width="0.8" marker-end="url(#karrow)"/>
<line x1="87.60" y1="716.80" x2="67.40" y2="700.70" stroke="#111" stroke-width="0.8" marker-end="url(#karrow)"/>
<line x1="150.70" y1="745.20" x2="183.50" y2="769.00" stroke="#111" stroke-width="0.8" marker-end="url(#karrow)"/>
<line x1="120.90" y1="784.80" x2="112.10" y2="756.50" stroke="#111" stroke-width="0.8" marker-end="url(#karrow)"/>
<line x1="90.40" y1="783.00" x2="69.40" y2="771.90" stroke="#111" stroke-width="0.8" marker-end="url(#karrow)"/>
<text x="241.00" y="660.40" font-size="15" font-weight="bold" fill="#2b1a17" >n</text>
<line x1="278.50" y1="656.70" x2="449.80" y2="656.70" stroke="#666" stroke-width="1.0" />
<line x1="449.80" y1="656.70" x2="449.80" y2="793.40" stroke="#aaa" stroke-width="1.0" />
<line x1="278.50" y1="656.70" x2="278.50" y2="793.40" stroke="#777" stroke-width="1.1" />
<line x1="278.50" y1="793.40" x2="449.80" y2="793.40" stroke="#555" stroke-width="1.0" />
<line x1="275.90" y1="780.20" x2="278.50" y2="780.20" stroke="#444" stroke-width="0.9" />
<line x1="275.90" y1="752.50" x2="278.50" y2="752.50" stroke="#444" stroke-width="0.9" />
<line x1="275.90" y1="724.80" x2="278.50" y2="724.80" stroke="#444" stroke-width="0.9" />
<line x1="275.90" y1="697.10" x2="278.50" y2="697.10" stroke="#444" stroke-width="0.9" />
<line x1="275.90" y1="669.40" x2="278.50" y2="669.40" stroke="#444" stroke-width="0.9" />
<line x1="277.00" y1="794.05" x2="278.50" y2="794.05" stroke="#444" stroke-width="0.9" />
<line x1="277.00" y1="766.35" x2="278.50" y2="766.35" stroke="#444" stroke-width="0.9" />
<line x1="277.00" y1="738.65" x2="278.50" y2="738.65" stroke="#444" stroke-width="0.9" />
<line x1="277.00" y1="710.95" x2="278.50" y2="710.95" stroke="#444" stroke-width="0.9" />
<line x1="277.00" y1="683.25" x2="278.50" y2="683.25" stroke="#444" stroke-width="0.9" />
<line x1="277.00" y1="655.55" x2="278.50" y2="655.55" stroke="#444" stroke-width="0.9" />
<line x1="278.10" y1="793.40" x2="278.10" y2="796.00" stroke="#444" stroke-width="0.9" />
<line x1="312.46" y1="793.40" x2="312.46" y2="796.00" stroke="#444" stroke-width="0.9" />
<line x1="346.82" y1="793.40" x2="346.82" y2="796.00" stroke="#444" stroke-width="0.9" />
<line x1="381.18" y1="793.40" x2="381.18" y2="796.00" stroke="#444" stroke-width="0.9" />
<line x1="415.54" y1="793.40" x2="415.54" y2="796.00" stroke="#444" stroke-width="0.9" />
<line x1="449.90" y1="793.40" x2="449.90" y2="796.00" stroke="#444" stroke-width="0.9" />
<line x1="295.28" y1="793.40" x2="295.28" y2="794.90" stroke="#444" stroke-width="0.9" />
<line x1="329.64" y1="793.40" x2="329.64" y2="794.90" stroke="#444" stroke-width="0.9" />
<line x1="364.00" y1="793.40" x2="364.00" y2="794.90" stroke="#444" stroke-width="0.9" />
<line x1="398.36" y1="793.40" x2="398.36" y2="794.90" stroke="#444" stroke-width="0.9" />
<line x1="432.72" y1="793.40" x2="432.72" y2="794.90" stroke="#444" stroke-width="0.9" />
<text x="272.00" y="784.10" font-size="9.3" font-weight="bold" text-anchor="end" fill="#333" >0</text>
<text x="272.00" y="756.40" font-size="9.3" font-weight="bold" text-anchor="end" fill="#333" >200</text>
<text x="272.00" y="728.70" font-size="9.3" font-weight="bold" text-anchor="end" fill="#333" >400</text>
<text x="272.00" y="701.00" font-size="9.3" font-weight="bold" text-anchor="end" fill="#333" >600</text>
<text x="272.00" y="673.30" font-size="9.3" font-weight="bold" text-anchor="end" fill="#333" >800</text>
<text x="278.90" y="807.50" font-size="9.3" font-weight="bold" text-anchor="middle" fill="#333" >120</text>
<text x="313.26" y="807.50" font-size="9.3" font-weight="bold" text-anchor="middle" fill="#333" >160</text>
<text x="347.62" y="807.50" font-size="9.3" font-weight="bold" text-anchor="middle" fill="#333" >200</text>
<text x="381.98" y="807.50" font-size="9.3" font-weight="bold" text-anchor="middle" fill="#333" >240</text>
<text x="416.34" y="807.50" font-size="9.3" font-weight="bold" text-anchor="middle" fill="#333" >280</text>
<text x="450.70" y="807.50" font-size="9.3" font-weight="bold" text-anchor="middle" fill="#333" >320</text>
<text x="364.80" y="820.40" font-size="8.75" font-weight="bold" text-anchor="middle" fill="#333" >Working temperature (°C)</text>
<text transform="translate(246.60,724.70) rotate(-90)" font-size="8.8" font-weight="bold" text-anchor="middle" fill="#333" >Response (R<tspan font-size="5.6" dy="1.6">a</tspan><tspan dy="-1.6">/R</tspan><tspan font-size="5.6" dy="1.6">g</tspan><tspan dy="-1.6">)</tspan></text>
<polyline points="303.87,778.95 325.35,779.65 346.82,775.77 368.30,770.37 389.77,768.01 411.25,774.38 432.72,775.35" stroke="#1a1a1a" stroke-width="1.4" fill="none" />
<line x1="303.87" y1="778.54" x2="303.87" y2="779.37" stroke="#1a1a1a" stroke-width="0.8" />
<line x1="302.27" y1="778.54" x2="305.47" y2="778.54" stroke="#1a1a1a" stroke-width="0.8" />
<line x1="302.27" y1="779.37" x2="305.47" y2="779.37" stroke="#1a1a1a" stroke-width="0.8" />
<rect x="302.77" y="777.85" width="2.20" height="2.20" fill="#1a1a1a" stroke="none" stroke-width="1" />
<line x1="325.35" y1="779.23" x2="325.35" y2="780.06" stroke="#1a1a1a" stroke-width="0.8" />
<line x1="323.75" y1="779.23" x2="326.95" y2="779.23" stroke="#1a1a1a" stroke-width="0.8" />
<line x1="323.75" y1="780.06" x2="326.95" y2="780.06" stroke="#1a1a1a" stroke-width="0.8" />
<rect x="324.25" y="778.55" width="2.20" height="2.20" fill="#1a1a1a" stroke="none" stroke-width="1" />
<line x1="346.82" y1="775.21" x2="346.82" y2="776.32" stroke="#1a1a1a" stroke-width="0.8" />
<line x1="345.22" y1="775.21" x2="348.42" y2="775.21" stroke="#1a1a1a" stroke-width="0.8" />
<line x1="345.22" y1="776.32" x2="348.42" y2="776.32" stroke="#1a1a1a" stroke-width="0.8" />
<rect x="345.72" y="774.67" width="2.20" height="2.20" fill="#1a1a1a" stroke="none" stroke-width="1" />
<line x1="368.30" y1="769.81" x2="368.30" y2="770.92" stroke="#1a1a1a" stroke-width="0.8" />
<line x1="366.69" y1="769.81" x2="369.90" y2="769.81" stroke="#1a1a1a" stroke-width="0.8" />
<line x1="366.69" y1="770.92" x2="369.90" y2="770.92" stroke="#1a1a1a" stroke-width="0.8" />
<rect x="367.19" y="769.27" width="2.20" height="2.20" fill="#1a1a1a" stroke="none" stroke-width="1" />
<line x1="389.77" y1="767.32" x2="389.77" y2="768.70" stroke="#1a1a1a" stroke-width="0.8" />
<line x1="388.17" y1="767.32" x2="391.37" y2="767.32" stroke="#1a1a1a" stroke-width="0.8" />
<line x1="388.17" y1="768.70" x2="391.37" y2="768.70" stroke="#1a1a1a" stroke-width="0.8" />
<rect x="388.67" y="766.91" width="2.20" height="2.20" fill="#1a1a1a" stroke="none" stroke-width="1" />
<line x1="411.25" y1="773.83" x2="411.25" y2="774.94" stroke="#1a1a1a" stroke-width="0.8" />
<line x1="409.64" y1="773.83" x2="412.85" y2="773.83" stroke="#1a1a1a" stroke-width="0.8" />
<line x1="409.64" y1="774.94" x2="412.85" y2="774.94" stroke="#1a1a1a" stroke-width="0.8" />
<rect x="410.14" y="773.28" width="2.20" height="2.20" fill="#1a1a1a" stroke="none" stroke-width="1" />
<line x1="432.72" y1="774.94" x2="432.72" y2="775.77" stroke="#1a1a1a" stroke-width="0.8" />
<line x1="431.12" y1="774.94" x2="434.32" y2="774.94" stroke="#1a1a1a" stroke-width="0.8" />
<line x1="431.12" y1="775.77" x2="434.32" y2="775.77" stroke="#1a1a1a" stroke-width="0.8" />
<rect x="431.62" y="774.25" width="2.20" height="2.20" fill="#1a1a1a" stroke="none" stroke-width="1" />
<polyline points="303.87,778.12 325.35,770.23 346.82,766.77 368.30,730.06 389.77,721.34 411.25,745.16 432.72,761.92" stroke="#3a9a4a" stroke-width="1.4" fill="none" />
<line x1="303.87" y1="777.43" x2="303.87" y2="778.82" stroke="#3a9a4a" stroke-width="0.8" />
<line x1="302.27" y1="777.43" x2="305.47" y2="777.43" stroke="#3a9a4a" stroke-width="0.8" />
<line x1="302.27" y1="778.82" x2="305.47" y2="778.82" stroke="#3a9a4a" stroke-width="0.8" />
<rect x="302.77" y="777.02" width="2.20" height="2.20" fill="#3a9a4a" stroke="none" stroke-width="1" />
<line x1="325.35" y1="769.12" x2="325.35" y2="771.34" stroke="#3a9a4a" stroke-width="0.8" />
<line x1="323.75" y1="769.12" x2="326.95" y2="769.12" stroke="#3a9a4a" stroke-width="0.8" />
<line x1="323.75" y1="771.34" x2="326.95" y2="771.34" stroke="#3a9a4a" stroke-width="0.8" />
<rect x="324.25" y="769.13" width="2.20" height="2.20" fill="#3a9a4a" stroke="none" stroke-width="1" />
<line x1="346.82" y1="765.66" x2="346.82" y2="767.87" stroke="#3a9a4a" stroke-width="0.8" />
<line x1="345.22" y1="765.66" x2="348.42" y2="765.66" stroke="#3a9a4a" stroke-width="0.8" />
<line x1="345.22" y1="767.87" x2="348.42" y2="767.87" stroke="#3a9a4a" stroke-width="0.8" />
<rect x="345.72" y="765.67" width="2.20" height="2.20" fill="#3a9a4a" stroke="none" stroke-width="1" />
<line x1="368.30" y1="728.40" x2="368.30" y2="731.73" stroke="#3a9a4a" stroke-width="0.8" />
<line x1="366.69" y1="728.40" x2="369.90" y2="728.40" stroke="#3a9a4a" stroke-width="0.8" />
<line x1="366.69" y1="731.73" x2="369.90" y2="731.73" stroke="#3a9a4a" stroke-width="0.8" />
<rect x="367.19" y="728.96" width="2.20" height="2.20" fill="#3a9a4a" stroke="none" stroke-width="1" />
<line x1="389.77" y1="719.95" x2="389.77" y2="722.72" stroke="#3a9a4a" stroke-width="0.8" />
<line x1="388.17" y1="719.95" x2="391.37" y2="719.95" stroke="#3a9a4a" stroke-width="0.8" />
<line x1="388.17" y1="722.72" x2="391.37" y2="722.72" stroke="#3a9a4a" stroke-width="0.8" />
<rect x="388.67" y="720.24" width="2.20" height="2.20" fill="#3a9a4a" stroke="none" stroke-width="1" />
<line x1="411.25" y1="743.77" x2="411.25" y2="746.54" stroke="#3a9a4a" stroke-width="0.8" />
<line x1="409.64" y1="743.77" x2="412.85" y2="743.77" stroke="#3a9a4a" stroke-width="0.8" />
<line x1="409.64" y1="746.54" x2="412.85" y2="746.54" stroke="#3a9a4a" stroke-width="0.8" />
<rect x="410.14" y="744.06" width="2.20" height="2.20" fill="#3a9a4a" stroke="none" stroke-width="1" />
<line x1="432.72" y1="760.81" x2="432.72" y2="763.03" stroke="#3a9a4a" stroke-width="0.8" />
<line x1="431.12" y1="760.81" x2="434.32" y2="760.81" stroke="#3a9a4a" stroke-width="0.8" />
<line x1="431.12" y1="763.03" x2="434.32" y2="763.03" stroke="#3a9a4a" stroke-width="0.8" />
<rect x="431.62" y="760.82" width="2.20" height="2.20" fill="#3a9a4a" stroke="none" stroke-width="1" />
<polyline points="303.87,777.71 325.35,767.74 346.82,761.50 368.30,697.79 389.77,670.09 411.25,736.71 432.72,748.48" stroke="#e02838" stroke-width="1.4" fill="none" />
<line x1="303.87" y1="777.01" x2="303.87" y2="778.40" stroke="#e02838" stroke-width="0.8" />
<line x1="302.27" y1="777.01" x2="305.47" y2="777.01" stroke="#e02838" stroke-width="0.8" />
<line x1="302.27" y1="778.40" x2="305.47" y2="778.40" stroke="#e02838" stroke-width="0.8" />
<rect x="302.77" y="776.61" width="2.20" height="2.20" fill="#e02838" stroke="none" stroke-width="1" />
<line x1="325.35" y1="766.63" x2="325.35" y2="768.84" stroke="#e02838" stroke-width="0.8" />
<line x1="323.75" y1="766.63" x2="326.95" y2="766.63" stroke="#e02838" stroke-width="0.8" />
<line x1="323.75" y1="768.84" x2="326.95" y2="768.84" stroke="#e02838" stroke-width="0.8" />
<rect x="324.25" y="766.63" width="2.20" height="2.20" fill="#e02838" stroke="none" stroke-width="1" />
<line x1="346.82" y1="760.39" x2="346.82" y2="762.61" stroke="#e02838" stroke-width="0.8" />
<line x1="345.22" y1="760.39" x2="348.42" y2="760.39" stroke="#e02838" stroke-width="0.8" />
<line x1="345.22" y1="762.61" x2="348.42" y2="762.61" stroke="#e02838" stroke-width="0.8" />
<rect x="345.72" y="760.40" width="2.20" height="2.20" fill="#e02838" stroke="none" stroke-width="1" />
<line x1="368.30" y1="696.13" x2="368.30" y2="699.45" stroke="#e02838" stroke-width="0.8" />
<line x1="366.69" y1="696.13" x2="369.90" y2="696.13" stroke="#e02838" stroke-width="0.8" />
<line x1="366.69" y1="699.45" x2="369.90" y2="699.45" stroke="#e02838" stroke-width="0.8" />
<rect x="367.19" y="696.69" width="2.20" height="2.20" fill="#e02838" stroke="none" stroke-width="1" />
<line x1="389.77" y1="668.15" x2="389.77" y2="672.03" stroke="#e02838" stroke-width="0.8" />
<line x1="388.17" y1="668.15" x2="391.37" y2="668.15" stroke="#e02838" stroke-width="0.8" />
<line x1="388.17" y1="672.03" x2="391.37" y2="672.03" stroke="#e02838" stroke-width="0.8" />
<rect x="388.67" y="668.99" width="2.20" height="2.20" fill="#e02838" stroke="none" stroke-width="1" />
<line x1="411.25" y1="735.33" x2="411.25" y2="738.10" stroke="#e02838" stroke-width="0.8" />
<line x1="409.64" y1="735.33" x2="412.85" y2="735.33" stroke="#e02838" stroke-width="0.8" />
<line x1="409.64" y1="738.10" x2="412.85" y2="738.10" stroke="#e02838" stroke-width="0.8" />
<rect x="410.14" y="735.61" width="2.20" height="2.20" fill="#e02838" stroke="none" stroke-width="1" />
<line x1="432.72" y1="746.82" x2="432.72" y2="750.15" stroke="#e02838" stroke-width="0.8" />
<line x1="431.12" y1="746.82" x2="434.32" y2="746.82" stroke="#e02838" stroke-width="0.8" />
<line x1="431.12" y1="750.15" x2="434.32" y2="750.15" stroke="#e02838" stroke-width="0.8" />
<rect x="431.62" y="747.38" width="2.20" height="2.20" fill="#e02838" stroke="none" stroke-width="1" />
<polyline points="303.87,778.54 325.35,771.89 346.82,763.86 368.30,736.43 389.77,741.14 411.25,761.23 432.72,764.27" stroke="#3858c0" stroke-width="1.4" fill="none" />
<line x1="303.87" y1="777.85" x2="303.87" y2="779.23" stroke="#3858c0" stroke-width="0.8" />
<line x1="302.27" y1="777.85" x2="305.47" y2="777.85" stroke="#3858c0" stroke-width="0.8" />
<line x1="302.27" y1="779.23" x2="305.47" y2="779.23" stroke="#3858c0" stroke-width="0.8" />
<rect x="302.77" y="777.44" width="2.20" height="2.20" fill="#3858c0" stroke="none" stroke-width="1" />
<line x1="325.35" y1="770.78" x2="325.35" y2="773.00" stroke="#3858c0" stroke-width="0.8" />
<line x1="323.75" y1="770.78" x2="326.95" y2="770.78" stroke="#3858c0" stroke-width="0.8" />
<line x1="323.75" y1="773.00" x2="326.95" y2="773.00" stroke="#3858c0" stroke-width="0.8" />
<rect x="324.25" y="770.79" width="2.20" height="2.20" fill="#3858c0" stroke="none" stroke-width="1" />
<line x1="346.82" y1="762.75" x2="346.82" y2="764.97" stroke="#3858c0" stroke-width="0.8" />
<line x1="345.22" y1="762.75" x2="348.42" y2="762.75" stroke="#3858c0" stroke-width="0.8" />
<line x1="345.22" y1="764.97" x2="348.42" y2="764.97" stroke="#3858c0" stroke-width="0.8" />
<rect x="345.72" y="762.76" width="2.20" height="2.20" fill="#3858c0" stroke="none" stroke-width="1" />
<line x1="368.30" y1="734.77" x2="368.30" y2="738.10" stroke="#3858c0" stroke-width="0.8" />
<line x1="366.69" y1="734.77" x2="369.90" y2="734.77" stroke="#3858c0" stroke-width="0.8" />
<line x1="366.69" y1="738.10" x2="369.90" y2="738.10" stroke="#3858c0" stroke-width="0.8" />
<rect x="367.19" y="735.33" width="2.20" height="2.20" fill="#3858c0" stroke="none" stroke-width="1" />
<line x1="389.77" y1="739.20" x2="389.77" y2="743.08" stroke="#3858c0" stroke-width="0.8" />
<line x1="388.17" y1="739.20" x2="391.37" y2="739.20" stroke="#3858c0" stroke-width="0.8" />
<line x1="388.17" y1="743.08" x2="391.37" y2="743.08" stroke="#3858c0" stroke-width="0.8" />
<rect x="388.67" y="740.04" width="2.20" height="2.20" fill="#3858c0" stroke="none" stroke-width="1" />
<line x1="411.25" y1="759.84" x2="411.25" y2="762.61" stroke="#3858c0" stroke-width="0.8" />
<line x1="409.64" y1="759.84" x2="412.85" y2="759.84" stroke="#3858c0" stroke-width="0.8" />
<line x1="409.64" y1="762.61" x2="412.85" y2="762.61" stroke="#3858c0" stroke-width="0.8" />
<rect x="410.14" y="760.13" width="2.20" height="2.20" fill="#3858c0" stroke="none" stroke-width="1" />
<line x1="432.72" y1="762.61" x2="432.72" y2="765.93" stroke="#3858c0" stroke-width="0.8" />
<line x1="431.12" y1="762.61" x2="434.32" y2="762.61" stroke="#3858c0" stroke-width="0.8" />
<line x1="431.12" y1="765.93" x2="434.32" y2="765.93" stroke="#3858c0" stroke-width="0.8" />
<rect x="431.62" y="763.17" width="2.20" height="2.20" fill="#3858c0" stroke="none" stroke-width="1" />
<line x1="286.40" y1="666.40" x2="301.50" y2="666.40" stroke="#1a1a1a" stroke-width="1.4" />
<text x="306.20" y="669.50" font-size="8.6" font-weight="bold" fill="#333" >Pure-TiO<tspan font-size="5.6" dy="2">2</tspan></text>
<line x1="286.40" y1="678.60" x2="301.50" y2="678.60" stroke="#3a9a4a" stroke-width="1.4" />
<text x="306.20" y="681.70" font-size="8.6" font-weight="bold" fill="#333" >TiO<tspan font-size="5.6" dy="2">2</tspan><tspan dy="-2">-550</tspan></text>
<line x1="286.40" y1="690.90" x2="301.50" y2="690.90" stroke="#e02838" stroke-width="1.4" />
<text x="306.20" y="694.00" font-size="8.6" font-weight="bold" fill="#333" >TiO<tspan font-size="5.6" dy="2">2</tspan><tspan dy="-2">-600</tspan></text>
<line x1="286.40" y1="703.20" x2="301.50" y2="703.20" stroke="#3858c0" stroke-width="1.4" />
<text x="306.20" y="706.30" font-size="8.6" font-weight="bold" fill="#333" >TiO<tspan font-size="5.6" dy="2">2</tspan><tspan dy="-2">-650</tspan></text>
<text x="460.00" y="660.40" font-size="15" font-weight="bold" fill="#2b1a17" >o</text>
<line x1="504.30" y1="657.00" x2="675.70" y2="657.00" stroke="#666" stroke-width="1.0" />
<line x1="675.70" y1="657.00" x2="675.70" y2="793.70" stroke="#aaa" stroke-width="1.0" />
<line x1="504.30" y1="657.00" x2="504.30" y2="793.70" stroke="#777" stroke-width="1.1" />
<line x1="504.30" y1="793.70" x2="675.70" y2="793.70" stroke="#555" stroke-width="1.0" />
<line x1="501.70" y1="795.30" x2="504.30" y2="795.30" stroke="#444" stroke-width="0.9" />
<line x1="503.00" y1="786.63" x2="504.30" y2="786.63" stroke="#444" stroke-width="0.6" />
<line x1="503.00" y1="781.56" x2="504.30" y2="781.56" stroke="#444" stroke-width="0.6" />
<line x1="503.00" y1="777.96" x2="504.30" y2="777.96" stroke="#444" stroke-width="0.6" />
<line x1="503.00" y1="775.17" x2="504.30" y2="775.17" stroke="#444" stroke-width="0.6" />
<line x1="503.00" y1="772.89" x2="504.30" y2="772.89" stroke="#444" stroke-width="0.6" />
<line x1="503.00" y1="770.96" x2="504.30" y2="770.96" stroke="#444" stroke-width="0.6" />
<line x1="503.00" y1="769.29" x2="504.30" y2="769.29" stroke="#444" stroke-width="0.6" />
<line x1="503.00" y1="767.82" x2="504.30" y2="767.82" stroke="#444" stroke-width="0.6" />
<text x="498.80" y="798.60" font-size="9.0" font-weight="bold" text-anchor="end" fill="#333" >1×10<tspan font-size="6.0" dy="-3.6">5</tspan></text>
<line x1="501.70" y1="766.50" x2="504.30" y2="766.50" stroke="#444" stroke-width="0.9" />
<line x1="503.00" y1="757.83" x2="504.30" y2="757.83" stroke="#444" stroke-width="0.6" />
<line x1="503.00" y1="752.76" x2="504.30" y2="752.76" stroke="#444" stroke-width="0.6" />
<line x1="503.00" y1="749.16" x2="504.30" y2="749.16" stroke="#444" stroke-width="0.6" />
<line x1="503.00" y1="746.37" x2="504.30" y2="746.37" stroke="#444" stroke-width="0.6" />
<line x1="503.00" y1="744.09" x2="504.30" y2="744.09" stroke="#444" stroke-width="0.6" />
<line x1="503.00" y1="742.16" x2="504.30" y2="742.16" stroke="#444" stroke-width="0.6" />
<line x1="503.00" y1="740.49" x2="504.30" y2="740.49" stroke="#444" stroke-width="0.6" />
<line x1="503.00" y1="739.02" x2="504.30" y2="739.02" stroke="#444" stroke-width="0.6" />
<text x="498.80" y="769.80" font-size="9.0" font-weight="bold" text-anchor="end" fill="#333" >1×10<tspan font-size="6.0" dy="-3.6">6</tspan></text>
<line x1="501.70" y1="737.70" x2="504.30" y2="737.70" stroke="#444" stroke-width="0.9" />
<line x1="503.00" y1="729.03" x2="504.30" y2="729.03" stroke="#444" stroke-width="0.6" />
<line x1="503.00" y1="723.96" x2="504.30" y2="723.96" stroke="#444" stroke-width="0.6" />
<line x1="503.00" y1="720.36" x2="504.30" y2="720.36" stroke="#444" stroke-width="0.6" />
<line x1="503.00" y1="717.57" x2="504.30" y2="717.57" stroke="#444" stroke-width="0.6" />
<line x1="503.00" y1="715.29" x2="504.30" y2="715.29" stroke="#444" stroke-width="0.6" />
<line x1="503.00" y1="713.36" x2="504.30" y2="713.36" stroke="#444" stroke-width="0.6" />
<line x1="503.00" y1="711.69" x2="504.30" y2="711.69" stroke="#444" stroke-width="0.6" />
<line x1="503.00" y1="710.22" x2="504.30" y2="710.22" stroke="#444" stroke-width="0.6" />
<text x="498.80" y="741.00" font-size="9.0" font-weight="bold" text-anchor="end" fill="#333" >1×10<tspan font-size="6.0" dy="-3.6">7</tspan></text>
<line x1="501.70" y1="708.90" x2="504.30" y2="708.90" stroke="#444" stroke-width="0.9" />
<line x1="503.00" y1="700.23" x2="504.30" y2="700.23" stroke="#444" stroke-width="0.6" />
<line x1="503.00" y1="695.16" x2="504.30" y2="695.16" stroke="#444" stroke-width="0.6" />
<line x1="503.00" y1="691.56" x2="504.30" y2="691.56" stroke="#444" stroke-width="0.6" />
<line x1="503.00" y1="688.77" x2="504.30" y2="688.77" stroke="#444" stroke-width="0.6" />
<line x1="503.00" y1="686.49" x2="504.30" y2="686.49" stroke="#444" stroke-width="0.6" />
<line x1="503.00" y1="684.56" x2="504.30" y2="684.56" stroke="#444" stroke-width="0.6" />
<line x1="503.00" y1="682.89" x2="504.30" y2="682.89" stroke="#444" stroke-width="0.6" />
<line x1="503.00" y1="681.42" x2="504.30" y2="681.42" stroke="#444" stroke-width="0.6" />
<text x="498.80" y="712.20" font-size="9.0" font-weight="bold" text-anchor="end" fill="#333" >1×10<tspan font-size="6.0" dy="-3.6">8</tspan></text>
<line x1="501.70" y1="680.10" x2="504.30" y2="680.10" stroke="#444" stroke-width="0.9" />
<line x1="503.00" y1="671.43" x2="504.30" y2="671.43" stroke="#444" stroke-width="0.6" />
<line x1="503.00" y1="666.36" x2="504.30" y2="666.36" stroke="#444" stroke-width="0.6" />
<line x1="503.00" y1="662.76" x2="504.30" y2="662.76" stroke="#444" stroke-width="0.6" />
<line x1="503.00" y1="659.97" x2="504.30" y2="659.97" stroke="#444" stroke-width="0.6" />
<line x1="503.00" y1="657.69" x2="504.30" y2="657.69" stroke="#444" stroke-width="0.6" />
<text x="498.80" y="683.40" font-size="9.0" font-weight="bold" text-anchor="end" fill="#333" >1×10<tspan font-size="6.0" dy="-3.6">9</tspan></text>
<line x1="504.20" y1="793.70" x2="504.20" y2="796.30" stroke="#444" stroke-width="0.9" />
<text x="504.70" y="807.40" font-size="9.3" font-weight="bold" text-anchor="middle" fill="#333" >0</text>
<line x1="532.78" y1="793.70" x2="532.78" y2="796.30" stroke="#444" stroke-width="0.9" />
<text x="533.28" y="807.40" font-size="9.3" font-weight="bold" text-anchor="middle" fill="#333" >100</text>
<line x1="561.36" y1="793.70" x2="561.36" y2="796.30" stroke="#444" stroke-width="0.9" />
<text x="561.86" y="807.40" font-size="9.3" font-weight="bold" text-anchor="middle" fill="#333" >200</text>
<line x1="589.94" y1="793.70" x2="589.94" y2="796.30" stroke="#444" stroke-width="0.9" />
<text x="590.44" y="807.40" font-size="9.3" font-weight="bold" text-anchor="middle" fill="#333" >300</text>
<line x1="618.52" y1="793.70" x2="618.52" y2="796.30" stroke="#444" stroke-width="0.9" />
<text x="619.02" y="807.40" font-size="9.3" font-weight="bold" text-anchor="middle" fill="#333" >400</text>
<line x1="647.10" y1="793.70" x2="647.10" y2="796.30" stroke="#444" stroke-width="0.9" />
<text x="647.60" y="807.40" font-size="9.3" font-weight="bold" text-anchor="middle" fill="#333" >500</text>
<line x1="675.68" y1="793.70" x2="675.68" y2="796.30" stroke="#444" stroke-width="0.9" />
<text x="676.18" y="807.40" font-size="9.3" font-weight="bold" text-anchor="middle" fill="#333" >600</text>
<line x1="518.49" y1="793.70" x2="518.49" y2="795.20" stroke="#444" stroke-width="0.9" />
<line x1="547.07" y1="793.70" x2="547.07" y2="795.20" stroke="#444" stroke-width="0.9" />
<line x1="575.65" y1="793.70" x2="575.65" y2="795.20" stroke="#444" stroke-width="0.9" />
<line x1="604.23" y1="793.70" x2="604.23" y2="795.20" stroke="#444" stroke-width="0.9" />
<line x1="632.81" y1="793.70" x2="632.81" y2="795.20" stroke="#444" stroke-width="0.9" />
<line x1="661.39" y1="793.70" x2="661.39" y2="795.20" stroke="#444" stroke-width="0.9" />
<text x="583.10" y="820.60" font-size="8.8" font-weight="bold" text-anchor="middle" fill="#333" >Time (s)</text>
<text transform="translate(468.30,724.60) rotate(-90)" font-size="8.8" font-weight="bold" text-anchor="middle" fill="#333" >Resistance (Ω)</text>
<polyline points="504.20,693.09 504.63,693.18 505.06,693.22 505.49,693.33 505.91,693.20 506.34,693.33 506.77,692.71 507.20,693.02 507.63,693.36 508.06,693.17 508.49,693.35 508.92,692.80 509.34,693.06 509.77,692.91 510.20,693.13 510.63,693.15 511.06,692.77 511.49,692.92 511.92,692.97 512.35,693.42 512.77,693.32 513.20,692.90 513.63,693.36 514.06,692.90 514.49,693.25 514.92,692.91 515.35,692.83 515.77,693.44 516.20,692.99 516.63,693.00 517.06,693.54 517.49,693.47 517.92,693.07 518.35,693.55 518.78,693.26 519.20,693.36 519.63,693.04 520.06,693.56 520.49,693.39 520.92,693.59 521.35,693.55 521.78,693.14 522.21,693.19 522.63,693.06 523.06,693.05 523.49,693.00 523.92,693.17 524.35,693.39 524.78,692.98 525.21,693.46 525.63,693.23 526.06,693.21 526.49,693.58 526.92,693.35 527.35,693.24 527.78,693.36 528.21,693.53 528.64,693.08 529.06,693.73 529.49,693.07 529.92,693.58 530.35,693.66 530.78,693.09 531.21,693.63 531.64,693.34 532.07,693.50 532.49,693.11 532.92,693.14 533.35,693.24 533.78,693.79 534.21,693.26 534.41,693.66 534.61,693.78 534.81,693.80 535.01,693.38 535.21,693.39 535.41,693.51 535.61,693.69 535.81,694.53 536.01,696.49 536.21,698.04 536.41,699.60 536.61,700.88 536.81,703.61 537.01,705.11 537.21,707.39 537.41,709.68 537.61,711.99 537.81,713.69 538.01,715.85 538.21,716.89 538.41,718.03 538.61,719.33 538.81,720.53 539.01,721.76 539.21,723.11 539.41,724.79 539.61,726.30 539.81,727.02 540.01,727.85 540.21,728.90 540.41,728.98 540.61,729.28 540.81,729.56 541.01,730.20 541.21,730.76 541.41,730.89 541.61,731.26 541.81,731.40 542.01,732.39 542.21,732.17 542.41,732.88 542.61,733.52 542.81,733.41 543.01,734.23 543.21,734.77 543.41,734.94 543.61,735.45 543.81,735.14 544.01,735.50 544.21,735.43 544.41,736.04 544.61,735.79 544.81,736.03 545.01,736.54 545.21,736.57 545.41,736.78 545.61,736.55 545.81,736.70 546.01,737.00 546.21,736.96 546.41,736.96 546.61,737.16 546.81,737.11 547.01,737.41 547.21,737.96 547.41,738.07 547.61,737.97 547.81,738.01 548.01,738.03 548.21,737.98 548.41,738.24 548.61,738.73 548.81,738.92 549.01,738.69 549.21,739.12 549.41,739.24 549.61,739.32 549.81,739.43 550.01,739.62 550.21,739.48 550.41,739.84 550.61,739.68 550.81,739.95 551.01,740.28 551.21,740.36 551.41,740.21 551.61,740.79 551.81,740.72 552.01,740.80 552.21,740.53 552.41,741.03 552.61,740.96 552.81,741.38 553.01,741.37 553.21,741.74 553.41,741.75 553.61,741.99 553.81,741.73 554.01,741.97 554.21,742.08 554.42,742.18 554.62,741.89 554.82,742.27 555.02,742.33 555.22,742.24 555.42,742.49 555.62,742.51 555.82,742.24 556.02,742.29 556.22,742.08 556.42,742.59 556.62,742.70 556.82,742.42 557.02,742.60 557.22,742.66 557.42,742.71 557.62,742.36 557.82,742.83 558.02,742.73 558.22,742.83 558.42,742.69 558.62,742.88 558.82,743.02 559.02,742.96 559.22,743.06 559.42,742.62 559.62,742.75 559.82,742.99 560.02,743.17 560.22,742.91 560.42,743.28 560.62,743.28 560.82,742.91 561.02,743.25 561.22,743.12 561.42,743.03 561.62,743.13 561.82,743.30 562.02,743.24 562.22,743.29 562.42,743.22 562.62,743.56 562.82,743.54 563.02,743.74 563.22,743.77 563.42,743.56 563.62,744.07 563.82,743.47 564.02,743.80 564.22,743.75 564.42,743.88 564.62,743.71 564.82,744.26 565.02,743.97 565.22,743.78 565.42,744.22 565.62,743.90 565.82,744.25 566.02,744.15 566.22,744.36 566.42,744.66 566.62,744.60 566.82,744.36 567.02,744.68 567.22,744.60 567.42,744.45 567.62,744.33 567.82,744.69 568.02,744.70 568.22,745.02 568.42,745.05 568.62,744.83 568.82,744.67 569.02,745.08 569.22,744.48 569.42,744.58 569.62,744.93 569.82,744.99 570.02,744.68 570.22,745.05 570.42,745.26 570.62,744.93 570.82,744.99 571.02,744.87 571.22,744.95 571.42,745.45 571.62,745.06 571.82,745.49 572.02,745.49 572.22,745.29 572.42,745.08 572.62,745.61 572.82,745.30 573.02,745.27 573.22,745.23 573.42,745.72 573.62,745.40 573.82,745.28 574.02,745.44 574.22,745.22 574.42,745.59 574.62,745.49 574.82,745.42 575.02,745.78 575.22,745.84 575.42,745.30 575.62,745.69 575.82,745.53 576.02,746.02 576.22,745.94 576.42,745.59 576.62,745.63 576.82,745.58 577.02,746.19 577.22,745.73 577.42,745.98 577.62,745.91 577.82,746.05 578.02,746.05 578.22,746.17 578.42,745.76 578.62,746.24 578.82,745.94 579.02,746.13 579.22,746.02 579.42,746.02 579.62,746.21 579.82,746.19 580.02,746.14 580.22,746.44 580.42,746.35 580.62,745.99 580.82,746.17 581.02,746.34 581.22,746.69 581.42,746.69 581.62,746.48 581.82,746.13 582.02,746.69 582.22,746.47 582.42,746.60 582.62,746.72 582.82,746.69 583.02,746.59 583.22,746.90 583.42,746.54 583.62,746.55 583.82,746.87 584.02,746.42 584.22,746.50 584.42,746.88 584.62,746.35 584.82,746.89 585.02,746.80 585.22,746.62 585.42,746.52 585.62,746.87 585.82,746.97 586.02,746.44 586.22,746.68 586.42,746.73 586.62,746.70 586.82,746.59 587.02,746.47 587.22,746.78 587.42,746.95 587.63,746.43 587.83,746.55 588.03,746.97 588.23,746.95 588.43,746.87 588.63,746.43 588.83,746.92 589.03,747.11 589.23,747.13 589.43,746.92 589.63,746.47 589.83,747.03 590.03,746.60 590.23,746.91 590.43,747.13 590.63,746.96 590.83,746.56 591.03,746.68 591.23,747.12 591.43,746.59 591.63,746.92 591.83,746.79 592.03,746.62 592.23,746.94 592.43,746.54 592.63,746.60 592.83,746.79 593.03,746.58 593.23,746.58 593.43,746.94 593.63,747.07 593.83,747.17 594.03,746.65 594.23,746.87 594.43,746.79 594.63,746.99 594.83,746.92 595.03,747.24 595.23,746.85 595.43,746.64 595.63,747.09 595.83,746.71 596.03,747.06 596.23,746.97 596.43,747.26 596.63,747.02 596.83,747.07 597.03,746.82 597.23,747.03 597.43,746.83 597.63,747.19 597.83,747.04 598.03,746.78 598.23,746.86 598.43,746.97 598.63,747.24 598.83,746.86 599.03,747.25 599.23,747.22 599.43,746.83 599.63,747.25 599.83,746.86 600.03,746.89 600.23,747.23 600.43,747.00 600.63,747.45 600.83,747.19 601.03,747.09 601.23,747.43 601.43,746.91 601.63,747.41 601.83,746.95 602.03,747.03 602.23,747.60 602.43,747.42 602.63,747.11 602.83,747.05 603.03,747.66 603.23,747.46 603.43,747.58 603.63,747.11 603.83,747.46 604.03,747.29 604.23,747.21 604.43,747.29 604.63,747.50 604.83,747.33 605.03,747.37 605.23,747.20 605.43,747.70 605.63,747.59 605.83,747.71 606.03,747.46 606.23,747.76 606.43,747.54 606.63,747.60 606.83,747.60 607.03,747.73 607.23,747.50 607.43,747.30 607.63,747.27 607.83,747.40 608.03,747.30 608.23,747.91 608.43,747.63 608.63,747.84 608.83,747.32 609.03,747.66 609.23,747.96 609.43,747.79 609.63,747.67 609.83,747.70 610.03,747.46 610.23,747.51 610.43,747.52 610.63,747.69 610.83,747.70 611.03,748.06 611.23,747.56 611.43,747.65 611.63,747.68 611.83,747.61 612.03,747.71 612.23,747.68 612.43,747.87 612.63,747.56 612.83,748.20 613.03,747.82 613.23,748.23 613.43,748.07 613.63,748.07 613.83,747.94 614.03,748.28 614.23,747.72 614.43,748.11 614.63,747.86 614.83,748.14 615.03,748.19 615.23,747.81 615.43,747.84 615.63,747.73 615.83,747.89 616.03,747.79 616.23,748.03 616.43,748.45 616.63,748.04 616.83,748.03 617.03,748.16 617.23,748.05 617.43,748.38 617.63,748.39 617.83,748.02 618.03,748.10 618.23,748.42 618.43,738.70 618.63,728.59 618.83,718.95 619.03,712.33 619.23,704.65 619.43,699.45 619.63,699.12 619.83,698.02 620.03,696.92 620.23,696.43 620.43,695.90 620.63,694.73 620.83,693.89 621.04,693.71 621.24,693.69 621.44,694.27 621.64,693.98 621.84,694.29 622.04,693.66 622.24,693.79 622.44,693.65 622.64,693.89 622.84,693.65 623.26,693.78 623.69,693.88 624.12,693.80 624.55,693.61 624.98,693.60 625.41,694.24 625.84,693.68 626.27,693.90 626.69,693.82 627.12,693.90 627.55,693.58 627.98,693.73 628.41,693.58 628.84,693.88 629.27,694.13 629.69,693.90 630.12,694.07 630.55,693.61 630.98,693.47 631.41,693.83 631.84,693.78 632.27,693.83 632.70,693.69 633.12,693.85 633.55,693.92 633.98,694.04 634.41,693.61 634.84,693.70 635.27,693.95 635.70,693.52 636.13,693.44 636.55,693.57 636.98,693.40 637.41,693.87 637.84,693.90 638.27,693.54 638.70,693.40 639.13,693.36 639.55,693.46 639.98,693.34 640.41,693.58 640.84,693.67 641.27,693.43 641.70,693.30 642.13,693.73 642.56,693.27 642.98,693.37 643.41,693.42 643.84,693.47 644.27,693.27 644.70,693.49 645.13,693.41 645.56,693.71 645.99,693.56 646.41,693.79 646.84,693.61" stroke="#1a1a1a" stroke-width="1.3" fill="none" stroke-linejoin="round"/>
<polyline points="504.20,708.18 504.63,708.06 505.06,707.97 505.49,708.24 505.91,708.14 506.34,708.35 506.77,708.20 507.20,708.19 507.63,707.89 508.06,708.28 508.49,707.99 508.92,707.82 509.34,707.78 509.77,707.86 510.20,707.93 510.63,708.23 511.06,707.96 511.49,707.81 511.92,708.31 512.35,708.17 512.77,707.81 513.20,707.83 513.63,707.89 514.06,708.06 514.49,708.42 514.92,708.48 515.35,708.26 515.77,708.00 516.20,708.14 516.63,708.10 517.06,708.09 517.49,707.87 517.92,708.28 518.35,708.45 518.78,708.39 519.20,707.96 519.63,708.27 520.06,708.02 520.49,708.41 520.92,708.23 521.35,708.58 521.78,708.49 522.21,708.02 522.63,708.17 523.06,708.59 523.49,708.28 523.92,708.27 524.35,708.28 524.78,708.51 525.21,708.64 525.63,708.36 526.06,708.68 526.49,708.42 526.92,708.08 527.35,708.59 527.78,708.32 528.21,708.07 528.64,708.72 529.06,708.07 529.49,708.46 529.92,708.40 530.35,708.68 530.78,708.35 531.21,708.23 531.64,708.28 532.07,708.23 532.49,708.49 532.92,708.36 533.35,708.64 533.78,708.29 534.21,708.37 534.41,708.30 534.61,708.82 534.81,708.72 535.01,708.73 535.21,708.58 535.41,708.43 535.61,708.25 535.81,713.68 536.01,719.22 536.21,724.68 536.41,729.14 536.61,733.47 536.81,738.28 537.01,742.78 537.21,746.66 537.41,750.44 537.61,750.94 537.81,752.02 538.01,752.97 538.21,753.63 538.41,754.58 538.61,755.11 538.81,755.68 539.01,756.86 539.21,757.74 539.41,758.29 539.61,759.26 539.81,760.04 540.01,760.66 540.21,761.69 540.41,762.56 540.61,763.16 540.81,763.63 541.01,763.72 541.21,764.44 541.41,764.63 541.61,765.01 541.81,765.16 542.01,765.45 542.21,765.67 542.41,766.16 542.61,766.16 542.81,766.63 543.01,767.00 543.21,767.20 543.41,767.34 543.61,767.50 543.81,767.82 544.01,768.31 544.21,768.78 544.41,769.21 544.61,769.49 544.81,769.51 545.01,770.25 545.21,770.10 545.41,770.72 545.61,770.58 545.81,771.36 546.01,771.61 546.21,772.12 546.41,772.14 546.61,772.05 546.81,772.21 547.01,772.20 547.21,772.17 547.41,771.95 547.61,772.22 547.81,772.55 548.01,772.15 548.21,772.72 548.41,772.48 548.61,772.43 548.81,772.22 549.01,772.55 549.21,772.46 549.41,772.85 549.61,773.08 549.81,773.15 550.01,773.00 550.21,772.90 550.41,772.77 550.61,773.23 550.81,773.19 551.01,773.37 551.21,773.19 551.41,773.61 551.61,773.19 551.81,773.32 552.01,773.35 552.21,773.66 552.41,773.91 552.61,773.46 552.81,773.84 553.01,773.99 553.21,773.67 553.41,773.62 553.61,774.03 553.81,774.27 554.01,774.37 554.21,774.32 554.42,774.16 554.62,774.23 554.82,774.36 555.02,774.68 555.22,774.32 555.42,774.36 555.62,774.65 555.82,774.96 556.02,774.47 556.22,774.42 556.42,774.54 556.62,774.91 556.82,775.00 557.02,774.77 557.22,774.83 557.42,775.17 557.62,775.27 557.82,775.36 558.02,775.44 558.22,775.03 558.42,775.39 558.62,775.69 558.82,775.84 559.02,775.45 559.22,775.88 559.42,775.80 559.62,776.05 559.82,775.62 560.02,776.01 560.22,776.17 560.42,775.97 560.62,775.77 560.82,775.89 561.02,775.88 561.22,775.86 561.42,775.92 561.62,776.26 561.82,775.93 562.02,776.40 562.22,776.41 562.42,776.48 562.62,776.50 562.82,776.45 563.02,776.62 563.22,776.66 563.42,776.45 563.62,776.71 563.82,776.13 564.02,776.14 564.22,776.14 564.42,776.26 564.62,776.39 564.82,776.47 565.02,776.65 565.22,776.71 565.42,776.27 565.62,776.52 565.82,776.63 566.02,776.54 566.22,776.38 566.42,776.73 566.62,776.59 566.82,776.83 567.02,776.72 567.22,777.07 567.42,777.07 567.62,776.48 567.82,776.98 568.02,776.98 568.22,776.70 568.42,776.59 568.62,776.87 568.82,776.80 569.02,777.09 569.22,777.24 569.42,776.88 569.62,776.84 569.82,777.00 570.02,777.16 570.22,777.25 570.42,777.12 570.62,776.94 570.82,776.99 571.02,777.37 571.22,777.16 571.42,776.85 571.62,777.13 571.82,777.02 572.02,777.34 572.22,776.94 572.42,777.10 572.62,777.00 572.82,777.29 573.02,777.66 573.22,777.37 573.42,777.28 573.62,777.69 573.82,777.12 574.02,777.32 574.22,777.66 574.42,777.12 574.62,777.67 574.82,777.41 575.02,777.18 575.22,777.37 575.42,777.53 575.62,777.50 575.82,777.61 576.02,777.31 576.22,777.45 576.42,777.99 576.62,777.64 576.82,777.68 577.02,777.43 577.22,777.59 577.42,778.08 577.62,777.91 577.82,777.81 578.02,777.51 578.22,777.77 578.42,778.06 578.62,777.84 578.82,777.97 579.02,778.20 579.22,778.04 579.42,778.06 579.62,777.66 579.82,777.67 580.02,778.21 580.22,777.98 580.42,778.32 580.62,778.31 580.82,778.39 581.02,778.04 581.22,778.49 581.42,778.34 581.62,778.46 581.82,777.96 582.02,778.42 582.22,778.19 582.42,778.59 582.62,778.63 582.82,778.10 583.02,778.25 583.22,778.15 583.42,778.30 583.62,778.18 583.82,778.45 584.02,778.07 584.22,778.11 584.42,778.32 584.62,778.06 584.82,778.28 585.02,778.64 585.22,778.64 585.42,778.17 585.62,778.05 585.82,778.62 586.02,778.72 586.22,778.47 586.42,778.15 586.62,778.23 586.82,778.71 587.02,778.73 587.22,778.10 587.42,778.22 587.63,778.39 587.83,778.29 588.03,778.63 588.23,778.37 588.43,778.66 588.63,778.23 588.83,778.49 589.03,778.82 589.23,778.63 589.43,778.21 589.63,778.23 589.83,778.61 590.03,778.43 590.23,778.43 590.43,778.51 590.63,778.59 590.83,778.87 591.03,778.36 591.23,778.60 591.43,778.39 591.63,778.60 591.83,778.73 592.03,778.32 592.23,778.57 592.43,778.73 592.63,778.25 592.83,778.79 593.03,778.55 593.23,778.61 593.43,778.70 593.63,778.83 593.83,778.32 594.03,778.64 594.23,778.32 594.43,778.57 594.63,778.55 594.83,778.32 595.03,778.52 595.23,778.64 595.43,778.79 595.63,778.98 595.83,778.60 596.03,778.72 596.23,778.85 596.43,779.01 596.63,779.03 596.83,779.06 597.03,778.59 597.23,778.50 597.43,779.04 597.63,778.45 597.83,778.71 598.03,778.92 598.23,778.78 598.43,778.69 598.63,779.07 598.83,778.64 599.03,778.82 599.23,779.02 599.43,778.54 599.63,778.70 599.83,778.81 600.03,778.86 600.23,778.62 600.43,778.80 600.63,778.53 600.83,778.55 601.03,778.73 601.23,778.60 601.43,779.18 601.63,778.70 601.83,778.71 602.03,779.07 602.23,779.05 602.43,778.72 602.63,779.12 602.83,778.99 603.03,778.83 603.23,779.00 603.43,778.74 603.63,778.76 603.83,779.19 604.03,778.89 604.23,779.22 604.43,778.72 604.63,778.70 604.83,778.65 605.03,779.13 605.23,779.01 605.43,778.63 605.63,778.66 605.83,779.22 606.03,778.99 606.23,779.26 606.43,778.68 606.63,779.08 606.83,778.75 607.03,779.18 607.23,779.11 607.43,779.12 607.63,778.85 607.83,779.36 608.03,778.78 608.23,778.76 608.43,779.20 608.63,778.79 608.83,778.78 609.03,779.06 609.23,779.19 609.43,779.37 609.63,779.26 609.83,778.81 610.03,779.21 610.23,779.36 610.43,778.86 610.63,779.31 610.83,778.97 611.03,779.00 611.23,778.80 611.43,779.34 611.63,779.17 611.83,779.45 612.03,779.15 612.23,778.94 612.43,778.99 612.63,779.03 612.83,779.51 613.03,779.00 613.23,778.92 613.43,779.11 613.63,778.93 613.83,779.18 614.03,779.32 614.23,779.35 614.43,779.02 614.63,779.00 614.83,779.25 615.03,779.40 615.23,779.23 615.43,779.33 615.63,779.57 615.83,779.04 616.03,779.13 616.23,779.30 616.43,779.35 616.63,779.62 616.83,779.40 617.03,779.49 617.23,779.34 617.43,779.62 617.63,779.68 617.83,779.32 618.03,779.21 618.23,779.33 618.43,765.58 618.63,752.12 618.83,738.94 619.03,732.89 619.23,726.60 619.43,720.52 619.63,713.63 619.83,712.74 620.03,711.91 620.23,711.22 620.43,711.07 620.63,710.69 620.83,709.98 621.04,709.08 621.24,709.21 621.44,708.42 621.64,708.59 621.84,708.65 622.04,708.32 622.24,708.42 622.44,708.36 622.64,708.19 622.84,708.17 623.26,708.62 623.69,708.39 624.12,708.71 624.55,708.13 624.98,708.29 625.41,708.20 625.84,708.72 626.27,708.61 626.69,708.67 627.12,708.39 627.55,708.10 627.98,708.31 628.41,708.17 628.84,708.02 629.27,708.39 629.69,708.19 630.12,708.06 630.55,708.33 630.98,708.62 631.41,708.62 631.84,708.27 632.27,708.01 632.70,708.47 633.12,708.00 633.55,708.29 633.98,707.96 634.41,708.59 634.84,708.27 635.27,708.19 635.70,708.06 636.13,708.25 636.55,708.54 636.98,708.15 637.41,707.98 637.84,708.19 638.27,708.46 638.70,708.08 639.13,708.25 639.55,708.44 639.98,708.02 640.41,708.35 640.84,708.14 641.27,707.86 641.70,707.79 642.13,708.40 642.56,708.06 642.98,708.04 643.41,708.36 643.84,708.12 644.27,708.06 644.70,707.90 645.13,708.21 645.56,707.86 645.99,708.00 646.41,708.19 646.84,708.08" stroke="#3a9a4a" stroke-width="1.3" fill="none" stroke-linejoin="round"/>
<polyline points="504.20,709.24 504.63,709.30 505.06,709.65 505.49,709.68 505.91,709.25 506.34,709.88 506.77,709.28 507.20,709.32 507.63,709.27 508.06,709.52 508.49,709.65 508.92,709.83 509.34,709.35 509.77,709.73 510.20,709.32 510.63,709.66 511.06,709.44 511.49,709.52 511.92,709.31 512.35,709.79 512.77,709.37 513.20,709.83 513.63,709.54 514.06,709.72 514.49,709.76 514.92,709.66 515.35,709.94 515.77,709.98 516.20,709.54 516.63,709.58 517.06,709.97 517.49,709.46 517.92,709.66 518.35,709.67 518.78,710.07 519.20,709.48 519.63,709.86 520.06,709.93 520.49,709.92 520.92,709.42 521.35,710.09 521.78,709.65 522.21,710.04 522.63,709.91 523.06,709.75 523.49,710.05 523.92,709.94 524.35,709.71 524.78,709.99 525.21,709.84 525.63,709.99 526.06,709.93 526.49,710.07 526.92,709.63 527.35,709.87 527.78,709.53 528.21,710.09 528.64,710.08 529.06,710.14 529.49,709.59 529.92,709.94 530.35,709.90 530.78,709.66 531.21,709.73 531.64,710.27 532.07,710.19 532.49,709.77 532.92,710.19 533.35,710.07 533.78,709.89 534.21,710.08 534.41,709.80 534.61,709.83 534.81,709.65 535.01,710.10 535.21,710.05 535.41,712.17 535.61,719.00 535.81,725.95 536.01,731.74 536.21,736.41 536.41,740.54 536.61,745.07 536.81,749.56 537.01,753.71 537.21,755.81 537.41,756.33 537.61,757.42 537.81,758.78 538.01,759.25 538.21,760.14 538.41,761.06 538.61,762.54 538.81,763.04 539.01,764.24 539.21,765.18 539.41,766.25 539.61,766.50 539.81,767.00 540.01,767.13 540.21,768.15 540.41,768.60 540.61,768.98 540.81,769.60 541.01,769.92 541.21,770.47 541.41,771.04 541.61,771.35 541.81,771.41 542.01,772.49 542.21,773.04 542.41,772.97 542.61,773.35 542.81,774.02 543.01,774.32 543.21,774.99 543.41,775.27 543.61,775.84 543.81,775.87 544.01,776.30 544.21,776.34 544.41,776.77 544.61,776.66 544.81,776.64 545.01,777.32 545.21,777.41 545.41,777.40 545.61,777.20 545.81,777.46 546.01,777.63 546.21,777.73 546.41,777.60 546.61,778.03 546.81,778.38 547.01,778.46 547.21,778.71 547.41,778.72 547.61,778.91 547.81,779.11 548.01,779.28 548.21,779.32 548.41,779.19 548.61,779.49 548.81,779.62 549.01,779.91 549.21,779.93 549.41,779.87 549.61,779.82 549.81,780.05 550.01,780.13 550.21,780.56 550.41,780.76 550.61,780.49 550.81,780.86 551.01,781.20 551.21,781.00 551.41,780.95 551.61,781.44 551.81,781.40 552.01,781.38 552.21,781.61 552.41,781.54 552.61,781.78 552.81,782.10 553.01,782.01 553.21,782.07 553.41,782.58 553.61,783.00 553.81,782.98 554.01,782.67 554.21,783.14 554.42,782.60 554.62,782.70 554.82,782.65 555.02,782.74 555.22,783.17 555.42,783.33 555.62,783.18 555.82,783.46 556.02,783.27 556.22,783.65 556.42,783.48 556.62,783.48 556.82,783.27 557.02,783.50 557.22,783.57 557.42,783.88 557.62,783.52 557.82,783.62 558.02,784.03 558.22,783.56 558.42,783.94 558.62,783.77 558.82,784.13 559.02,784.13 559.22,783.83 559.42,784.33 559.62,784.15 559.82,784.14 560.02,784.57 560.22,784.56 560.42,784.29 560.62,784.59 560.82,784.26 561.02,784.58 561.22,784.33 561.42,784.77 561.62,785.02 561.82,784.87 562.02,784.50 562.22,784.89 562.42,784.91 562.62,784.94 562.82,784.78 563.02,784.92 563.22,785.10 563.42,784.88 563.62,785.35 563.82,785.10 564.02,785.19 564.22,785.10 564.42,785.30 564.62,785.79 564.82,785.39 565.02,785.30 565.22,785.53 565.42,786.00 565.62,785.45 565.82,785.68 566.02,785.64 566.22,786.02 566.42,785.92 566.62,785.71 566.82,786.30 567.02,785.97 567.22,786.28 567.42,786.16 567.62,786.51 567.82,785.99 568.02,786.16 568.22,786.25 568.42,786.27 568.62,786.70 568.82,786.51 569.02,786.44 569.22,786.58 569.42,786.86 569.62,786.70 569.82,786.65 570.02,786.83 570.22,786.84 570.42,786.73 570.62,786.78 570.82,786.61 571.02,786.86 571.22,787.20 571.42,786.84 571.62,786.91 571.82,787.11 572.02,787.14 572.22,786.89 572.42,787.11 572.62,787.35 572.82,786.90 573.02,786.98 573.22,787.47 573.42,787.61 573.62,787.06 573.82,787.11 574.02,787.52 574.22,787.32 574.42,787.62 574.62,787.22 574.82,787.55 575.02,787.38 575.22,787.53 575.42,787.82 575.62,787.73 575.82,788.00 576.02,788.03 576.22,787.91 576.42,788.11 576.62,787.67 576.82,787.92 577.02,787.84 577.22,788.09 577.42,787.77 577.62,788.35 577.82,788.02 578.02,788.35 578.22,788.49 578.42,788.53 578.62,788.18 578.82,788.54 579.02,788.67 579.22,788.10 579.42,788.57 579.62,788.59 579.82,788.44 580.02,788.35 580.22,788.31 580.42,788.52 580.62,788.91 580.82,788.58 581.02,788.51 581.22,788.80 581.42,788.71 581.62,788.87 581.82,788.79 582.02,788.71 582.22,788.57 582.42,789.16 582.62,789.08 582.82,788.82 583.02,789.02 583.22,789.10 583.42,789.06 583.62,789.36 583.82,789.29 584.02,788.98 584.22,789.02 584.42,789.23 584.62,788.94 584.82,789.50 585.02,788.90 585.22,789.23 585.42,789.09 585.62,789.29 585.82,788.97 586.02,789.12 586.22,789.67 586.42,789.55 586.62,789.17 586.82,789.36 587.02,789.08 587.22,789.16 587.42,789.23 587.63,789.80 587.83,789.35 588.03,789.33 588.23,789.22 588.43,789.27 588.63,789.91 588.83,789.75 589.03,789.89 589.23,789.85 589.43,789.83 589.63,789.48 589.83,789.44 590.03,789.53 590.23,789.41 590.43,789.51 590.63,789.91 590.83,789.77 591.03,789.45 591.23,789.67 591.43,790.07 591.63,790.09 591.83,790.03 592.03,790.05 592.23,790.19 592.43,789.97 592.63,789.86 592.83,790.01 593.03,789.83 593.23,789.68 593.43,789.85 593.63,790.01 593.83,789.79 594.03,789.79 594.23,789.92 594.43,790.02 594.63,790.46 594.83,790.15 595.03,790.41 595.23,790.37 595.43,790.28 595.63,790.11 595.83,790.18 596.03,790.14 596.23,790.38 596.43,790.56 596.63,790.53 596.83,790.20 597.03,790.12 597.23,790.04 597.43,790.46 597.63,790.22 597.83,790.08 598.03,790.30 598.23,790.26 598.43,790.26 598.63,790.59 598.83,790.54 599.03,790.34 599.23,790.67 599.43,790.31 599.63,790.83 599.83,790.28 600.03,790.62 600.23,790.71 600.43,790.74 600.63,790.58 600.83,790.86 601.03,790.70 601.23,790.76 601.43,790.34 601.63,790.43 601.83,790.64 602.03,790.70 602.23,790.40 602.43,790.86 602.63,790.60 602.83,790.70 603.03,790.75 603.23,790.98 603.43,790.61 603.63,790.81 603.83,790.85 604.03,790.90 604.23,790.67 604.43,790.66 604.63,790.80 604.83,790.91 605.03,790.95 605.23,790.60 605.43,790.83 605.63,790.92 605.83,790.68 606.03,790.63 606.23,791.22 606.43,790.59 606.63,790.94 606.83,790.81 607.03,790.64 607.23,790.81 607.43,790.75 607.63,790.93 607.83,791.30 608.03,790.73 608.23,790.93 608.43,791.18 608.63,791.14 608.83,790.73 609.03,790.89 609.23,790.94 609.43,791.38 609.63,791.07 609.83,790.96 610.03,791.12 610.23,791.14 610.43,790.92 610.63,791.29 610.83,791.34 611.03,791.18 611.23,791.23 611.43,791.41 611.63,791.55 611.83,791.32 612.03,790.94 612.23,791.27 612.43,791.39 612.63,791.17 612.83,791.43 613.03,791.22 613.23,791.41 613.43,791.42 613.63,791.47 613.83,791.66 614.03,791.52 614.23,791.53 614.43,791.54 614.63,791.22 614.83,791.50 615.03,791.51 615.23,791.13 615.43,791.63 615.63,791.27 615.83,791.47 616.03,791.50 616.23,791.66 616.43,791.89 616.63,791.88 616.83,792.41 617.03,792.26 617.23,792.55 617.43,793.04 617.63,792.78 617.83,793.25 618.03,793.62 618.23,793.21 618.43,776.72 618.63,759.66 618.83,744.06 619.03,737.47 619.23,730.75 619.43,723.49 619.63,716.96 619.83,715.48 620.03,714.84 620.23,714.32 620.43,713.51 620.63,712.83 620.83,711.60 621.04,711.15 621.24,710.79 621.44,710.31 621.64,710.17 621.84,709.87 622.04,710.18 622.24,710.01 622.44,710.10 622.64,710.07 622.84,710.23 623.26,710.11 623.69,710.28 624.12,709.94 624.55,709.93 624.98,710.04 625.41,709.96 625.84,709.60 626.27,710.23 626.69,709.77 627.12,709.89 627.55,709.56 627.98,709.65 628.41,710.16 628.84,709.70 629.27,709.71 629.69,710.06 630.12,709.65 630.55,709.94 630.98,709.86 631.41,710.08 631.84,709.78 632.27,709.67 632.70,709.61 633.12,709.68 633.55,709.41 633.98,709.49 634.41,709.50 634.84,709.61 635.27,709.92 635.70,710.03 636.13,709.61 636.55,709.53 636.98,709.55 637.41,709.78 637.84,709.67 638.27,709.40 638.70,709.68 639.13,709.49 639.55,709.40 639.98,709.84 640.41,709.35 640.84,709.58 641.27,709.80 641.70,709.63 642.13,709.86 642.56,709.46 642.98,709.89 643.41,709.25 643.84,709.84 644.27,709.50 644.70,709.20 645.13,709.37 645.56,709.87 645.99,709.67 646.41,709.68 646.84,709.72" stroke="#e03838" stroke-width="1.3" fill="none" stroke-linejoin="round"/>
<polyline points="504.20,694.15 504.63,694.37 505.06,694.49 505.49,694.81 505.91,694.81 506.34,694.29 506.77,694.88 507.20,694.59 507.63,694.42 508.06,694.27 508.49,694.52 508.92,694.59 509.34,694.55 509.77,694.46 510.20,694.91 510.63,694.58 511.06,694.47 511.49,694.81 511.92,694.44 512.35,694.58 512.77,694.36 513.20,694.46 513.63,695.00 514.06,694.74 514.49,694.68 514.92,694.79 515.35,694.80 515.77,694.70 516.20,694.60 516.63,694.45 517.06,694.38 517.49,694.45 517.92,694.65 518.35,694.38 518.78,694.85 519.20,694.62 519.63,694.56 520.06,694.62 520.49,694.75 520.92,694.56 521.35,695.02 521.78,694.77 522.21,694.48 522.63,694.50 523.06,695.07 523.49,694.86 523.92,694.67 524.35,694.97 524.78,694.51 525.21,695.11 525.63,695.15 526.06,694.96 526.49,694.54 526.92,694.81 527.35,695.10 527.78,694.94 528.21,694.68 528.64,694.70 529.06,694.59 529.49,694.92 529.92,694.69 530.35,694.88 530.78,695.20 531.21,695.21 531.64,694.93 532.07,695.14 532.49,694.69 532.92,695.27 533.35,695.22 533.78,694.96 534.21,695.25 534.41,694.84 534.61,695.32 534.81,694.86 535.01,695.29 535.21,695.23 535.41,695.30 535.61,695.16 535.81,697.70 536.01,701.35 536.21,705.11 536.41,708.79 536.61,712.63 536.81,716.55 537.01,721.14 537.21,725.52 537.41,729.77 537.61,734.18 537.81,735.99 538.01,737.03 538.21,738.10 538.41,739.34 538.61,740.86 538.81,741.75 539.01,743.00 539.21,744.27 539.41,744.78 539.61,746.51 539.81,747.10 540.01,748.32 540.21,749.84 540.41,750.99 540.61,751.50 540.81,751.61 541.01,751.99 541.21,751.99 541.41,752.03 541.61,752.25 541.81,752.39 542.01,752.54 542.21,753.39 542.41,753.59 542.61,753.38 542.81,753.63 543.01,753.74 543.21,754.30 543.41,754.30 543.61,754.28 543.81,754.99 544.01,755.23 544.21,754.82 544.41,755.31 544.61,755.35 544.81,755.85 545.01,755.86 545.21,756.03 545.41,756.24 545.61,756.66 545.81,756.79 546.01,756.98 546.21,757.33 546.41,757.22 546.61,757.59 546.81,757.27 547.01,757.56 547.21,757.69 547.41,757.52 547.61,757.53 547.81,757.71 548.01,757.69 548.21,757.37 548.41,757.56 548.61,757.42 548.81,757.36 549.01,757.87 549.21,757.66 549.41,757.64 549.61,757.52 549.81,757.56 550.01,758.05 550.21,757.87 550.41,757.96 550.61,758.17 550.81,758.37 551.01,758.26 551.21,757.96 551.41,758.54 551.61,758.02 551.81,758.33 552.01,758.42 552.21,758.20 552.41,758.66 552.61,758.51 552.81,758.62 553.01,758.25 553.21,758.78 553.41,758.43 553.61,758.70 553.81,758.83 554.01,758.57 554.21,758.57 554.42,758.66 554.62,759.15 554.82,758.96 555.02,758.87 555.22,758.97 555.42,759.08 555.62,758.84 555.82,758.75 556.02,758.81 556.22,759.18 556.42,759.23 556.62,759.53 556.82,759.32 557.02,759.52 557.22,759.65 557.42,759.35 557.62,759.34 557.82,759.41 558.02,759.38 558.22,759.69 558.42,759.60 558.62,759.32 558.82,759.94 559.02,759.68 559.22,759.87 559.42,759.77 559.62,759.84 559.82,759.87 560.02,759.58 560.22,759.63 560.42,760.09 560.62,759.86 560.82,759.74 561.02,760.24 561.22,760.22 561.42,760.25 561.62,760.01 561.82,759.85 562.02,760.31 562.22,759.95 562.42,760.29 562.62,760.33 562.82,760.05 563.02,759.88 563.22,760.32 563.42,760.48 563.62,760.36 563.82,760.66 564.02,760.15 564.22,760.52 564.42,760.33 564.62,760.46 564.82,760.28 565.02,760.25 565.22,760.50 565.42,760.56 565.62,760.79 565.82,760.60 566.02,760.55 566.22,760.67 566.42,760.68 566.62,760.54 566.82,760.47 567.02,760.78 567.22,760.59 567.42,760.37 567.62,760.48 567.82,760.64 568.02,760.89 568.22,760.89 568.42,760.79 568.62,761.04 568.82,760.72 569.02,760.76 569.22,761.06 569.42,761.03 569.62,760.87 569.82,761.22 570.02,760.63 570.22,761.01 570.42,761.26 570.62,761.29 570.82,760.83 571.02,761.28 571.22,761.11 571.42,761.42 571.62,761.01 571.82,761.27 572.02,761.27 572.22,761.54 572.42,761.10 572.62,761.16 572.82,760.99 573.02,761.41 573.22,761.00 573.42,761.56 573.62,761.09 573.82,761.15 574.02,761.70 574.22,761.40 574.42,761.60 574.62,761.34 574.82,761.29 575.02,761.40 575.22,761.85 575.42,761.31 575.62,761.83 575.82,761.84 576.02,761.72 576.22,761.45 576.42,761.80 576.62,761.94 576.82,761.74 577.02,761.50 577.22,761.79 577.42,762.06 577.62,761.82 577.82,761.53 578.02,761.59 578.22,761.91 578.42,761.53 578.62,761.51 578.82,761.80 579.02,761.74 579.22,761.92 579.42,761.65 579.62,762.01 579.82,762.11 580.02,761.88 580.22,762.09 580.42,762.07 580.62,762.28 580.82,762.15 581.02,762.21 581.22,762.18 581.42,762.38 581.62,761.90 581.82,761.93 582.02,762.48 582.22,762.47 582.42,761.92 582.62,762.56 582.82,762.38 583.02,762.56 583.22,762.46 583.42,762.24 583.62,762.07 583.82,762.53 584.02,762.51 584.22,762.35 584.42,762.22 584.62,762.29 584.82,762.70 585.02,762.38 585.22,762.21 585.42,762.77 585.62,762.77 585.82,762.22 586.02,762.24 586.22,762.63 586.42,762.40 586.62,762.47 586.82,762.62 587.02,762.34 587.22,762.58 587.42,762.32 587.63,762.34 587.83,762.57 588.03,762.50 588.23,762.84 588.43,762.32 588.63,762.87 588.83,762.42 589.03,762.49 589.23,762.33 589.43,762.49 589.63,762.96 589.83,762.54 590.03,762.88 590.23,762.99 590.43,762.80 590.63,762.46 590.83,762.64 591.03,762.46 591.23,762.53 591.43,762.60 591.63,762.49 591.83,762.86 592.03,762.76 592.23,762.61 592.43,762.59 592.63,762.52 592.83,762.51 593.03,762.75 593.23,762.50 593.43,762.83 593.63,762.65 593.83,763.02 594.03,762.68 594.23,763.10 594.43,763.17 594.63,763.17 594.83,762.69 595.03,763.19 595.23,762.88 595.43,763.18 595.63,762.89 595.83,762.95 596.03,762.77 596.23,763.13 596.43,762.86 596.63,763.23 596.83,763.12 597.03,762.93 597.23,762.66 597.43,762.84 597.63,762.96 597.83,762.95 598.03,763.11 598.23,762.72 598.43,763.06 598.63,763.37 598.83,763.43 599.03,763.26 599.23,763.28 599.43,763.24 599.63,763.53 599.83,763.40 600.03,763.18 600.23,763.22 600.43,763.55 600.63,763.30 600.83,763.34 601.03,763.16 601.23,763.42 601.43,763.31 601.63,763.65 601.83,763.70 602.03,763.72 602.23,763.70 602.43,763.08 602.63,763.12 602.83,763.32 603.03,763.68 603.23,763.51 603.43,763.31 603.63,763.22 603.83,763.34 604.03,763.27 604.23,763.30 604.43,763.73 604.63,763.36 604.83,763.36 605.03,763.69 605.23,763.37 605.43,763.87 605.63,763.76 605.83,763.94 606.03,763.85 606.23,763.87 606.43,763.56 606.63,763.68 606.83,763.67 607.03,763.69 607.23,764.07 607.43,763.76 607.63,764.03 607.83,763.92 608.03,763.56 608.23,763.66 608.43,763.93 608.63,764.10 608.83,763.72 609.03,763.75 609.23,763.86 609.43,763.93 609.63,763.92 609.83,764.29 610.03,764.08 610.23,763.87 610.43,763.93 610.63,764.06 610.83,763.83 611.03,764.01 611.23,763.80 611.43,764.23 611.63,764.39 611.83,764.43 612.03,764.23 612.23,764.10 612.43,764.24 612.63,764.25 612.83,764.00 613.03,764.27 613.23,764.26 613.43,764.07 613.63,764.25 613.83,764.54 614.03,764.42 614.23,764.22 614.43,764.17 614.63,764.46 614.83,764.43 615.03,764.26 615.23,764.40 615.43,764.37 615.63,764.54 615.83,764.73 616.03,764.40 616.23,764.53 616.43,764.57 616.63,764.68 616.83,764.41 617.03,764.44 617.23,764.95 617.43,764.43 617.63,764.84 617.83,764.57 618.03,764.76 618.23,764.77 618.43,752.44 618.63,740.21 618.83,728.97 619.03,718.88 619.23,709.50 619.43,702.85 619.63,701.47 619.83,700.23 620.03,699.51 620.23,698.54 620.43,696.88 620.63,696.10 620.83,694.93 621.04,695.34 621.24,695.06 621.44,695.26 621.64,695.10 621.84,694.72 622.04,694.94 622.24,695.12 622.44,694.73 622.64,694.68 622.84,695.31 623.26,695.25 623.69,695.05 624.12,694.63 624.55,695.07 624.98,695.26 625.41,695.11 625.84,695.06 626.27,694.85 626.69,694.98 627.12,695.18 627.55,694.87 627.98,694.57 628.41,694.61 628.84,695.16 629.27,694.99 629.69,695.14 630.12,694.58 630.55,694.54 630.98,694.93 631.41,694.75 631.84,694.76 632.27,694.59 632.70,694.96 633.12,694.96 633.55,694.92 633.98,694.70 634.41,694.73 634.84,694.66 635.27,694.70 635.70,694.59 636.13,694.69 636.55,695.02 636.98,694.90 637.41,694.43 637.84,694.80 638.27,694.89 638.70,694.55 639.13,694.92 639.55,694.95 639.98,694.33 640.41,694.71 640.84,694.54 641.27,694.59 641.70,694.64 642.13,694.85 642.56,694.68 642.98,694.85 643.41,694.39 643.84,694.77 644.27,694.48 644.70,694.32 645.13,694.75 645.56,694.58 645.99,694.33 646.41,694.79 646.84,694.50" stroke="#3858c0" stroke-width="1.3" fill="none" stroke-linejoin="round"/>
<line x1="544.80" y1="676.00" x2="559.40" y2="676.00" stroke="#1a1a1a" stroke-width="1.5" />
<text x="564.10" y="679.10" font-size="8.7" font-weight="bold" fill="#333" >TiO<tspan font-size="5.8" dy="2">2</tspan><tspan dy="-2"> without HC</tspan></text>
<line x1="544.80" y1="688.80" x2="559.40" y2="688.80" stroke="#3a9a4a" stroke-width="1.5" />
<text x="564.10" y="691.90" font-size="8.7" font-weight="bold" fill="#333" >TiO<tspan font-size="5.8" dy="2">2</tspan><tspan dy="-2">-550</tspan></text>
<line x1="544.80" y1="701.00" x2="559.40" y2="701.00" stroke="#e03838" stroke-width="1.5" />
<text x="564.10" y="704.10" font-size="8.7" font-weight="bold" fill="#333" >TiO<tspan font-size="5.8" dy="2">2</tspan><tspan dy="-2">-600</tspan></text>
<line x1="544.80" y1="713.40" x2="559.40" y2="713.40" stroke="#3858c0" stroke-width="1.5" />
<text x="564.10" y="716.50" font-size="8.7" font-weight="bold" fill="#333" >TiO<tspan font-size="5.8" dy="2">2</tspan><tspan dy="-2">-650</tspan></text>
<defs><marker id="ak" markerWidth="5" markerHeight="5" refX="4" refY="2.5" orient="auto" markerUnits="userSpaceOnUse"><path d="M0,0 L5,2.5 L0,5 z" fill="#111"/></marker><marker id="ab" markerWidth="5" markerHeight="5" refX="4" refY="2.5" orient="auto" markerUnits="userSpaceOnUse"><path d="M0,0 L5,2.5 L0,5 z" fill="#3858c0"/></marker><marker id="ag" markerWidth="5" markerHeight="5" refX="4" refY="2.5" orient="auto" markerUnits="userSpaceOnUse"><path d="M0,0 L5,2.5 L0,5 z" fill="#3a9a4a"/></marker><marker id="ar" markerWidth="5" markerHeight="5" refX="4" refY="2.5" orient="auto" markerUnits="userSpaceOnUse"><path d="M0,0 L5,2.5 L0,5 z" fill="#e03838"/></marker></defs>
<line x1="602.70" y1="746.30" x2="629.00" y2="728.90" stroke="#1a1a1a" stroke-width="0.9" marker-end="url(#ak)"/>
<text x="631.80" y="731.50" font-size="7.0" font-weight="bold" fill="#1a1a1a" >R<tspan font-size="4.8" dy="1.4">a</tspan><tspan dy="-1.4">/R</tspan><tspan font-size="4.8" dy="1.4">g</tspan><tspan dy="-1.4"> = 88</tspan></text>
<line x1="595.80" y1="762.80" x2="629.00" y2="747.40" stroke="#3858c0" stroke-width="0.9" marker-end="url(#ab)"/>
<text x="631.80" y="750.00" font-size="7.0" font-weight="bold" fill="#3858c0" >R<tspan font-size="4.8" dy="1.4">a</tspan><tspan dy="-1.4">/R</tspan><tspan font-size="4.8" dy="1.4">g</tspan><tspan dy="-1.4"> = 283</tspan></text>
<line x1="601.00" y1="779.00" x2="629.00" y2="763.00" stroke="#3a9a4a" stroke-width="0.9" marker-end="url(#ag)"/>
<text x="631.80" y="765.60" font-size="7.0" font-weight="bold" fill="#3a9a4a" >R<tspan font-size="4.8" dy="1.4">a</tspan><tspan dy="-1.4">/R</tspan><tspan font-size="4.8" dy="1.4">g</tspan><tspan dy="-1.4"> = 427</tspan></text>
<line x1="597.50" y1="790.30" x2="629.00" y2="778.40" stroke="#e03838" stroke-width="0.9" marker-end="url(#ar)"/>
<text x="631.80" y="781.00" font-size="7.0" font-weight="bold" fill="#e03838" >R<tspan font-size="4.8" dy="1.4">a</tspan><tspan dy="-1.4">/R</tspan><tspan font-size="4.8" dy="1.4">g</tspan><tspan dy="-1.4"> = 796</tspan></text>
</svg>
</body></html>
